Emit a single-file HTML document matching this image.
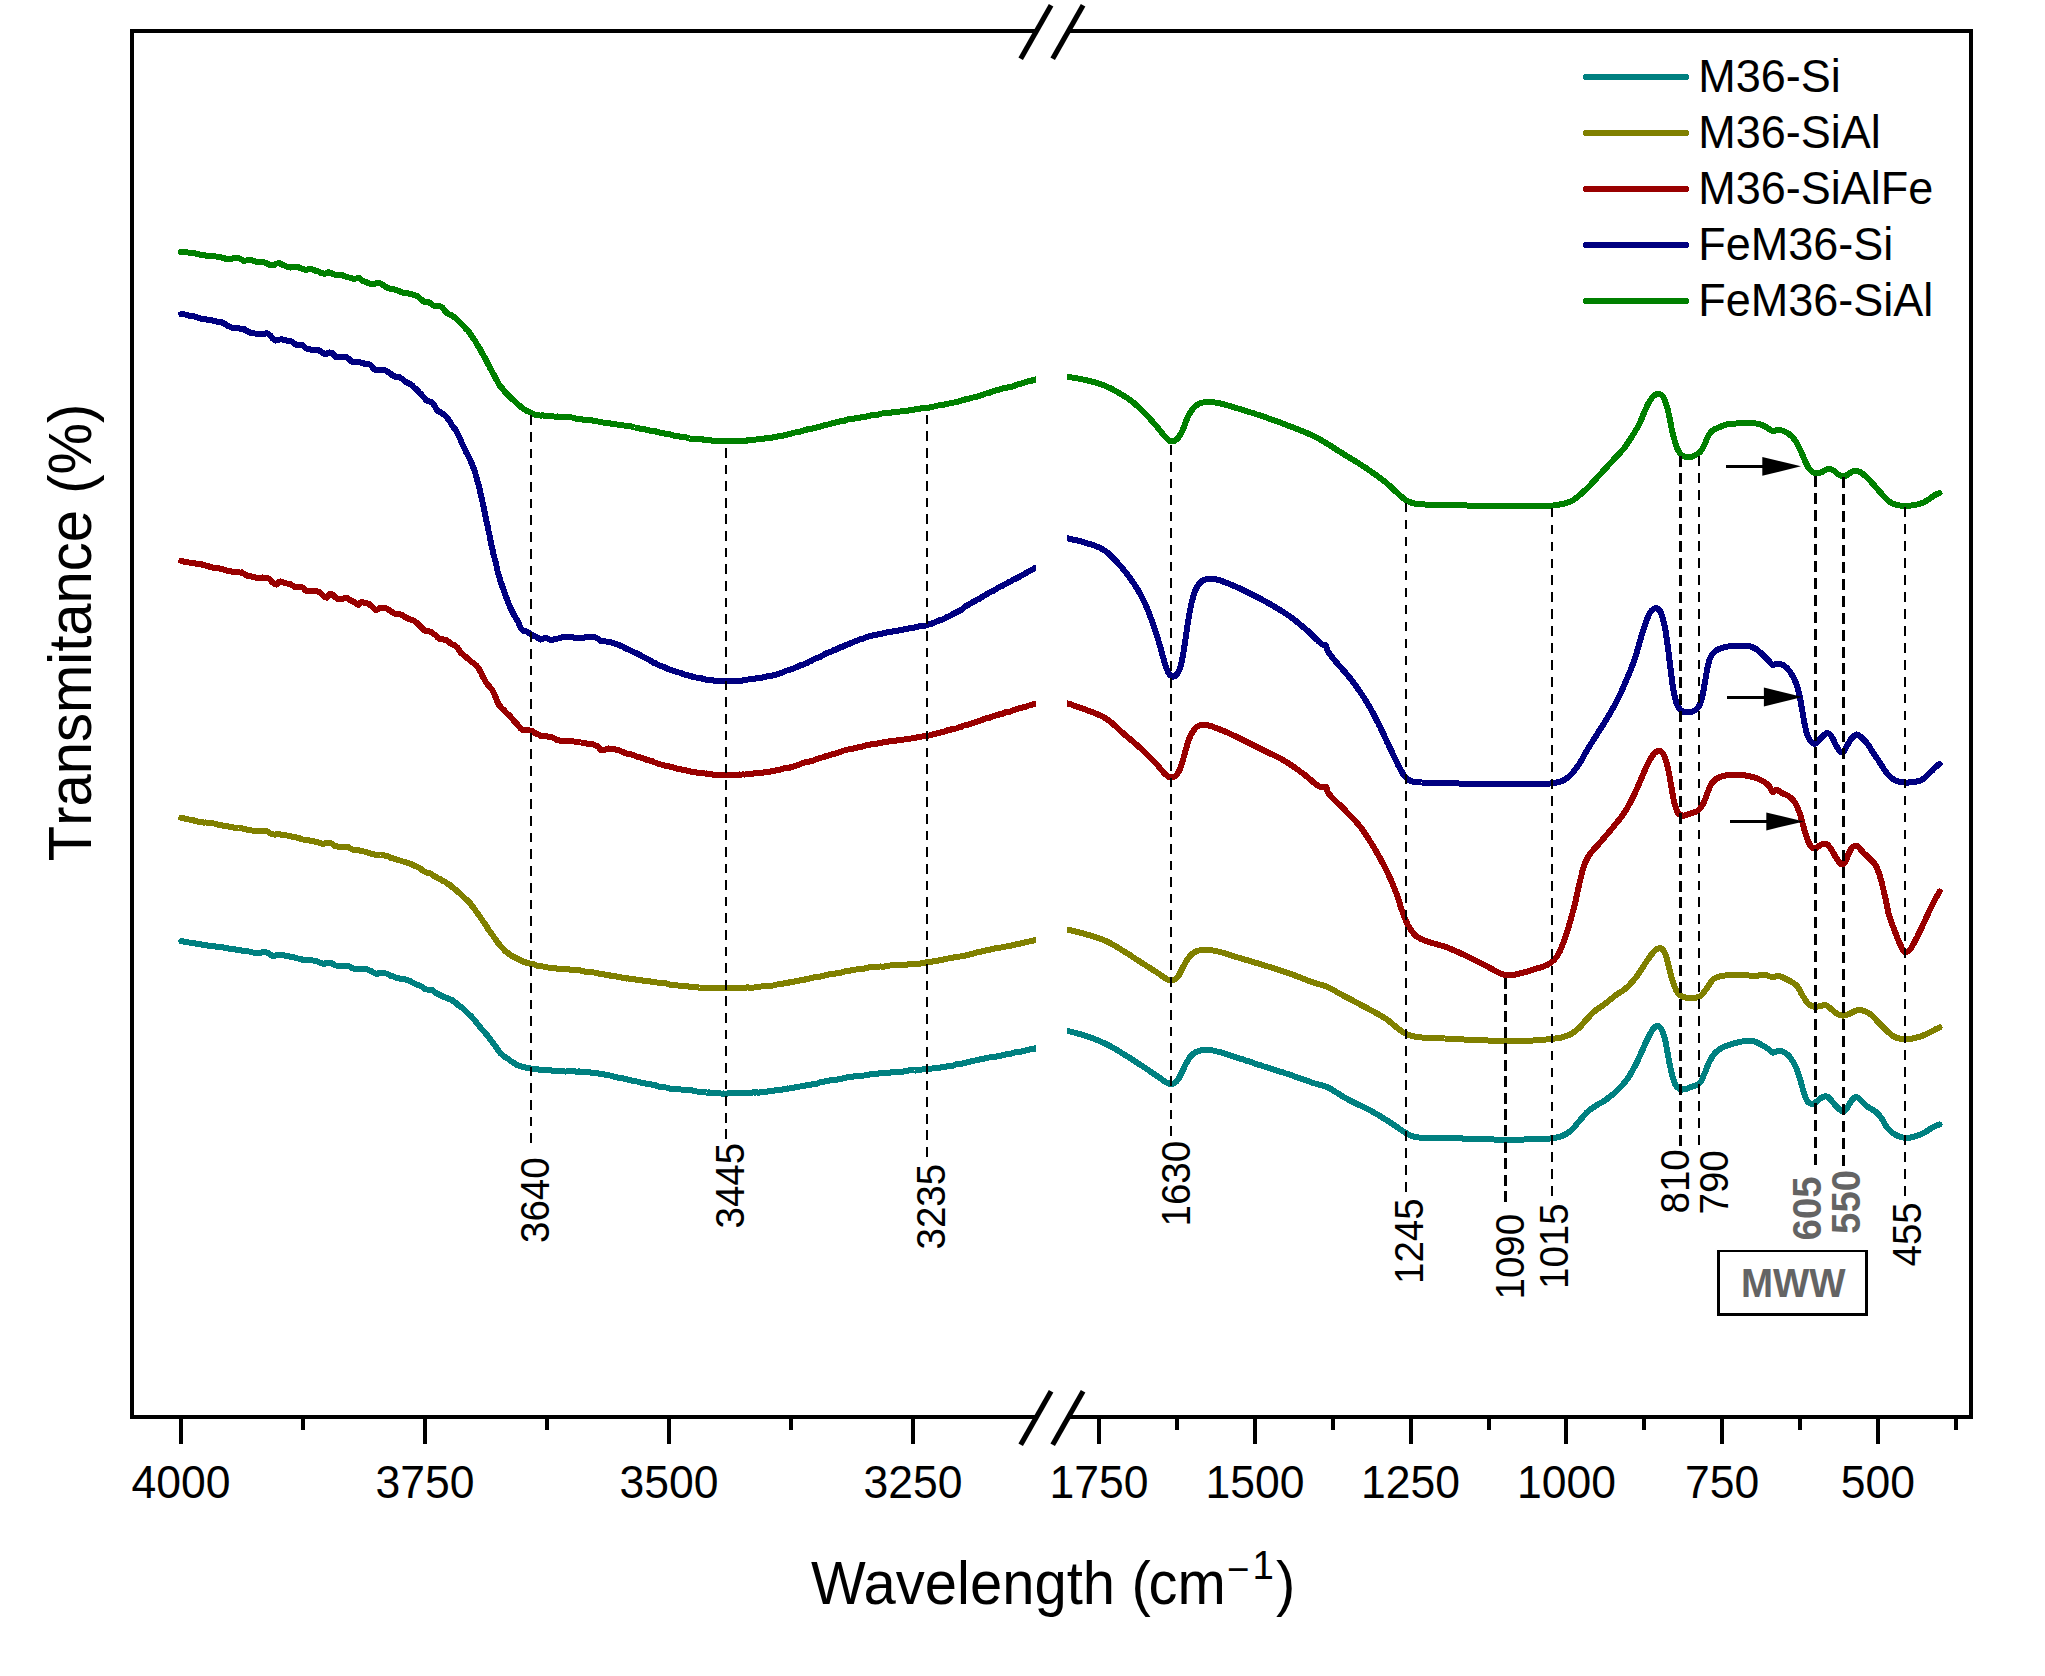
<!DOCTYPE html>
<html lang="en"><head><meta charset="utf-8"><title>FTIR spectra</title>
<style>html,body{margin:0;padding:0;background:#fff}svg{display:block}</style></head>
<body>
<svg width="2045" height="1676" viewBox="0 0 2045 1676">
<rect width="2045" height="1676" fill="#fff"/>
<g fill="none" stroke-width="6" stroke-linejoin="round" shape-rendering="crispEdges">
<path d="M181.2 941.2 L181.4 941.1 L182.1 941.4 L183.1 941.4 L184.4 941.7 L185.9 942.0 L187.5 942.1 L189.1 942.5 L190.6 942.6 L192.0 942.9 L193.1 942.9 L194.3 943.0 L195.5 943.4 L196.7 943.9 L198.0 943.8 L199.2 943.9 L200.5 944.2 L201.7 944.7 L203.0 944.8 L204.2 944.9 L205.5 945.3 L206.7 945.1 L207.9 945.6 L209.1 945.6 L210.4 945.6 L211.6 945.6 L212.8 945.9 L214.0 946.4 L215.2 946.4 L216.4 946.7 L217.6 947.1 L218.9 947.2 L220.1 947.4 L221.3 947.3 L222.5 947.4 L223.8 947.5 L225.0 948.0 L226.3 948.2 L227.6 948.3 L228.8 948.6 L230.1 948.7 L231.3 948.8 L232.5 949.2 L233.7 949.5 L234.9 949.4 L236.0 949.6 L237.4 949.8 L238.7 950.2 L240.0 950.4 L241.2 950.4 L242.5 950.8 L243.7 950.7 L245.0 950.8 L246.3 951.2 L247.6 951.2 L248.9 951.5 L250.2 951.5 L251.6 952.0 L252.9 952.5 L254.3 952.7 L255.6 953.1 L256.8 953.0 L258.0 953.2 L259.3 953.1 L260.6 952.8 L261.8 952.4 L262.9 952.3 L264.1 952.4 L265.3 952.2 L266.6 952.6 L267.8 952.9 L269.0 953.8 L270.3 954.6 L271.5 955.5 L272.7 955.9 L274.2 955.7 L275.5 955.5 L277.0 955.4 L278.6 955.0 L279.7 955.1 L281.0 955.1 L282.3 955.1 L283.6 955.2 L285.0 955.7 L286.4 955.8 L287.7 956.0 L289.1 956.2 L290.3 956.8 L291.6 956.7 L293.0 957.0 L294.3 957.3 L295.5 957.8 L296.8 958.2 L298.0 958.5 L299.1 958.5 L300.4 958.8 L301.5 959.1 L302.7 959.8 L303.8 960.4 L305.0 960.3 L306.4 960.2 L307.9 960.1 L309.3 959.9 L310.8 960.1 L312.0 960.4 L313.2 960.5 L314.5 960.5 L315.8 960.9 L317.0 961.2 L318.2 961.7 L319.4 962.4 L320.6 962.9 L321.7 963.3 L322.8 963.7 L324.0 963.9 L325.2 963.4 L326.4 963.4 L327.6 963.1 L328.7 962.9 L329.9 962.9 L331.1 963.1 L332.3 963.7 L333.4 964.3 L334.6 965.2 L335.8 965.5 L337.2 965.7 L338.7 965.8 L340.1 965.7 L341.6 965.8 L343.1 965.7 L344.6 965.5 L346.0 965.5 L347.5 965.6 L348.7 966.1 L349.8 966.6 L351.0 967.6 L352.2 968.3 L353.4 968.5 L354.6 968.6 L355.8 968.7 L357.0 968.8 L358.2 968.7 L359.5 969.0 L360.7 969.4 L361.9 969.3 L363.2 969.3 L364.4 969.1 L365.6 969.1 L366.8 969.3 L368.0 969.6 L369.3 970.4 L370.5 970.8 L371.7 971.2 L372.9 972.3 L373.9 972.8 L375.4 973.6 L376.8 974.2 L378.2 973.5 L379.6 972.8 L381.2 972.7 L382.3 972.9 L383.5 973.1 L384.7 973.2 L385.9 973.5 L387.1 973.8 L388.3 974.5 L389.4 975.0 L390.5 975.7 L391.7 976.0 L393.0 976.3 L394.2 976.9 L395.4 977.5 L396.6 977.9 L397.9 978.2 L399.2 978.5 L400.5 978.8 L401.8 978.8 L403.1 979.1 L404.3 979.4 L405.6 979.5 L406.8 979.8 L408.1 980.3 L409.4 980.7 L410.6 981.5 L411.9 982.3 L413.2 982.7 L414.5 983.4 L415.8 984.1 L417.0 984.7 L418.3 985.0 L419.4 985.3 L420.6 985.9 L421.8 986.6 L422.9 987.3 L424.0 988.2 L425.2 989.1 L426.7 989.5 L428.1 989.5 L429.6 989.6 L431.1 990.0 L432.3 990.2 L433.5 991.0 L434.7 992.0 L435.8 992.9 L437.0 993.7 L438.2 994.1 L439.3 994.5 L440.5 995.3 L441.6 995.7 L442.8 996.5 L444.0 997.2 L445.2 997.3 L446.3 997.6 L447.5 998.3 L448.7 998.8 L449.9 999.1 L451.1 999.6 L452.3 1000.2 L453.4 1001.3 L454.6 1002.3 L455.6 1002.7 L456.6 1003.6 L457.5 1004.6 L458.5 1005.3 L459.4 1005.8 L460.4 1006.6 L461.4 1007.2 L462.4 1007.8 L463.5 1009.2 L464.4 1010.1 L465.4 1011.0 L466.3 1012.0 L467.2 1012.7 L468.1 1013.7 L469.0 1014.6 L470.0 1015.4 L470.6 1015.8 L471.3 1016.5 L472.0 1017.2 L472.7 1018.2 L473.5 1019.0 L474.3 1020.0 L475.1 1020.8 L476.0 1022.2 L476.9 1023.1 L477.7 1024.1 L478.6 1025.2 L479.5 1026.5 L480.3 1027.3 L481.1 1028.5 L481.9 1029.4 L482.7 1030.2 L483.5 1031.2 L484.4 1031.9 L485.2 1032.9 L486.0 1033.8 L486.8 1034.6 L487.6 1036.0 L488.4 1036.8 L489.2 1037.9 L489.9 1039.0 L490.7 1040.0 L491.4 1040.8 L492.2 1041.8 L492.9 1042.8 L493.7 1044.0 L494.5 1044.8 L495.2 1046.0 L495.9 1046.9 L496.6 1047.9 L497.3 1049.2 L498.1 1050.2 L498.8 1051.2 L499.6 1052.3 L500.5 1053.4 L501.4 1054.1 L502.4 1054.9 L503.3 1055.6 L504.3 1056.4 L505.4 1057.2 L506.4 1057.8 L507.5 1058.6 L508.5 1059.2 L509.6 1060.2 L510.7 1060.9 L511.8 1061.7 L512.9 1062.5 L514.0 1062.9 L515.1 1063.6 L516.3 1064.5 L517.4 1065.2 L518.6 1065.5 L519.8 1065.8 L521.0 1066.4 L522.2 1066.6 L523.4 1067.0 L524.6 1067.2 L525.8 1067.7 L527.1 1068.1 L528.3 1068.5 L529.6 1068.3 L530.9 1068.6 L532.2 1068.8 L533.5 1068.6 L534.8 1069.0 L536.1 1069.4 L537.3 1069.2 L538.6 1069.6 L539.8 1069.6 L541.0 1069.7 L542.2 1070.2 L543.5 1070.4 L544.7 1070.2 L546.0 1070.3 L547.3 1070.4 L548.6 1070.5 L550.0 1070.4 L551.4 1070.5 L552.5 1070.9 L553.6 1070.6 L554.7 1070.8 L555.9 1070.9 L557.1 1070.7 L558.3 1070.8 L559.5 1071.0 L560.7 1071.1 L562.0 1070.9 L563.2 1071.3 L564.5 1071.4 L565.8 1071.6 L567.0 1071.2 L568.3 1071.1 L569.6 1070.9 L570.8 1071.2 L572.0 1071.1 L573.3 1071.0 L574.5 1071.1 L575.6 1071.5 L576.8 1071.8 L578.1 1071.6 L579.3 1071.4 L580.6 1071.8 L581.8 1071.9 L583.0 1072.1 L584.2 1071.8 L585.4 1071.7 L586.6 1072.0 L587.8 1072.1 L589.0 1072.0 L590.2 1072.5 L591.4 1072.7 L592.6 1073.0 L593.7 1072.7 L594.9 1073.1 L596.0 1073.0 L597.2 1073.4 L598.4 1073.5 L599.6 1073.6 L600.8 1073.9 L602.0 1074.4 L603.1 1074.4 L604.3 1074.4 L605.4 1074.8 L606.6 1075.0 L607.7 1075.1 L608.9 1075.3 L610.1 1075.5 L611.3 1075.8 L612.5 1076.1 L613.7 1076.5 L615.0 1077.0 L616.1 1077.2 L617.3 1077.5 L618.4 1077.5 L619.6 1077.8 L620.8 1077.8 L622.0 1078.1 L623.2 1078.2 L624.4 1078.8 L625.7 1079.2 L626.9 1079.2 L628.2 1079.6 L629.4 1080.1 L630.7 1080.1 L631.9 1080.6 L633.2 1080.7 L634.4 1081.0 L635.6 1081.4 L636.9 1081.5 L638.1 1081.7 L639.2 1082.1 L640.4 1082.6 L641.6 1082.6 L642.8 1083.0 L644.0 1083.3 L645.2 1083.5 L646.4 1083.7 L647.6 1083.8 L648.7 1083.8 L649.9 1084.0 L651.0 1084.2 L652.2 1084.8 L653.4 1085.0 L654.5 1085.2 L655.7 1085.3 L656.9 1086.0 L658.1 1086.5 L659.3 1086.8 L660.5 1086.8 L661.7 1086.8 L662.9 1087.0 L664.0 1087.2 L665.2 1087.3 L666.4 1087.6 L667.6 1087.7 L668.8 1088.2 L670.0 1088.6 L671.2 1088.7 L672.4 1088.6 L673.6 1089.0 L674.9 1088.9 L676.1 1089.0 L677.3 1088.9 L678.5 1089.1 L679.8 1089.3 L681.0 1089.5 L682.2 1089.5 L683.4 1089.7 L684.7 1089.6 L685.9 1089.8 L687.1 1089.8 L688.3 1090.1 L689.5 1090.1 L690.7 1090.1 L692.0 1090.4 L693.2 1090.6 L694.4 1090.9 L695.6 1091.2 L696.8 1091.5 L698.0 1091.7 L699.2 1091.9 L700.5 1092.1 L701.7 1092.1 L702.9 1092.0 L704.1 1092.4 L705.3 1092.2 L706.5 1092.5 L707.7 1092.6 L709.0 1092.4 L710.2 1092.7 L711.4 1093.0 L712.6 1093.1 L713.8 1093.2 L715.0 1093.3 L716.2 1093.0 L717.4 1093.1 L718.6 1093.1 L719.9 1093.3 L721.1 1093.5 L722.3 1093.6 L723.5 1093.5 L724.7 1093.7 L725.9 1093.6 L727.1 1093.6 L728.3 1093.4 L729.5 1093.1 L730.7 1093.0 L732.0 1093.0 L733.2 1092.9 L734.4 1093.3 L735.6 1093.3 L736.8 1093.4 L738.0 1093.4 L739.2 1093.5 L740.4 1093.4 L741.6 1093.0 L742.8 1093.2 L744.1 1093.3 L745.3 1093.2 L746.5 1093.2 L747.7 1093.2 L748.9 1092.8 L750.1 1093.0 L751.3 1092.7 L752.5 1092.5 L753.7 1092.4 L754.9 1092.6 L756.2 1092.4 L757.4 1092.5 L758.6 1092.7 L759.8 1092.5 L761.0 1092.2 L762.2 1092.1 L763.4 1092.1 L764.6 1092.1 L765.8 1092.0 L767.0 1091.8 L768.2 1091.4 L769.5 1091.1 L770.7 1090.9 L771.9 1091.0 L773.1 1090.7 L774.3 1090.7 L775.5 1090.2 L776.7 1089.9 L777.9 1089.8 L779.1 1089.9 L780.3 1089.9 L781.5 1089.8 L782.8 1089.4 L784.0 1089.2 L785.2 1089.0 L786.4 1088.8 L787.6 1088.4 L788.8 1088.6 L790.0 1088.2 L791.2 1088.3 L792.4 1088.3 L793.7 1087.6 L794.9 1087.4 L796.1 1087.4 L797.3 1087.4 L798.5 1087.0 L799.7 1086.6 L801.0 1086.2 L802.2 1086.3 L803.4 1085.9 L804.6 1085.7 L805.8 1085.3 L807.0 1085.2 L808.2 1085.3 L809.4 1084.7 L810.7 1084.7 L811.9 1084.4 L813.1 1084.4 L814.3 1084.2 L815.5 1083.7 L816.7 1083.7 L817.9 1083.3 L819.1 1082.7 L820.4 1082.3 L821.6 1082.2 L822.8 1082.0 L824.0 1081.7 L825.2 1081.3 L826.4 1081.1 L827.6 1080.9 L828.8 1080.9 L830.0 1080.4 L831.2 1080.4 L832.4 1080.4 L833.6 1079.8 L834.9 1079.9 L836.1 1079.7 L837.3 1079.6 L838.5 1079.1 L839.7 1078.8 L840.9 1078.5 L842.1 1078.6 L843.3 1078.4 L844.5 1078.0 L845.7 1077.8 L846.9 1077.4 L848.2 1077.0 L849.4 1076.7 L850.6 1076.9 L851.8 1076.7 L853.0 1076.8 L854.2 1076.4 L855.4 1076.1 L856.6 1076.0 L857.8 1075.7 L859.0 1075.6 L860.3 1075.8 L861.5 1075.8 L862.7 1075.7 L863.9 1075.5 L865.1 1075.4 L866.3 1075.4 L867.5 1075.1 L868.7 1074.9 L869.9 1074.4 L871.0 1074.4 L872.2 1074.2 L873.4 1074.2 L874.6 1074.2 L875.7 1073.8 L876.9 1073.5 L878.1 1073.7 L879.3 1073.3 L880.5 1073.3 L881.7 1073.1 L882.9 1073.0 L884.1 1073.1 L885.4 1073.3 L886.6 1072.9 L887.9 1072.9 L889.2 1072.6 L890.5 1072.5 L891.6 1072.3 L892.8 1072.1 L893.9 1071.8 L895.2 1071.7 L896.4 1072.0 L897.6 1071.9 L898.9 1071.6 L900.2 1071.8 L901.5 1071.9 L902.8 1071.6 L904.1 1071.2 L905.4 1070.9 L906.7 1070.7 L908.0 1070.6 L909.3 1070.4 L910.6 1070.3 L911.9 1070.2 L913.2 1070.3 L914.5 1070.5 L915.7 1070.5 L917.0 1070.2 L918.2 1070.0 L919.4 1070.0 L920.6 1069.8 L921.7 1069.6 L922.8 1069.3 L923.9 1069.2 L924.9 1069.5 L925.9 1069.1 L926.9 1069.1 L928.3 1069.1 L929.7 1069.1 L930.9 1068.7 L932.1 1068.5 L933.2 1068.3 L934.3 1068.2 L935.4 1068.1 L936.5 1068.3 L937.7 1068.3 L938.8 1068.2 L940.1 1067.6 L941.4 1067.1 L942.5 1067.2 L943.5 1067.2 L944.7 1066.9 L945.8 1066.7 L947.0 1066.2 L948.1 1066.0 L949.4 1066.1 L950.6 1066.0 L951.8 1065.8 L953.0 1065.7 L954.3 1065.1 L955.5 1064.5 L956.8 1064.1 L958.1 1064.0 L959.3 1063.9 L960.6 1063.9 L961.9 1063.6 L963.1 1063.3 L964.4 1063.1 L965.6 1062.7 L966.8 1062.4 L968.0 1061.9 L969.2 1061.9 L970.4 1061.4 L971.6 1061.5 L972.8 1061.3 L974.1 1060.8 L975.3 1060.4 L976.5 1060.1 L977.7 1060.0 L978.9 1059.9 L980.1 1059.4 L981.3 1059.0 L982.5 1058.9 L983.7 1058.8 L984.9 1058.5 L986.1 1058.2 L987.4 1058.1 L988.6 1057.6 L989.8 1057.4 L991.0 1057.2 L992.2 1057.3 L993.4 1057.1 L994.6 1057.0 L995.9 1056.7 L997.1 1056.2 L998.4 1055.8 L999.6 1055.9 L1000.9 1055.7 L1002.1 1055.2 L1003.4 1054.7 L1004.6 1054.6 L1005.9 1054.5 L1007.1 1054.2 L1008.3 1053.8 L1009.5 1053.8 L1010.7 1053.8 L1011.9 1053.3 L1013.1 1052.7 L1014.3 1052.5 L1015.5 1052.4 L1016.6 1052.3 L1017.7 1051.9 L1019.1 1051.9 L1020.5 1051.7 L1022.0 1051.3 L1023.6 1050.7 L1025.2 1050.7 L1026.8 1050.2 L1028.3 1050.1 L1029.7 1049.5 L1031.1 1049.1 L1032.3 1049.0 L1033.4 1048.7 L1034.3 1048.8 L1034.9 1048.5 L1035.4 1048.2 L1035.5 1048.1" stroke="#008080" stroke-linecap="round"/>
<path d="M1067.1 1030.7 L1067.3 1030.7 L1067.7 1030.9 L1068.4 1031.0 L1069.3 1031.3 L1070.5 1031.6 L1071.8 1031.9 L1073.2 1032.3 L1074.7 1032.7 L1076.3 1033.1 L1077.9 1033.5 L1079.5 1034.0 L1081.1 1034.5 L1082.6 1034.9 L1084.1 1035.4 L1085.4 1035.8 L1086.5 1036.2 L1087.6 1036.6 L1088.8 1037.0 L1089.9 1037.4 L1091.1 1037.8 L1092.2 1038.2 L1093.4 1038.6 L1094.5 1039.1 L1095.7 1039.5 L1096.8 1040.0 L1098.0 1040.4 L1099.1 1040.9 L1100.3 1041.4 L1101.4 1041.9 L1102.5 1042.4 L1103.6 1042.9 L1104.7 1043.4 L1105.8 1043.9 L1106.9 1044.4 L1108.0 1045.0 L1109.1 1045.5 L1110.1 1046.1 L1111.2 1046.7 L1112.2 1047.3 L1113.3 1047.9 L1114.3 1048.5 L1115.4 1049.1 L1116.4 1049.7 L1117.4 1050.3 L1118.4 1051.0 L1119.5 1051.6 L1120.5 1052.2 L1121.5 1052.8 L1122.6 1053.5 L1123.6 1054.1 L1124.7 1054.7 L1125.7 1055.4 L1126.8 1056.1 L1127.8 1056.7 L1128.9 1057.4 L1130.0 1058.1 L1131.0 1058.7 L1132.1 1059.4 L1133.1 1060.1 L1134.2 1060.8 L1135.2 1061.5 L1136.3 1062.1 L1137.3 1062.8 L1138.4 1063.5 L1139.4 1064.2 L1140.4 1064.8 L1141.4 1065.5 L1142.5 1066.2 L1143.5 1066.9 L1144.6 1067.6 L1145.6 1068.3 L1146.7 1069.0 L1147.7 1069.7 L1148.8 1070.4 L1149.8 1071.1 L1150.8 1071.8 L1151.8 1072.5 L1152.8 1073.1 L1153.8 1073.8 L1154.7 1074.4 L1155.7 1075.1 L1156.6 1075.7 L1157.7 1076.5 L1158.8 1077.3 L1159.9 1078.0 L1161.0 1078.8 L1162.0 1079.6 L1163.0 1080.3 L1164.0 1081.0 L1165.0 1081.6 L1165.9 1082.1 L1166.8 1082.6 L1168.2 1083.2 L1169.4 1083.8 L1170.7 1084.1 L1171.9 1084.1 L1173.0 1083.8 L1174.0 1083.3 L1175.1 1082.6 L1176.1 1081.7 L1177.0 1080.8 L1177.7 1079.9 L1178.4 1079.0 L1179.0 1077.9 L1179.6 1076.7 L1180.2 1075.5 L1180.8 1074.3 L1181.4 1073.1 L1182.0 1071.9 L1182.6 1070.8 L1183.1 1069.6 L1183.7 1068.5 L1184.2 1067.3 L1184.8 1066.1 L1185.3 1065.0 L1185.9 1063.8 L1186.5 1062.7 L1187.1 1061.7 L1187.8 1060.6 L1188.5 1059.5 L1189.1 1058.4 L1189.8 1057.3 L1190.6 1056.3 L1191.4 1055.4 L1192.2 1054.6 L1193.2 1053.8 L1194.2 1053.1 L1195.2 1052.5 L1196.3 1051.9 L1197.4 1051.4 L1198.6 1051.0 L1199.8 1050.7 L1201.0 1050.4 L1202.3 1050.1 L1203.5 1050.0 L1204.9 1049.9 L1206.2 1049.8 L1207.5 1049.8 L1208.7 1049.9 L1209.9 1050.0 L1211.1 1050.1 L1212.3 1050.4 L1213.5 1050.6 L1214.8 1050.9 L1216.2 1051.3 L1217.6 1051.6 L1218.6 1051.9 L1219.7 1052.1 L1220.8 1052.4 L1221.9 1052.8 L1223.0 1053.1 L1224.2 1053.5 L1225.4 1053.8 L1226.6 1054.2 L1227.9 1054.6 L1229.1 1055.0 L1230.4 1055.4 L1231.6 1055.8 L1232.9 1056.2 L1234.2 1056.7 L1235.5 1057.1 L1236.7 1057.5 L1238.0 1057.9 L1239.1 1058.3 L1240.2 1058.6 L1241.3 1059.0 L1242.5 1059.3 L1243.6 1059.7 L1244.7 1060.1 L1245.9 1060.5 L1247.0 1060.9 L1248.2 1061.2 L1249.4 1061.6 L1250.5 1062.0 L1251.7 1062.4 L1252.9 1062.8 L1254.0 1063.2 L1255.2 1063.6 L1256.4 1064.0 L1257.6 1064.4 L1258.7 1064.8 L1259.9 1065.2 L1261.1 1065.5 L1262.2 1065.9 L1263.4 1066.3 L1264.6 1066.7 L1265.7 1067.0 L1266.9 1067.4 L1268.0 1067.8 L1269.2 1068.1 L1270.3 1068.5 L1271.5 1068.9 L1272.6 1069.2 L1273.8 1069.6 L1274.9 1070.0 L1276.1 1070.3 L1277.3 1070.7 L1278.4 1071.0 L1279.6 1071.4 L1280.7 1071.8 L1281.9 1072.1 L1283.0 1072.5 L1284.2 1072.9 L1285.3 1073.3 L1286.5 1073.6 L1287.6 1074.0 L1288.8 1074.4 L1290.0 1074.8 L1291.2 1075.2 L1292.4 1075.6 L1293.6 1076.0 L1294.8 1076.5 L1296.0 1076.9 L1297.2 1077.3 L1298.4 1077.8 L1299.7 1078.2 L1300.9 1078.6 L1302.1 1079.1 L1303.3 1079.5 L1304.5 1079.9 L1305.7 1080.3 L1306.8 1080.7 L1308.0 1081.1 L1309.1 1081.5 L1310.2 1081.9 L1311.3 1082.3 L1312.3 1082.6 L1313.3 1083.0 L1314.3 1083.3 L1315.6 1083.7 L1316.8 1084.1 L1318.0 1084.4 L1319.2 1084.6 L1320.3 1084.9 L1321.3 1085.2 L1322.4 1085.5 L1323.5 1085.8 L1324.6 1086.2 L1325.8 1086.6 L1327.0 1087.1 L1328.0 1087.6 L1329.0 1088.0 L1330.0 1088.6 L1331.0 1089.1 L1332.0 1089.7 L1333.1 1090.3 L1334.1 1091.0 L1335.1 1091.6 L1336.2 1092.3 L1337.3 1093.0 L1338.4 1093.7 L1339.5 1094.4 L1340.6 1095.1 L1341.7 1095.8 L1342.8 1096.5 L1344.0 1097.2 L1345.1 1097.8 L1346.3 1098.5 L1347.3 1099.0 L1348.3 1099.6 L1349.3 1100.1 L1350.4 1100.6 L1351.4 1101.2 L1352.5 1101.7 L1353.6 1102.3 L1354.7 1102.8 L1355.8 1103.3 L1356.9 1103.9 L1358.0 1104.4 L1359.1 1105.0 L1360.3 1105.5 L1361.4 1106.1 L1362.5 1106.6 L1363.6 1107.2 L1364.8 1107.7 L1365.9 1108.3 L1367.0 1108.8 L1368.1 1109.4 L1369.2 1109.9 L1370.2 1110.5 L1371.3 1111.0 L1372.3 1111.6 L1373.3 1112.1 L1374.3 1112.7 L1375.5 1113.4 L1376.6 1114.0 L1377.8 1114.7 L1378.9 1115.4 L1380.1 1116.1 L1381.2 1116.8 L1382.3 1117.5 L1383.4 1118.2 L1384.5 1118.9 L1385.6 1119.6 L1386.7 1120.2 L1387.7 1120.9 L1388.8 1121.6 L1389.8 1122.3 L1390.8 1122.9 L1391.8 1123.6 L1392.7 1124.2 L1393.7 1124.8 L1394.6 1125.4 L1395.8 1126.2 L1396.9 1126.9 L1398.0 1127.7 L1399.0 1128.5 L1400.1 1129.2 L1401.1 1129.9 L1402.1 1130.6 L1403.0 1131.3 L1404.0 1131.9 L1405.0 1132.5 L1406.0 1133.1 L1407.1 1133.7 L1408.2 1134.3 L1409.2 1134.8 L1410.2 1135.3 L1411.2 1135.8 L1412.4 1136.2 L1413.6 1136.6 L1414.9 1136.9 L1415.8 1137.1 L1416.8 1137.2 L1417.8 1137.4 L1418.9 1137.5 L1420.0 1137.5 L1421.1 1137.6 L1422.3 1137.6 L1423.5 1137.6 L1424.7 1137.6 L1425.9 1137.6 L1427.2 1137.6 L1428.5 1137.6 L1429.8 1137.6 L1431.1 1137.6 L1432.4 1137.5 L1433.7 1137.5 L1435.1 1137.5 L1436.4 1137.6 L1437.8 1137.6 L1438.9 1137.6 L1440.0 1137.7 L1441.1 1137.7 L1442.3 1137.7 L1443.5 1137.8 L1444.7 1137.8 L1445.9 1137.9 L1447.1 1137.9 L1448.3 1138.0 L1449.6 1138.0 L1450.8 1138.0 L1452.1 1138.1 L1453.4 1138.1 L1454.7 1138.2 L1456.0 1138.2 L1457.2 1138.3 L1458.5 1138.3 L1459.8 1138.4 L1461.1 1138.4 L1462.4 1138.5 L1463.7 1138.5 L1465.0 1138.5 L1466.3 1138.6 L1467.5 1138.6 L1468.8 1138.7 L1470.0 1138.7 L1471.2 1138.7 L1472.5 1138.8 L1473.7 1138.8 L1474.8 1138.9 L1476.0 1138.9 L1477.3 1138.9 L1478.6 1139.0 L1479.9 1139.0 L1481.2 1139.1 L1482.4 1139.1 L1483.7 1139.2 L1484.9 1139.2 L1486.2 1139.2 L1487.4 1139.3 L1488.6 1139.3 L1489.9 1139.4 L1491.1 1139.4 L1492.3 1139.4 L1493.5 1139.5 L1494.7 1139.5 L1495.9 1139.5 L1497.1 1139.6 L1498.3 1139.6 L1499.5 1139.6 L1500.7 1139.6 L1501.9 1139.7 L1503.1 1139.7 L1504.3 1139.7 L1505.5 1139.7 L1506.7 1139.7 L1508.0 1139.7 L1509.2 1139.7 L1510.4 1139.7 L1511.7 1139.7 L1512.9 1139.7 L1514.1 1139.7 L1515.4 1139.6 L1516.6 1139.6 L1517.8 1139.6 L1519.0 1139.6 L1520.2 1139.5 L1521.4 1139.5 L1522.6 1139.5 L1523.8 1139.5 L1525.0 1139.4 L1526.2 1139.4 L1527.3 1139.3 L1528.5 1139.3 L1529.6 1139.3 L1530.8 1139.2 L1531.9 1139.2 L1533.2 1139.2 L1534.5 1139.1 L1535.7 1139.1 L1537.0 1139.1 L1538.3 1139.0 L1539.6 1139.0 L1540.8 1139.0 L1542.1 1138.9 L1543.3 1138.9 L1544.5 1138.8 L1545.7 1138.8 L1546.9 1138.7 L1548.0 1138.6 L1549.2 1138.6 L1550.2 1138.5 L1551.3 1138.3 L1552.3 1138.2 L1553.8 1138.0 L1555.2 1137.7 L1556.5 1137.5 L1557.8 1137.2 L1559.0 1136.9 L1560.2 1136.6 L1561.4 1136.2 L1562.6 1135.7 L1563.7 1135.2 L1564.8 1134.7 L1565.8 1134.1 L1566.9 1133.5 L1567.9 1132.8 L1568.8 1132.1 L1569.8 1131.4 L1570.8 1130.6 L1571.7 1129.8 L1572.5 1129.0 L1573.3 1128.1 L1574.2 1127.2 L1575.0 1126.2 L1575.8 1125.3 L1576.6 1124.3 L1577.4 1123.3 L1578.2 1122.3 L1579.0 1121.4 L1579.8 1120.5 L1580.6 1119.5 L1581.4 1118.5 L1582.2 1117.6 L1583.0 1116.6 L1583.9 1115.6 L1584.7 1114.7 L1585.5 1113.8 L1586.3 1112.9 L1587.2 1112.1 L1588.2 1111.2 L1589.2 1110.4 L1590.2 1109.6 L1591.2 1108.9 L1592.3 1108.2 L1593.3 1107.4 L1594.4 1106.7 L1595.5 1106.0 L1596.6 1105.3 L1597.7 1104.6 L1598.8 1104.0 L1600.0 1103.3 L1601.1 1102.6 L1602.3 1102.0 L1603.4 1101.3 L1604.6 1100.6 L1605.7 1099.8 L1606.8 1099.1 L1607.8 1098.3 L1608.8 1097.5 L1609.9 1096.8 L1610.9 1095.9 L1612.0 1095.1 L1613.0 1094.3 L1614.0 1093.4 L1615.0 1092.5 L1616.0 1091.6 L1616.9 1090.8 L1617.8 1089.9 L1618.7 1089.0 L1619.6 1088.1 L1620.5 1087.2 L1621.3 1086.2 L1622.2 1085.3 L1623.1 1084.3 L1623.9 1083.3 L1624.7 1082.3 L1625.5 1081.3 L1626.3 1080.3 L1627.0 1079.3 L1627.7 1078.4 L1628.4 1077.4 L1629.0 1076.4 L1629.7 1075.4 L1630.3 1074.4 L1630.9 1073.3 L1631.5 1072.3 L1632.1 1071.3 L1632.7 1070.2 L1633.3 1069.1 L1633.9 1068.0 L1634.5 1066.9 L1635.0 1065.9 L1635.6 1064.8 L1636.1 1063.8 L1636.6 1062.7 L1637.2 1061.6 L1637.7 1060.5 L1638.2 1059.4 L1638.7 1058.2 L1639.2 1057.1 L1639.8 1056.0 L1640.3 1054.9 L1640.8 1053.8 L1641.2 1052.7 L1641.7 1051.6 L1642.2 1050.5 L1642.7 1049.5 L1643.2 1048.3 L1643.8 1047.1 L1644.3 1045.9 L1644.8 1044.8 L1645.3 1043.6 L1645.9 1042.5 L1646.4 1041.3 L1646.9 1040.2 L1647.4 1039.2 L1647.9 1038.1 L1648.4 1037.1 L1648.9 1036.1 L1649.5 1034.9 L1650.2 1033.7 L1650.8 1032.6 L1651.4 1031.5 L1652.1 1030.4 L1652.7 1029.5 L1653.3 1028.6 L1654.0 1027.9 L1655.2 1026.9 L1656.3 1026.1 L1657.5 1025.9 L1658.5 1026.2 L1659.4 1026.9 L1660.3 1027.9 L1661.2 1029.0 L1661.7 1029.8 L1662.2 1030.8 L1662.6 1031.8 L1663.0 1032.9 L1663.4 1034.1 L1663.8 1035.3 L1664.2 1036.6 L1664.5 1037.9 L1664.9 1039.2 L1665.2 1040.3 L1665.4 1041.4 L1665.7 1042.5 L1665.9 1043.7 L1666.2 1044.9 L1666.4 1046.2 L1666.6 1047.5 L1666.8 1048.7 L1667.0 1050.0 L1667.2 1051.3 L1667.5 1052.6 L1667.7 1053.9 L1667.9 1055.2 L1668.2 1056.5 L1668.4 1057.7 L1668.7 1058.9 L1668.9 1060.2 L1669.2 1061.5 L1669.4 1062.8 L1669.7 1064.1 L1669.9 1065.4 L1670.2 1066.7 L1670.5 1067.9 L1670.7 1069.2 L1671.0 1070.5 L1671.3 1071.7 L1671.6 1072.9 L1671.9 1074.0 L1672.2 1075.1 L1672.5 1076.2 L1672.9 1077.5 L1673.3 1078.9 L1673.7 1080.1 L1674.1 1081.4 L1674.5 1082.6 L1675.0 1083.7 L1675.4 1084.8 L1676.0 1085.7 L1676.6 1086.5 L1677.7 1087.6 L1678.9 1088.5 L1680.3 1089.1 L1681.7 1089.5 L1682.7 1089.5 L1683.9 1089.4 L1685.0 1089.2 L1686.2 1088.8 L1687.5 1088.4 L1688.7 1087.9 L1689.9 1087.5 L1691.1 1087.1 L1692.3 1086.7 L1693.6 1086.3 L1694.8 1085.9 L1696.0 1085.4 L1697.2 1084.8 L1698.2 1084.2 L1699.2 1083.4 L1700.1 1082.5 L1700.8 1081.5 L1701.5 1080.4 L1702.1 1079.2 L1702.6 1077.9 L1703.2 1076.7 L1703.7 1075.4 L1704.3 1074.1 L1704.8 1073.0 L1705.3 1071.9 L1705.7 1070.8 L1706.2 1069.7 L1706.6 1068.5 L1707.0 1067.3 L1707.5 1066.1 L1707.9 1065.0 L1708.4 1063.9 L1708.9 1062.8 L1709.4 1061.8 L1710.0 1060.7 L1710.6 1059.6 L1711.2 1058.5 L1711.8 1057.4 L1712.4 1056.4 L1713.1 1055.4 L1713.8 1054.5 L1714.6 1053.6 L1715.5 1052.7 L1716.4 1051.8 L1717.4 1051.0 L1718.4 1050.2 L1719.5 1049.4 L1720.6 1048.7 L1721.7 1048.0 L1722.8 1047.4 L1723.9 1046.9 L1725.0 1046.4 L1726.1 1045.9 L1727.2 1045.5 L1728.4 1045.1 L1729.6 1044.7 L1730.8 1044.4 L1731.9 1044.0 L1733.1 1043.7 L1734.4 1043.3 L1735.6 1043.0 L1736.9 1042.6 L1738.2 1042.3 L1739.5 1042.0 L1740.7 1041.7 L1742.0 1041.5 L1743.3 1041.3 L1744.6 1041.2 L1745.9 1041.0 L1747.2 1040.9 L1748.5 1040.9 L1749.8 1040.9 L1751.1 1041.0 L1752.4 1041.1 L1753.6 1041.3 L1754.9 1041.6 L1756.1 1042.1 L1757.3 1042.6 L1758.4 1043.2 L1759.6 1043.8 L1760.7 1044.4 L1761.8 1045.0 L1762.9 1045.6 L1764.0 1046.2 L1765.1 1046.9 L1766.1 1047.6 L1767.1 1048.2 L1768.1 1048.9 L1769.0 1049.5 L1770.1 1050.4 L1771.1 1051.4 L1772.1 1052.2 L1773.1 1052.6 L1774.4 1052.3 L1775.8 1051.6 L1777.2 1051.1 L1778.4 1051.0 L1779.7 1051.0 L1781.0 1051.2 L1782.3 1051.5 L1783.3 1051.9 L1784.4 1052.5 L1785.5 1053.1 L1786.5 1053.9 L1787.5 1054.7 L1788.5 1055.6 L1789.3 1056.4 L1790.0 1057.3 L1790.7 1058.3 L1791.4 1059.3 L1792.1 1060.3 L1792.8 1061.5 L1793.5 1062.6 L1794.1 1063.7 L1794.7 1064.9 L1795.2 1066.0 L1795.8 1067.1 L1796.3 1068.3 L1796.7 1069.5 L1797.2 1070.7 L1797.7 1071.9 L1798.1 1073.2 L1798.5 1074.4 L1799.0 1075.7 L1799.4 1077.0 L1799.8 1078.2 L1800.2 1079.4 L1800.5 1080.6 L1800.9 1081.8 L1801.2 1083.1 L1801.5 1084.3 L1801.9 1085.6 L1802.2 1086.8 L1802.5 1088.0 L1802.8 1089.2 L1803.2 1090.4 L1803.5 1091.5 L1803.9 1092.6 L1804.4 1093.9 L1804.8 1095.3 L1805.3 1096.6 L1805.8 1097.9 L1806.3 1099.1 L1806.8 1100.2 L1807.4 1101.1 L1808.0 1101.9 L1809.3 1103.0 L1810.7 1103.7 L1812.1 1103.9 L1813.4 1103.6 L1814.8 1102.8 L1816.2 1101.9 L1817.2 1101.2 L1818.2 1100.3 L1819.2 1099.4 L1820.3 1098.4 L1821.3 1097.7 L1822.4 1097.1 L1823.7 1096.7 L1825.0 1096.4 L1826.3 1096.4 L1827.5 1096.7 L1828.6 1097.4 L1829.6 1098.4 L1830.6 1099.6 L1831.6 1100.8 L1832.4 1101.7 L1833.3 1102.8 L1834.1 1103.9 L1835.0 1105.0 L1835.9 1106.1 L1836.9 1107.1 L1837.8 1108.0 L1839.0 1109.0 L1840.2 1110.0 L1841.4 1110.8 L1842.6 1111.4 L1843.6 1111.5 L1844.5 1111.1 L1845.4 1110.2 L1846.2 1109.1 L1847.0 1108.0 L1847.6 1107.1 L1848.3 1106.1 L1848.9 1105.0 L1849.5 1103.8 L1850.2 1102.7 L1850.8 1101.6 L1851.5 1100.6 L1852.2 1099.8 L1853.2 1098.8 L1854.2 1097.9 L1855.3 1097.3 L1856.3 1097.1 L1857.3 1097.4 L1858.3 1098.0 L1859.3 1098.9 L1860.4 1099.8 L1861.2 1100.5 L1862.1 1101.4 L1862.9 1102.3 L1863.8 1103.3 L1864.7 1104.2 L1865.6 1105.2 L1866.6 1106.0 L1867.6 1106.7 L1868.6 1107.3 L1869.6 1108.0 L1870.7 1108.5 L1871.8 1109.1 L1872.8 1109.8 L1873.9 1110.4 L1874.8 1111.1 L1875.8 1111.9 L1876.7 1112.7 L1877.6 1113.5 L1878.4 1114.4 L1879.3 1115.3 L1880.1 1116.3 L1880.9 1117.3 L1881.6 1118.3 L1882.3 1119.4 L1883.0 1120.6 L1883.6 1121.8 L1884.2 1123.0 L1884.9 1124.2 L1885.6 1125.4 L1886.3 1126.5 L1887.1 1127.5 L1887.9 1128.4 L1888.7 1129.3 L1889.6 1130.2 L1890.5 1131.1 L1891.4 1131.9 L1892.4 1132.7 L1893.3 1133.4 L1894.3 1134.1 L1895.3 1134.7 L1896.4 1135.3 L1897.6 1135.8 L1898.7 1136.3 L1900.0 1136.7 L1901.2 1137.1 L1902.4 1137.4 L1903.6 1137.6 L1904.8 1137.8 L1906.1 1137.9 L1907.4 1137.9 L1908.6 1137.8 L1909.9 1137.6 L1911.2 1137.4 L1912.5 1137.1 L1913.8 1136.8 L1914.9 1136.5 L1916.1 1136.1 L1917.2 1135.7 L1918.4 1135.3 L1919.5 1134.8 L1920.7 1134.3 L1921.8 1133.8 L1923.0 1133.3 L1924.1 1132.7 L1925.3 1132.1 L1926.4 1131.4 L1927.6 1130.7 L1928.7 1129.9 L1929.9 1129.1 L1931.0 1128.4 L1932.1 1127.7 L1933.2 1127.1 L1934.3 1126.5 L1935.6 1125.9 L1937.0 1125.4 L1938.3 1124.9 L1939.5 1124.5" stroke="#008080" stroke-linecap="round"/>
<path d="M181.2 817.9 L181.4 818.0 L182.1 818.4 L183.1 818.3 L184.4 818.5 L185.9 818.7 L187.5 819.4 L189.1 819.5 L190.6 819.6 L192.0 819.7 L193.1 820.1 L194.3 820.7 L195.5 821.1 L196.7 821.3 L198.0 821.7 L199.2 822.0 L200.5 821.9 L201.7 821.8 L203.0 822.3 L204.2 822.6 L205.5 822.4 L206.7 822.7 L207.9 822.9 L209.1 823.0 L210.4 823.2 L211.6 823.2 L212.8 823.3 L214.0 823.5 L215.2 823.8 L216.4 824.4 L217.6 824.4 L218.9 824.9 L220.1 824.9 L221.3 825.1 L222.5 825.5 L223.7 825.9 L225.0 826.0 L226.2 825.9 L227.4 826.2 L228.6 826.4 L229.9 827.0 L231.1 826.9 L232.3 827.1 L233.5 827.6 L234.8 827.5 L236.0 827.7 L237.2 828.2 L238.5 828.5 L239.8 828.4 L241.1 828.3 L242.4 828.4 L243.7 829.1 L244.9 829.1 L246.2 829.5 L247.4 829.9 L248.5 829.9 L249.7 829.9 L250.7 830.3 L252.1 830.5 L253.3 830.5 L254.5 830.8 L255.6 830.8 L256.8 830.8 L258.0 830.7 L259.2 831.0 L260.5 831.3 L261.8 831.2 L263.1 831.3 L264.4 830.8 L265.7 830.7 L266.8 831.0 L268.1 831.8 L269.3 832.8 L270.4 833.4 L271.5 834.0 L272.7 834.4 L274.1 834.5 L275.5 834.6 L277.0 834.0 L278.6 834.1 L279.8 834.3 L281.0 834.6 L282.4 834.9 L283.8 835.1 L285.2 835.2 L286.6 835.4 L287.9 835.7 L289.2 836.2 L290.3 836.2 L291.6 836.4 L292.8 837.0 L293.9 837.1 L295.1 837.2 L296.2 837.3 L297.6 837.8 L299.0 838.1 L300.5 838.7 L302.0 839.2 L303.2 839.6 L304.4 839.6 L305.7 839.5 L307.0 839.6 L308.3 840.1 L309.6 840.5 L310.8 840.8 L312.1 840.9 L313.4 841.1 L314.7 841.5 L315.9 841.8 L317.1 842.1 L318.2 842.5 L319.7 843.0 L321.1 843.3 L322.6 843.9 L323.8 843.6 L325.2 843.4 L326.5 843.0 L327.9 842.9 L329.2 842.7 L330.3 842.9 L331.4 843.4 L332.5 844.0 L333.6 845.1 L334.7 845.8 L335.8 846.1 L337.3 846.4 L338.7 847.0 L340.1 847.0 L341.6 846.8 L343.1 847.0 L344.6 847.0 L346.0 847.1 L347.5 846.9 L348.7 847.3 L349.8 848.0 L351.0 848.8 L352.2 849.6 L353.4 849.6 L354.6 849.7 L355.8 849.7 L357.0 849.8 L358.2 850.3 L359.5 850.5 L360.7 850.9 L361.9 851.0 L363.1 851.4 L364.4 851.6 L365.6 851.7 L366.8 852.3 L368.0 852.8 L369.2 852.9 L370.4 853.4 L371.6 853.9 L372.8 854.1 L374.1 854.5 L375.4 854.7 L376.6 854.8 L377.9 855.0 L379.2 855.3 L380.5 855.5 L381.8 855.4 L383.1 855.2 L384.4 855.4 L385.6 855.9 L386.9 856.1 L388.1 856.5 L389.3 856.9 L390.5 857.7 L391.7 858.3 L393.0 858.4 L394.2 858.7 L395.5 859.2 L396.7 859.7 L398.0 860.2 L399.3 860.3 L400.5 860.6 L401.8 861.2 L403.1 861.5 L404.3 861.8 L405.6 862.1 L406.9 862.8 L408.2 863.0 L409.4 863.4 L410.6 863.7 L411.9 864.2 L413.1 865.0 L414.4 865.8 L415.6 866.1 L416.8 866.5 L417.9 867.3 L419.1 867.8 L420.3 868.4 L421.4 869.6 L422.6 870.3 L423.8 871.3 L425.0 871.7 L426.2 872.4 L427.4 872.7 L428.7 873.0 L429.9 873.2 L431.1 873.9 L432.3 874.8 L433.5 875.7 L434.7 876.2 L435.8 877.0 L437.0 877.6 L438.2 878.3 L439.3 878.7 L440.5 879.2 L441.6 879.9 L442.8 880.9 L444.0 881.2 L445.2 882.0 L446.4 882.9 L447.5 883.9 L448.7 884.3 L449.7 884.8 L450.7 885.8 L451.7 886.8 L452.7 887.4 L453.6 887.8 L454.6 888.9 L455.6 889.6 L456.6 890.6 L457.5 891.5 L458.5 892.4 L459.4 893.0 L460.4 894.1 L461.4 894.8 L462.4 895.8 L463.4 897.0 L464.4 898.1 L465.4 898.8 L466.3 899.5 L467.2 900.4 L468.1 901.3 L469.0 902.1 L470.0 903.1 L470.6 903.7 L471.2 904.8 L471.8 905.9 L472.5 906.4 L473.3 907.5 L474.0 908.7 L474.8 909.5 L475.6 910.8 L476.4 911.7 L477.2 913.0 L478.1 914.2 L478.9 915.4 L479.7 916.4 L480.5 917.5 L481.2 918.7 L482.0 919.7 L482.7 920.9 L483.4 921.8 L484.1 922.8 L484.8 923.6 L485.5 924.8 L486.2 925.9 L486.9 926.8 L487.5 928.1 L488.2 929.3 L488.8 930.2 L489.5 931.0 L490.2 932.0 L490.8 932.8 L491.5 933.7 L492.2 934.8 L492.9 935.6 L493.7 936.8 L494.4 937.9 L495.2 938.8 L496.0 940.0 L496.7 940.9 L497.5 942.1 L498.3 943.3 L499.1 944.3 L499.8 944.9 L500.6 946.0 L501.5 946.8 L502.3 948.0 L503.1 948.6 L504.1 949.8 L505.0 950.9 L506.0 951.7 L507.0 952.5 L508.0 953.0 L509.1 954.0 L510.1 954.6 L511.1 955.5 L512.2 956.2 L513.2 956.5 L514.3 957.3 L515.4 958.1 L516.5 958.3 L517.6 958.8 L518.7 959.5 L519.9 959.8 L521.0 960.7 L522.2 961.0 L523.4 961.7 L524.5 961.8 L525.6 962.2 L526.7 962.9 L527.8 963.0 L529.0 963.3 L530.1 963.7 L531.3 963.9 L532.5 964.0 L533.7 964.3 L534.9 964.6 L536.1 965.3 L537.3 965.7 L538.5 966.1 L539.7 966.0 L540.9 966.4 L542.2 966.3 L543.4 966.6 L544.7 966.9 L545.9 967.0 L547.3 967.4 L548.6 967.6 L550.0 967.7 L551.4 968.1 L552.5 967.9 L553.6 968.3 L554.7 968.4 L555.8 968.4 L557.0 968.7 L558.2 968.6 L559.4 969.0 L560.6 969.0 L561.8 968.9 L563.1 969.2 L564.3 969.2 L565.6 969.1 L566.8 969.4 L568.1 969.2 L569.4 969.6 L570.6 969.6 L571.9 969.9 L573.1 970.3 L574.4 970.3 L575.6 970.5 L576.8 970.4 L578.0 970.3 L579.2 970.3 L580.4 970.4 L581.6 970.8 L582.9 971.0 L584.1 971.3 L585.3 971.7 L586.5 971.6 L587.7 971.7 L588.9 972.1 L590.1 972.0 L591.3 972.0 L592.5 972.3 L593.7 972.4 L594.9 972.7 L596.2 972.9 L597.4 973.2 L598.6 973.6 L599.8 973.6 L601.0 974.0 L602.2 974.2 L603.4 974.1 L604.6 974.7 L605.8 974.7 L607.1 974.7 L608.3 974.8 L609.5 975.3 L610.7 975.8 L611.9 976.1 L613.1 976.1 L614.3 976.2 L615.6 976.1 L616.8 976.6 L618.0 976.9 L619.2 977.0 L620.4 977.4 L621.6 977.5 L622.8 978.0 L624.1 978.2 L625.3 978.1 L626.5 978.6 L627.7 978.4 L628.9 978.6 L630.1 978.8 L631.3 978.8 L632.5 978.8 L633.7 979.3 L634.8 979.2 L636.0 979.5 L637.2 980.0 L638.4 979.8 L639.6 979.8 L640.8 980.2 L642.0 980.3 L643.2 980.6 L644.4 980.9 L645.6 980.8 L646.8 980.8 L648.0 980.9 L649.3 980.9 L650.5 981.5 L651.8 981.8 L653.1 982.0 L654.2 981.8 L655.4 982.2 L656.6 982.5 L657.7 982.6 L658.9 982.8 L660.1 982.9 L661.4 982.9 L662.6 982.9 L663.8 983.0 L665.1 983.1 L666.3 983.4 L667.6 983.8 L668.8 984.2 L670.1 984.6 L671.3 984.8 L672.6 984.7 L673.9 984.9 L675.1 985.0 L676.4 985.4 L677.6 985.5 L678.8 985.5 L680.0 985.7 L681.3 986.2 L682.4 986.0 L683.6 986.4 L684.8 986.1 L686.0 986.2 L687.1 986.2 L688.4 986.6 L689.7 987.0 L690.9 987.1 L692.2 987.0 L693.4 987.3 L694.6 987.1 L695.9 987.0 L697.1 987.4 L698.3 987.5 L699.5 987.6 L700.7 987.6 L701.9 987.9 L703.0 987.7 L704.2 987.9 L705.4 987.9 L706.6 988.0 L707.8 987.9 L709.0 987.9 L710.2 987.9 L711.4 987.8 L712.6 987.6 L713.8 987.8 L715.0 987.6 L716.2 988.0 L717.4 987.8 L718.7 987.6 L719.9 987.5 L721.1 988.0 L722.3 988.0 L723.5 987.8 L724.7 987.7 L725.9 987.6 L727.1 987.9 L728.3 988.1 L729.5 988.3 L730.7 988.4 L732.0 988.0 L733.2 988.1 L734.4 988.1 L735.6 988.3 L736.8 988.4 L738.0 988.5 L739.2 988.0 L740.4 988.2 L741.6 988.4 L742.8 988.4 L744.1 988.0 L745.3 987.7 L746.5 987.5 L747.7 987.3 L748.9 987.6 L750.1 987.7 L751.3 987.7 L752.5 987.7 L753.7 987.6 L754.9 987.3 L756.2 986.9 L757.4 986.7 L758.6 986.9 L759.8 986.6 L761.0 986.5 L762.2 986.4 L763.4 986.1 L764.6 986.0 L765.8 985.9 L767.0 986.0 L768.2 985.8 L769.5 985.6 L770.7 985.8 L771.9 985.5 L773.1 985.5 L774.3 985.3 L775.5 984.8 L776.7 984.6 L777.9 984.4 L779.1 984.4 L780.3 984.1 L781.6 984.0 L782.8 983.8 L784.0 983.4 L785.2 983.5 L786.4 983.0 L787.6 983.0 L788.8 982.6 L790.0 982.1 L791.2 981.9 L792.4 981.9 L793.7 982.0 L794.9 981.4 L796.1 981.2 L797.3 981.0 L798.5 981.0 L799.7 980.5 L800.9 980.3 L802.2 980.0 L803.4 980.0 L804.6 979.5 L805.8 979.6 L807.0 979.1 L808.2 978.7 L809.4 978.6 L810.7 978.3 L811.9 977.9 L813.1 977.8 L814.3 977.3 L815.5 977.4 L816.7 977.2 L817.9 977.1 L819.1 976.9 L820.3 976.4 L821.6 976.1 L822.8 975.8 L824.0 975.8 L825.2 975.3 L826.4 975.3 L827.6 974.7 L828.8 974.4 L830.0 974.1 L831.2 974.3 L832.4 974.0 L833.6 973.7 L834.9 973.7 L836.1 973.2 L837.3 973.0 L838.5 972.8 L839.7 972.7 L840.9 972.6 L842.1 972.4 L843.3 972.0 L844.5 971.6 L845.7 971.2 L846.9 971.3 L848.2 971.1 L849.4 971.0 L850.6 970.5 L851.8 970.3 L853.0 970.3 L854.2 970.0 L855.4 969.6 L856.6 969.4 L857.8 969.5 L859.0 969.0 L860.3 968.7 L861.5 968.5 L862.7 968.5 L863.9 968.6 L865.1 968.1 L866.3 967.8 L867.5 967.6 L868.7 967.5 L869.9 967.4 L871.0 967.2 L872.2 967.1 L873.4 966.9 L874.6 967.2 L875.7 967.2 L876.9 966.8 L878.1 967.0 L879.3 966.6 L880.5 966.4 L881.7 966.7 L882.9 966.7 L884.1 966.6 L885.4 966.3 L886.6 966.0 L887.9 966.0 L889.2 965.6 L890.5 965.4 L891.6 965.3 L892.8 965.1 L893.9 965.1 L895.2 965.3 L896.4 965.3 L897.6 965.1 L898.9 965.1 L900.2 964.9 L901.5 964.6 L902.8 964.6 L904.1 964.5 L905.4 964.5 L906.7 964.6 L908.0 964.4 L909.3 964.3 L910.6 964.2 L911.9 964.0 L913.2 963.7 L914.5 963.8 L915.8 963.9 L917.0 963.8 L918.2 963.7 L919.4 963.6 L920.6 963.5 L921.7 963.3 L922.8 963.0 L923.9 962.7 L924.9 962.7 L925.9 962.3 L926.9 962.2 L928.3 962.3 L929.7 962.2 L930.9 962.0 L932.1 961.6 L933.2 961.3 L934.3 961.1 L935.4 961.0 L936.5 960.7 L937.6 960.6 L938.8 960.6 L940.1 960.0 L941.4 959.9 L942.5 959.8 L943.5 959.5 L944.7 959.2 L945.8 959.3 L947.0 958.7 L948.1 958.5 L949.3 958.1 L950.6 958.2 L951.8 958.2 L953.0 957.9 L954.3 957.3 L955.6 957.2 L956.8 957.0 L958.1 956.9 L959.3 956.6 L960.6 956.4 L961.9 956.3 L963.1 955.9 L964.4 955.6 L965.6 955.6 L966.8 955.0 L968.0 954.9 L969.2 954.5 L970.4 954.4 L971.6 953.8 L972.9 953.9 L974.1 953.4 L975.3 952.9 L976.5 952.6 L977.7 952.3 L978.9 951.8 L980.1 951.7 L981.3 951.5 L982.5 951.4 L983.7 951.0 L984.9 950.6 L986.1 950.3 L987.4 950.2 L988.6 950.2 L989.8 949.9 L991.0 949.4 L992.2 949.3 L993.4 949.0 L994.6 948.5 L995.9 948.1 L997.1 948.2 L998.4 948.1 L999.6 947.9 L1000.9 947.5 L1002.1 947.3 L1003.4 946.8 L1004.6 946.9 L1005.9 946.5 L1007.1 946.3 L1008.3 946.2 L1009.5 946.1 L1010.7 945.7 L1011.9 945.2 L1013.1 945.0 L1014.3 944.6 L1015.5 944.6 L1016.6 944.3 L1017.7 944.3 L1019.1 943.8 L1020.5 943.4 L1022.0 943.0 L1023.6 942.7 L1025.2 942.2 L1026.8 941.7 L1028.3 941.7 L1029.7 941.3 L1031.1 941.0 L1032.3 940.7 L1033.4 940.6 L1034.3 940.4 L1034.9 940.4 L1035.4 940.4 L1035.5 940.3" stroke="#808000" stroke-linecap="round"/>
<path d="M1067.1 929.5 L1067.3 929.5 L1067.7 929.6 L1068.4 929.8 L1069.3 930.0 L1070.5 930.3 L1071.7 930.6 L1073.2 930.9 L1074.7 931.3 L1076.3 931.7 L1077.9 932.1 L1079.5 932.5 L1081.1 932.9 L1082.6 933.3 L1084.1 933.7 L1085.4 934.1 L1086.6 934.4 L1087.8 934.8 L1089.0 935.1 L1090.2 935.5 L1091.4 935.9 L1092.6 936.2 L1093.8 936.6 L1095.1 937.0 L1096.3 937.4 L1097.5 937.8 L1098.7 938.2 L1099.9 938.7 L1101.1 939.1 L1102.3 939.5 L1103.5 940.0 L1104.7 940.5 L1105.8 941.0 L1106.9 941.5 L1108.0 942.0 L1109.1 942.6 L1110.1 943.1 L1111.2 943.7 L1112.2 944.3 L1113.3 944.9 L1114.3 945.5 L1115.4 946.1 L1116.4 946.7 L1117.4 947.3 L1118.4 947.9 L1119.5 948.6 L1120.5 949.2 L1121.5 949.8 L1122.6 950.5 L1123.6 951.1 L1124.7 951.7 L1125.7 952.4 L1126.8 953.1 L1127.8 953.7 L1128.9 954.4 L1130.0 955.1 L1131.0 955.8 L1132.1 956.5 L1133.1 957.2 L1134.2 957.9 L1135.2 958.6 L1136.3 959.3 L1137.3 959.9 L1138.3 960.6 L1139.4 961.3 L1140.4 962.0 L1141.4 962.6 L1142.5 963.3 L1143.7 964.0 L1144.8 964.7 L1145.9 965.5 L1147.0 966.2 L1148.2 966.9 L1149.3 967.5 L1150.4 968.2 L1151.5 968.9 L1152.5 969.6 L1153.6 970.3 L1154.6 970.9 L1155.6 971.6 L1156.6 972.2 L1157.7 973.0 L1158.8 973.7 L1159.9 974.5 L1161.0 975.3 L1162.0 976.1 L1163.0 976.8 L1164.0 977.5 L1165.0 978.1 L1165.9 978.7 L1166.8 979.1 L1168.2 979.7 L1169.4 980.1 L1170.7 980.4 L1171.9 980.4 L1173.2 980.1 L1174.5 979.6 L1175.8 978.8 L1177.0 977.8 L1177.7 977.0 L1178.4 976.0 L1179.0 974.9 L1179.6 973.7 L1180.2 972.5 L1180.8 971.3 L1181.4 970.1 L1182.0 968.9 L1182.6 967.8 L1183.3 966.6 L1183.9 965.5 L1184.5 964.3 L1185.1 963.2 L1185.8 962.1 L1186.4 961.0 L1187.1 960.0 L1187.9 958.8 L1188.7 957.7 L1189.5 956.6 L1190.3 955.5 L1191.2 954.6 L1192.2 953.7 L1193.4 952.9 L1194.6 952.2 L1195.9 951.5 L1197.2 951.0 L1198.6 950.6 L1199.8 950.3 L1201.0 950.1 L1202.3 950.0 L1203.6 949.9 L1204.9 949.9 L1206.2 949.9 L1207.5 949.9 L1208.7 950.0 L1209.9 950.1 L1211.1 950.2 L1212.3 950.4 L1213.5 950.6 L1214.8 950.8 L1216.2 951.1 L1217.6 951.4 L1218.6 951.6 L1219.7 951.9 L1220.8 952.2 L1221.9 952.5 L1223.0 952.8 L1224.2 953.2 L1225.4 953.5 L1226.6 953.9 L1227.8 954.3 L1229.1 954.7 L1230.4 955.1 L1231.6 955.5 L1232.9 955.9 L1234.2 956.3 L1235.5 956.7 L1236.7 957.1 L1238.0 957.5 L1239.1 957.8 L1240.2 958.2 L1241.3 958.5 L1242.4 958.8 L1243.6 959.2 L1244.7 959.5 L1245.9 959.8 L1247.0 960.2 L1248.2 960.5 L1249.4 960.9 L1250.5 961.2 L1251.7 961.6 L1252.9 961.9 L1254.1 962.3 L1255.2 962.6 L1256.4 963.0 L1257.6 963.3 L1258.7 963.7 L1259.9 964.0 L1261.1 964.4 L1262.2 964.7 L1263.4 965.1 L1264.6 965.5 L1265.7 965.8 L1266.9 966.2 L1268.0 966.5 L1269.2 966.9 L1270.3 967.2 L1271.5 967.6 L1272.6 967.9 L1273.8 968.3 L1275.0 968.7 L1276.1 969.0 L1277.3 969.4 L1278.4 969.8 L1279.6 970.1 L1280.7 970.5 L1281.9 970.9 L1283.0 971.2 L1284.2 971.6 L1285.3 972.0 L1286.5 972.4 L1287.6 972.8 L1288.8 973.2 L1290.0 973.6 L1291.2 974.0 L1292.4 974.5 L1293.6 974.9 L1294.8 975.4 L1296.0 975.9 L1297.2 976.3 L1298.4 976.8 L1299.7 977.3 L1300.9 977.8 L1302.1 978.3 L1303.3 978.7 L1304.5 979.2 L1305.7 979.7 L1306.8 980.1 L1308.0 980.6 L1309.1 981.0 L1310.2 981.4 L1311.3 981.8 L1312.3 982.2 L1313.3 982.6 L1314.3 982.9 L1315.6 983.3 L1316.9 983.7 L1318.1 984.0 L1319.2 984.3 L1320.4 984.6 L1321.5 984.9 L1322.6 985.2 L1323.7 985.5 L1324.8 985.9 L1325.9 986.3 L1327.0 986.7 L1328.1 987.2 L1329.1 987.7 L1330.1 988.2 L1331.1 988.7 L1332.1 989.3 L1333.1 989.8 L1334.1 990.4 L1335.2 991.0 L1336.2 991.6 L1337.3 992.3 L1338.5 992.9 L1339.7 993.6 L1340.6 994.1 L1341.6 994.6 L1342.6 995.2 L1343.6 995.7 L1344.7 996.3 L1345.8 996.8 L1346.9 997.4 L1348.0 998.0 L1349.1 998.6 L1350.3 999.2 L1351.5 999.8 L1352.6 1000.4 L1353.8 1001.1 L1355.0 1001.7 L1356.1 1002.3 L1357.3 1002.9 L1358.5 1003.5 L1359.6 1004.1 L1360.7 1004.8 L1361.9 1005.4 L1363.0 1005.9 L1364.0 1006.5 L1365.1 1007.1 L1366.2 1007.7 L1367.4 1008.3 L1368.5 1008.9 L1369.6 1009.5 L1370.8 1010.1 L1371.9 1010.7 L1373.0 1011.3 L1374.1 1011.9 L1375.3 1012.5 L1376.3 1013.1 L1377.4 1013.7 L1378.5 1014.3 L1379.6 1014.9 L1380.6 1015.5 L1381.6 1016.1 L1382.6 1016.7 L1383.6 1017.3 L1384.6 1017.9 L1385.5 1018.5 L1386.6 1019.3 L1387.7 1020.1 L1388.8 1020.9 L1389.8 1021.7 L1390.8 1022.6 L1391.8 1023.4 L1392.8 1024.2 L1393.7 1025.0 L1394.6 1025.8 L1395.5 1026.6 L1396.4 1027.3 L1397.3 1028.0 L1398.2 1028.7 L1399.4 1029.6 L1400.4 1030.4 L1401.5 1031.2 L1402.5 1031.9 L1403.5 1032.6 L1404.6 1033.2 L1405.8 1033.8 L1406.9 1034.3 L1408.1 1034.8 L1409.3 1035.2 L1410.5 1035.6 L1411.7 1035.9 L1413.1 1036.2 L1414.5 1036.5 L1416.0 1036.8 L1416.9 1037.0 L1417.9 1037.1 L1418.9 1037.2 L1420.0 1037.3 L1421.1 1037.4 L1422.2 1037.5 L1423.3 1037.6 L1424.4 1037.6 L1425.6 1037.7 L1426.8 1037.8 L1428.0 1037.8 L1429.3 1037.9 L1430.6 1037.9 L1431.9 1037.9 L1433.2 1038.0 L1434.5 1038.0 L1435.8 1038.1 L1437.2 1038.1 L1438.6 1038.2 L1440.0 1038.2 L1441.4 1038.3 L1442.4 1038.4 L1443.5 1038.4 L1444.5 1038.5 L1445.6 1038.5 L1446.7 1038.6 L1447.8 1038.6 L1448.9 1038.7 L1450.1 1038.8 L1451.3 1038.8 L1452.4 1038.9 L1453.6 1038.9 L1454.9 1039.0 L1456.1 1039.1 L1457.3 1039.1 L1458.6 1039.2 L1459.8 1039.3 L1461.1 1039.3 L1462.3 1039.4 L1463.6 1039.5 L1464.9 1039.5 L1466.2 1039.6 L1467.4 1039.7 L1468.7 1039.7 L1470.0 1039.8 L1471.3 1039.8 L1472.6 1039.9 L1473.9 1040.0 L1475.2 1040.0 L1476.4 1040.1 L1477.7 1040.1 L1479.0 1040.2 L1480.2 1040.2 L1481.5 1040.3 L1482.7 1040.3 L1483.9 1040.4 L1485.2 1040.4 L1486.4 1040.4 L1487.6 1040.5 L1488.8 1040.5 L1489.9 1040.5 L1491.1 1040.6 L1492.2 1040.6 L1493.5 1040.6 L1494.8 1040.7 L1496.2 1040.7 L1497.5 1040.7 L1498.8 1040.7 L1500.1 1040.8 L1501.4 1040.8 L1502.7 1040.8 L1504.0 1040.8 L1505.3 1040.8 L1506.6 1040.8 L1507.9 1040.9 L1509.1 1040.9 L1510.4 1040.9 L1511.7 1040.9 L1512.9 1040.9 L1514.2 1040.9 L1515.4 1040.9 L1516.6 1040.9 L1517.8 1040.9 L1519.1 1040.9 L1520.2 1040.9 L1521.4 1040.8 L1522.6 1040.8 L1523.8 1040.8 L1524.9 1040.8 L1526.0 1040.7 L1527.1 1040.7 L1528.2 1040.7 L1529.3 1040.6 L1530.4 1040.6 L1531.8 1040.5 L1533.1 1040.5 L1534.5 1040.4 L1535.8 1040.3 L1537.2 1040.2 L1538.5 1040.1 L1539.7 1040.0 L1541.0 1039.9 L1542.2 1039.8 L1543.5 1039.7 L1544.7 1039.6 L1545.8 1039.5 L1547.0 1039.4 L1548.1 1039.3 L1549.2 1039.2 L1550.3 1039.0 L1551.3 1038.9 L1552.3 1038.8 L1553.8 1038.6 L1555.2 1038.5 L1556.5 1038.3 L1557.8 1038.1 L1559.0 1037.9 L1560.2 1037.7 L1561.4 1037.5 L1562.6 1037.2 L1563.8 1036.9 L1565.0 1036.5 L1566.2 1036.1 L1567.4 1035.7 L1568.5 1035.2 L1569.7 1034.7 L1570.8 1034.1 L1571.9 1033.5 L1572.9 1032.8 L1574.0 1032.1 L1575.0 1031.3 L1576.0 1030.5 L1577.0 1029.7 L1578.0 1028.8 L1579.0 1027.9 L1579.9 1027.1 L1580.7 1026.2 L1581.5 1025.3 L1582.3 1024.4 L1583.1 1023.4 L1583.9 1022.4 L1584.7 1021.5 L1585.6 1020.5 L1586.4 1019.6 L1587.2 1018.7 L1588.1 1017.7 L1589.0 1016.8 L1589.9 1015.9 L1590.8 1014.9 L1591.7 1014.0 L1592.6 1013.1 L1593.5 1012.2 L1594.5 1011.4 L1595.5 1010.5 L1596.5 1009.7 L1597.4 1009.0 L1598.4 1008.3 L1599.5 1007.6 L1600.5 1006.9 L1601.6 1006.2 L1602.6 1005.5 L1603.6 1004.8 L1604.7 1004.0 L1605.7 1003.3 L1606.7 1002.5 L1607.8 1001.7 L1608.8 1000.9 L1609.8 1000.0 L1610.8 999.2 L1611.9 998.4 L1612.9 997.5 L1613.9 996.7 L1615.0 995.9 L1616.0 995.1 L1617.0 994.4 L1618.1 993.7 L1619.1 993.0 L1620.2 992.3 L1621.2 991.6 L1622.2 991.0 L1623.3 990.2 L1624.3 989.5 L1625.3 988.7 L1626.3 987.9 L1627.2 987.1 L1628.1 986.2 L1629.0 985.4 L1629.9 984.4 L1630.7 983.5 L1631.6 982.5 L1632.4 981.6 L1633.3 980.6 L1634.1 979.6 L1634.9 978.6 L1635.7 977.6 L1636.5 976.6 L1637.2 975.6 L1638.0 974.6 L1638.7 973.6 L1639.4 972.5 L1640.1 971.5 L1640.7 970.4 L1641.4 969.4 L1642.1 968.4 L1642.7 967.3 L1643.4 966.3 L1644.0 965.3 L1644.7 964.3 L1645.4 963.2 L1646.2 962.1 L1646.9 961.0 L1647.6 959.9 L1648.3 958.8 L1649.1 957.8 L1649.8 956.8 L1650.5 955.8 L1651.2 954.9 L1651.9 954.0 L1652.8 953.0 L1653.6 951.9 L1654.5 951.0 L1655.4 950.1 L1656.2 949.4 L1657.1 948.9 L1658.5 948.4 L1659.9 948.1 L1661.2 948.4 L1662.1 949.0 L1663.0 950.0 L1663.8 951.2 L1664.6 952.5 L1665.3 954.0 L1665.7 954.9 L1666.1 955.9 L1666.4 957.0 L1666.7 958.1 L1667.1 959.3 L1667.4 960.6 L1667.6 961.9 L1667.9 963.1 L1668.2 964.4 L1668.5 965.7 L1668.8 967.0 L1669.1 968.2 L1669.4 969.4 L1669.7 970.6 L1670.1 971.9 L1670.4 973.1 L1670.7 974.4 L1671.0 975.6 L1671.4 976.9 L1671.7 978.1 L1672.0 979.3 L1672.4 980.5 L1672.7 981.6 L1673.1 982.7 L1673.5 983.8 L1674.0 985.1 L1674.5 986.4 L1675.0 987.6 L1675.5 988.8 L1676.1 990.0 L1676.7 991.1 L1677.3 992.1 L1678.0 993.0 L1679.0 994.1 L1680.0 995.0 L1681.1 995.9 L1682.4 996.5 L1683.8 997.1 L1684.9 997.4 L1686.1 997.6 L1687.4 997.8 L1688.8 997.9 L1690.3 998.0 L1691.7 998.0 L1693.2 997.9 L1694.6 997.8 L1695.9 997.6 L1697.1 997.4 L1698.1 997.1 L1699.4 996.5 L1700.5 995.8 L1701.4 994.9 L1702.4 994.0 L1703.3 993.0 L1704.1 992.1 L1704.8 991.1 L1705.5 990.1 L1706.3 989.0 L1707.0 987.9 L1707.7 986.8 L1708.4 985.8 L1709.2 984.6 L1710.0 983.4 L1710.8 982.3 L1711.6 981.1 L1712.5 980.1 L1713.5 979.2 L1714.5 978.5 L1715.6 977.9 L1716.8 977.4 L1718.0 976.9 L1719.3 976.6 L1720.7 976.2 L1721.8 976.0 L1722.9 975.8 L1724.0 975.6 L1725.2 975.5 L1726.4 975.4 L1727.7 975.3 L1729.0 975.2 L1730.3 975.2 L1731.7 975.1 L1733.1 975.1 L1734.2 975.1 L1735.3 975.1 L1736.5 975.1 L1737.7 975.1 L1739.0 975.1 L1740.4 975.2 L1741.7 975.2 L1743.1 975.3 L1744.5 975.3 L1745.9 975.4 L1747.3 975.4 L1748.6 975.5 L1750.0 975.6 L1751.3 975.6 L1752.5 975.6 L1753.7 975.7 L1754.8 975.7 L1755.9 975.7 L1756.8 975.6 L1757.7 975.6 L1759.2 975.4 L1760.4 975.2 L1761.5 974.9 L1762.7 974.7 L1763.9 974.7 L1765.1 974.9 L1766.5 975.3 L1767.9 975.7 L1769.3 976.3 L1770.6 976.7 L1771.9 977.1 L1773.1 977.2 L1774.5 977.0 L1775.7 976.6 L1776.9 976.1 L1778.2 976.0 L1779.3 976.2 L1780.4 976.5 L1781.6 976.9 L1782.8 977.4 L1784.0 978.0 L1785.3 978.6 L1786.5 979.2 L1787.5 979.7 L1788.6 980.3 L1789.6 980.8 L1790.7 981.4 L1791.8 982.1 L1792.9 982.7 L1793.9 983.4 L1794.9 984.2 L1795.8 985.0 L1796.7 985.8 L1797.5 986.7 L1798.2 987.6 L1798.8 988.7 L1799.4 989.7 L1800.0 990.8 L1800.6 991.9 L1801.1 993.0 L1801.7 994.1 L1802.3 995.1 L1802.9 996.1 L1803.6 997.2 L1804.4 998.4 L1805.1 999.5 L1805.8 1000.6 L1806.6 1001.7 L1807.3 1002.7 L1808.2 1003.6 L1809.0 1004.3 L1810.1 1005.1 L1811.3 1005.7 L1812.5 1006.2 L1813.8 1006.6 L1815.2 1006.8 L1816.4 1006.8 L1817.7 1006.6 L1819.0 1006.3 L1820.4 1005.9 L1821.8 1005.6 L1823.1 1005.3 L1824.4 1005.2 L1825.5 1005.3 L1826.7 1005.7 L1827.7 1006.3 L1828.7 1007.0 L1829.7 1007.8 L1830.6 1008.6 L1831.6 1009.4 L1832.6 1010.2 L1833.7 1011.1 L1834.7 1012.0 L1835.7 1012.8 L1836.7 1013.6 L1837.8 1014.2 L1839.2 1014.8 L1840.7 1015.3 L1842.1 1015.5 L1843.6 1015.6 L1844.9 1015.4 L1846.2 1015.1 L1847.5 1014.6 L1848.8 1014.0 L1850.1 1013.5 L1851.4 1012.9 L1852.6 1012.2 L1853.8 1011.5 L1855.0 1010.9 L1856.3 1010.5 L1857.5 1010.3 L1858.7 1010.2 L1859.9 1010.2 L1861.1 1010.3 L1862.4 1010.5 L1863.5 1010.8 L1864.7 1011.3 L1865.9 1011.8 L1867.2 1012.4 L1868.4 1013.1 L1869.6 1013.8 L1870.7 1014.6 L1871.7 1015.3 L1872.6 1016.2 L1873.5 1017.1 L1874.4 1018.0 L1875.3 1018.9 L1876.2 1019.9 L1877.1 1020.9 L1878.0 1021.9 L1878.9 1022.8 L1879.8 1023.7 L1880.7 1024.7 L1881.6 1025.6 L1882.5 1026.5 L1883.4 1027.5 L1884.3 1028.4 L1885.2 1029.3 L1886.2 1030.2 L1887.1 1031.0 L1888.1 1031.9 L1889.1 1032.8 L1890.1 1033.6 L1891.1 1034.5 L1892.1 1035.2 L1893.1 1036.0 L1894.2 1036.6 L1895.3 1037.2 L1896.4 1037.7 L1897.6 1038.1 L1898.8 1038.4 L1900.0 1038.6 L1901.2 1038.9 L1902.4 1039.0 L1903.6 1039.1 L1904.8 1039.2 L1906.1 1039.2 L1907.4 1039.2 L1908.6 1039.1 L1909.9 1038.9 L1911.2 1038.7 L1912.5 1038.5 L1913.8 1038.2 L1915.1 1037.9 L1916.3 1037.6 L1917.6 1037.3 L1918.9 1036.9 L1920.2 1036.5 L1921.5 1036.1 L1922.8 1035.6 L1924.1 1035.1 L1925.3 1034.6 L1926.4 1034.1 L1927.6 1033.5 L1928.8 1032.9 L1929.9 1032.3 L1931.0 1031.7 L1932.2 1031.1 L1933.2 1030.5 L1934.3 1030.0 L1935.6 1029.3 L1937.0 1028.7 L1938.3 1028.0 L1939.5 1027.4" stroke="#808000" stroke-linecap="round"/>
<path d="M181.2 561.1 L181.5 561.2 L182.2 560.9 L183.2 561.4 L184.5 561.8 L186.0 562.1 L187.6 562.1 L189.2 562.6 L190.7 562.9 L192.0 562.7 L193.3 562.7 L194.6 563.4 L195.9 563.7 L197.2 563.7 L198.5 563.8 L199.8 563.9 L201.1 564.1 L202.3 564.7 L203.6 565.0 L204.8 565.1 L206.1 565.8 L207.3 566.3 L208.6 566.3 L209.8 566.9 L211.1 567.2 L212.3 567.5 L213.6 567.7 L214.9 568.1 L216.3 568.3 L217.6 568.5 L218.9 568.4 L220.1 568.7 L221.3 568.9 L222.6 569.4 L223.9 569.6 L225.1 570.2 L226.3 570.6 L227.5 570.7 L228.7 570.9 L229.9 571.1 L231.2 571.5 L232.4 571.6 L233.6 572.0 L234.8 572.1 L236.0 572.4 L237.5 572.5 L239.1 572.4 L240.5 572.6 L241.9 572.4 L243.1 573.2 L244.1 573.8 L245.2 574.6 L246.3 575.2 L247.7 575.8 L249.1 576.0 L250.6 576.2 L252.1 576.8 L253.3 576.7 L254.5 577.2 L255.6 577.7 L256.8 577.6 L258.0 577.9 L259.5 578.0 L261.0 578.0 L262.5 577.5 L263.9 577.6 L265.4 577.5 L266.9 577.6 L268.3 578.3 L269.2 578.6 L270.1 579.6 L271.0 580.7 L271.8 581.6 L272.7 582.6 L274.0 583.5 L275.2 584.3 L276.4 584.6 L277.3 584.0 L278.2 582.5 L279.3 581.6 L280.4 581.5 L281.7 581.8 L283.1 582.4 L284.6 582.7 L285.9 583.3 L287.1 583.5 L288.3 583.8 L289.5 584.0 L290.7 584.4 L291.8 585.1 L292.9 585.7 L294.0 586.5 L295.1 586.9 L296.2 587.1 L297.6 587.1 L299.1 587.1 L300.7 587.1 L302.0 587.4 L303.3 587.9 L304.4 589.3 L305.7 590.5 L306.9 590.9 L308.1 591.0 L309.4 591.2 L310.8 591.2 L312.0 591.2 L313.3 591.4 L314.6 591.3 L315.9 591.2 L317.1 591.3 L318.2 591.6 L319.4 592.2 L320.5 593.1 L321.5 594.2 L322.6 595.2 L323.7 596.0 L324.9 596.9 L326.0 597.3 L327.0 597.6 L327.8 596.6 L328.4 595.3 L329.2 594.0 L330.3 593.7 L331.5 593.9 L332.8 594.8 L333.9 595.9 L335.0 596.9 L336.1 597.8 L337.2 598.7 L338.6 599.3 L340.1 599.5 L341.6 599.3 L343.1 598.8 L344.5 598.2 L346.0 597.9 L347.5 598.3 L349.0 599.2 L350.4 600.3 L351.5 600.6 L352.6 601.4 L353.7 601.9 L354.8 602.5 L356.1 603.6 L357.4 604.2 L358.5 604.7 L359.5 603.6 L360.7 602.3 L361.7 602.1 L362.9 602.2 L364.2 602.6 L365.6 603.1 L366.9 603.2 L368.0 603.5 L369.2 604.0 L370.3 605.2 L371.4 606.1 L372.4 607.0 L373.6 608.1 L374.9 609.1 L376.1 610.1 L377.3 609.5 L378.5 608.9 L379.8 607.9 L381.1 608.0 L382.6 607.7 L384.1 607.7 L385.6 608.3 L386.8 608.7 L388.0 609.6 L389.2 610.1 L390.4 610.7 L391.5 611.6 L392.6 612.4 L393.7 613.1 L394.8 613.6 L395.9 613.6 L397.3 614.0 L398.8 614.3 L400.3 614.4 L401.8 615.0 L403.0 615.4 L404.1 616.4 L405.3 617.3 L406.4 617.8 L407.6 618.2 L408.8 618.9 L410.0 619.5 L411.2 619.5 L412.3 619.8 L413.5 620.5 L414.5 620.9 L415.5 622.0 L416.5 622.8 L417.5 623.4 L418.4 624.3 L419.4 625.3 L420.4 626.2 L421.3 627.4 L422.2 628.2 L423.2 629.4 L424.2 630.1 L425.2 630.9 L426.7 631.3 L428.2 631.4 L429.7 631.4 L431.1 631.9 L432.3 632.8 L433.4 633.7 L434.4 634.5 L435.5 635.2 L436.6 635.9 L437.6 637.4 L438.7 638.4 L439.9 639.2 L441.3 639.3 L442.8 639.4 L444.4 639.7 L445.8 640.0 L447.0 640.6 L448.0 641.2 L449.1 642.1 L450.2 643.2 L451.3 643.7 L452.5 644.4 L453.7 644.9 L454.9 645.7 L456.0 646.6 L456.8 647.2 L457.6 647.8 L458.3 648.8 L459.0 650.0 L459.7 651.1 L460.4 652.2 L461.5 653.4 L462.5 653.9 L463.7 655.0 L464.8 656.1 L465.8 657.0 L466.8 657.8 L467.8 658.4 L468.9 659.5 L470.0 660.5 L470.9 661.3 L471.9 662.1 L472.8 662.7 L473.8 663.2 L474.9 664.1 L475.8 665.2 L476.8 665.9 L477.7 667.2 L478.4 668.3 L479.0 669.0 L479.6 670.1 L480.2 671.2 L480.7 672.2 L481.3 673.2 L481.9 674.2 L482.4 675.7 L483.0 677.0 L483.5 678.0 L484.1 678.8 L484.7 680.2 L485.3 681.3 L486.0 682.2 L486.8 683.3 L487.6 684.5 L488.4 685.6 L489.2 686.4 L489.9 687.3 L490.7 688.3 L491.5 689.0 L492.2 689.9 L492.9 691.0 L493.5 692.3 L494.0 693.4 L494.5 694.6 L495.0 695.8 L495.5 697.0 L495.9 698.1 L496.4 699.1 L496.9 700.8 L497.4 701.9 L498.0 702.8 L498.6 704.1 L499.3 705.4 L500.0 706.1 L500.8 707.2 L501.6 708.0 L502.5 708.9 L503.3 709.5 L504.2 710.2 L505.2 711.6 L506.1 712.6 L507.0 713.4 L508.0 714.2 L508.9 714.9 L509.8 715.9 L510.7 716.7 L511.5 717.9 L512.3 718.9 L513.2 720.0 L514.0 721.1 L514.8 721.8 L515.6 722.6 L516.4 723.5 L517.2 724.4 L518.0 725.3 L518.9 726.1 L519.7 727.2 L520.5 728.3 L521.4 728.9 L522.2 729.7 L523.4 730.3 L524.7 730.1 L525.9 730.3 L527.2 730.2 L528.5 730.1 L529.7 730.5 L531.0 730.6 L532.1 731.1 L533.2 731.7 L534.4 732.6 L535.5 733.2 L536.6 733.7 L537.7 734.3 L538.9 734.7 L540.0 735.6 L541.2 736.2 L542.5 736.2 L543.8 736.1 L545.1 736.1 L546.4 736.2 L547.7 736.6 L549.0 736.9 L550.2 737.1 L551.4 737.0 L552.7 737.6 L553.9 738.3 L555.1 738.9 L556.2 739.7 L557.5 739.9 L559.0 740.2 L560.0 740.7 L561.1 741.1 L562.3 741.3 L563.5 741.2 L564.7 741.3 L566.0 741.5 L567.3 741.3 L568.7 741.3 L570.0 741.3 L571.4 741.2 L572.8 741.4 L574.1 741.5 L575.5 741.6 L576.8 741.7 L578.0 742.1 L579.2 742.0 L580.5 742.5 L581.8 742.5 L583.2 742.5 L584.5 743.1 L585.8 743.1 L587.2 743.7 L588.5 744.0 L589.8 744.3 L591.0 744.2 L592.2 744.4 L593.4 744.4 L594.5 745.1 L595.5 745.6 L596.4 745.9 L597.2 746.1 L598.5 746.9 L599.4 748.1 L600.3 749.2 L601.1 750.1 L602.2 750.4 L603.3 750.3 L604.5 749.8 L605.7 749.6 L607.0 749.1 L608.4 748.4 L609.9 748.6 L610.9 748.5 L611.9 748.6 L613.0 748.6 L614.1 748.8 L615.3 749.5 L616.5 749.7 L617.7 749.9 L619.0 750.5 L620.2 750.9 L621.5 751.6 L622.8 751.8 L624.0 752.6 L625.3 752.7 L626.5 753.4 L627.7 753.8 L628.9 753.9 L630.1 754.3 L631.3 754.5 L632.5 754.8 L633.7 755.1 L634.9 755.5 L636.1 756.3 L637.3 756.9 L638.4 757.4 L639.6 757.3 L640.8 757.6 L642.0 758.2 L643.2 758.3 L644.3 758.9 L645.5 759.1 L646.7 759.8 L647.8 759.8 L649.0 760.5 L650.1 760.8 L651.2 761.0 L652.3 761.2 L653.4 762.0 L654.5 762.4 L655.7 762.6 L656.8 763.1 L658.0 763.8 L659.2 764.0 L660.4 764.4 L661.7 764.6 L662.8 764.8 L663.9 765.4 L665.0 765.8 L666.2 765.9 L667.3 766.0 L668.5 766.2 L669.7 766.7 L670.9 767.1 L672.2 767.3 L673.4 767.5 L674.6 768.0 L675.9 768.4 L677.1 768.9 L678.4 769.1 L679.7 769.1 L680.9 769.2 L682.2 769.7 L683.4 769.9 L684.6 770.3 L685.9 770.2 L687.1 770.8 L688.3 770.9 L689.5 771.3 L690.7 771.7 L691.9 771.8 L693.2 771.6 L694.4 772.2 L695.6 772.3 L696.8 772.7 L698.0 772.7 L699.2 772.7 L700.4 773.1 L701.7 773.2 L702.9 773.2 L704.1 773.3 L705.3 773.6 L706.5 773.5 L707.7 773.8 L709.0 774.0 L710.2 774.2 L711.4 774.1 L712.6 774.5 L713.8 774.8 L715.0 775.0 L716.2 774.9 L717.4 775.0 L718.6 774.9 L719.9 775.1 L721.1 774.9 L722.3 775.2 L723.5 775.4 L724.7 775.3 L725.9 775.3 L727.1 775.3 L728.3 775.3 L729.5 774.9 L730.7 775.3 L732.0 775.1 L733.2 774.9 L734.4 774.7 L735.6 774.7 L736.8 775.0 L738.0 774.7 L739.2 774.5 L740.4 774.8 L741.6 774.6 L742.8 774.3 L744.1 774.5 L745.3 774.5 L746.5 774.4 L747.7 774.5 L748.9 774.1 L750.1 774.3 L751.3 774.2 L752.5 773.8 L753.7 773.5 L754.9 773.4 L756.2 773.4 L757.4 773.1 L758.6 772.8 L759.8 772.8 L761.0 772.5 L762.2 772.5 L763.4 772.6 L764.6 772.2 L765.8 772.1 L767.0 772.1 L768.3 771.6 L769.5 771.6 L770.7 771.6 L771.9 771.2 L773.1 770.9 L774.3 770.8 L775.5 770.5 L776.7 770.2 L777.9 770.2 L779.1 770.0 L780.4 769.5 L781.6 769.0 L782.8 768.7 L784.0 768.4 L785.2 768.5 L786.4 768.3 L787.6 768.1 L788.8 767.8 L790.0 767.6 L791.1 766.8 L792.3 766.5 L793.5 766.5 L794.6 766.3 L795.8 765.6 L796.9 765.2 L798.1 764.9 L799.3 764.4 L800.4 764.1 L801.6 763.5 L802.7 763.2 L803.9 762.9 L805.0 762.3 L806.2 761.9 L807.4 762.0 L808.5 761.8 L809.7 761.6 L810.8 761.2 L812.0 760.9 L813.1 760.6 L814.3 760.3 L815.5 759.5 L816.6 759.2 L817.8 758.7 L818.9 758.4 L820.1 757.9 L821.2 757.6 L822.4 757.5 L823.5 757.2 L824.7 756.6 L825.8 756.2 L827.0 755.8 L828.1 755.8 L829.3 755.2 L830.5 754.7 L831.6 754.5 L832.8 753.9 L833.9 753.7 L835.1 753.6 L836.2 753.2 L837.4 752.7 L838.5 752.4 L839.7 752.1 L840.9 751.6 L842.1 751.1 L843.3 750.7 L844.5 750.4 L845.7 750.2 L846.9 749.8 L848.1 749.5 L849.4 749.1 L850.6 749.0 L851.8 749.0 L853.0 748.7 L854.2 748.4 L855.4 748.2 L856.6 747.6 L857.8 747.5 L859.0 747.2 L860.2 746.9 L861.5 746.7 L862.7 746.4 L863.9 746.0 L865.1 745.6 L866.3 745.3 L867.5 745.1 L868.7 744.9 L869.9 744.8 L871.0 744.3 L872.2 744.1 L873.4 744.3 L874.6 743.9 L875.7 743.8 L876.9 743.6 L878.1 743.3 L879.3 743.4 L880.5 743.0 L881.7 743.0 L882.9 742.5 L884.1 742.1 L885.4 742.3 L886.6 742.0 L887.9 741.6 L889.2 741.4 L890.5 741.2 L891.6 741.3 L892.8 740.8 L893.9 740.5 L895.2 740.8 L896.4 740.7 L897.6 740.2 L898.9 739.9 L900.2 739.7 L901.5 739.7 L902.8 739.6 L904.1 739.5 L905.4 739.4 L906.7 739.1 L908.0 739.0 L909.3 738.8 L910.6 738.6 L911.9 738.3 L913.2 738.2 L914.5 738.0 L915.8 737.9 L917.0 737.3 L918.2 737.4 L919.4 736.8 L920.6 736.8 L921.7 736.6 L922.8 736.4 L923.9 736.5 L924.9 736.2 L925.9 735.9 L926.9 735.8 L928.3 735.7 L929.7 735.3 L930.9 734.9 L932.1 734.6 L933.2 734.3 L934.3 734.2 L935.4 733.7 L936.5 733.4 L937.7 733.2 L938.8 732.9 L940.1 732.5 L941.4 732.4 L942.4 732.3 L943.4 731.9 L944.5 731.5 L945.6 731.0 L946.7 730.7 L947.8 730.2 L949.0 730.1 L950.1 729.9 L951.3 729.3 L952.5 729.3 L953.7 728.8 L954.9 728.7 L956.1 728.5 L957.3 728.3 L958.5 727.5 L959.7 727.1 L960.9 727.0 L962.1 726.2 L963.3 725.6 L964.5 725.4 L965.6 725.2 L966.8 725.1 L968.0 724.8 L969.1 724.4 L970.3 724.2 L971.4 723.7 L972.6 723.2 L973.7 722.9 L974.9 722.3 L976.0 721.8 L977.2 721.5 L978.3 721.0 L979.5 720.9 L980.7 720.6 L981.8 720.1 L983.0 719.4 L984.1 719.0 L985.3 718.6 L986.4 718.3 L987.6 718.0 L988.7 717.8 L989.9 717.7 L991.0 717.1 L992.2 716.6 L993.4 716.3 L994.5 716.2 L995.7 715.5 L996.9 715.1 L998.1 714.9 L999.3 714.3 L1000.5 713.8 L1001.7 713.8 L1002.8 713.6 L1004.0 713.1 L1005.2 712.4 L1006.4 712.4 L1007.6 712.1 L1008.8 711.8 L1009.9 711.7 L1011.1 711.4 L1012.2 710.8 L1013.3 710.1 L1014.5 709.7 L1015.6 709.4 L1016.6 709.2 L1017.7 708.7 L1019.1 708.2 L1020.5 708.0 L1022.0 707.6 L1023.6 707.1 L1025.2 707.0 L1026.8 706.5 L1028.3 705.7 L1029.7 705.3 L1031.1 705.1 L1032.3 704.6 L1033.4 704.5 L1034.3 703.9 L1034.9 703.7 L1035.4 703.9 L1035.5 703.9" stroke="#990000" stroke-linecap="round"/>
<path d="M1067.1 703.2 L1067.2 703.2 L1067.6 703.4 L1068.3 703.6 L1069.1 703.9 L1070.1 704.2 L1071.3 704.6 L1072.5 705.0 L1073.9 705.5 L1075.4 706.0 L1076.9 706.5 L1078.4 707.0 L1079.9 707.6 L1081.4 708.1 L1082.8 708.6 L1084.2 709.1 L1085.4 709.6 L1086.5 710.0 L1087.6 710.5 L1088.8 710.9 L1089.9 711.3 L1091.1 711.8 L1092.3 712.2 L1093.4 712.6 L1094.6 713.1 L1095.7 713.6 L1096.9 714.0 L1098.0 714.5 L1099.2 715.0 L1100.3 715.5 L1101.5 716.1 L1102.6 716.7 L1103.7 717.2 L1104.7 717.9 L1105.8 718.5 L1106.8 719.2 L1107.8 719.8 L1108.8 720.6 L1109.8 721.3 L1110.7 722.1 L1111.7 722.8 L1112.6 723.6 L1113.5 724.5 L1114.4 725.3 L1115.4 726.1 L1116.3 727.0 L1117.2 727.8 L1118.1 728.7 L1119.0 729.5 L1119.9 730.4 L1120.8 731.2 L1121.7 732.1 L1122.7 732.9 L1123.6 733.7 L1124.5 734.5 L1125.5 735.3 L1126.4 736.1 L1127.4 736.9 L1128.3 737.7 L1129.3 738.5 L1130.2 739.3 L1131.2 740.1 L1132.1 740.9 L1133.1 741.7 L1134.0 742.5 L1135.0 743.3 L1135.9 744.1 L1136.9 744.9 L1137.8 745.7 L1138.7 746.6 L1139.6 747.4 L1140.5 748.2 L1141.4 749.0 L1142.3 749.9 L1143.3 750.8 L1144.2 751.7 L1145.2 752.6 L1146.1 753.5 L1147.1 754.4 L1148.0 755.4 L1148.9 756.3 L1149.8 757.2 L1150.7 758.1 L1151.6 759.0 L1152.5 759.9 L1153.4 760.8 L1154.2 761.7 L1155.0 762.5 L1155.8 763.4 L1156.6 764.2 L1157.5 765.2 L1158.4 766.2 L1159.3 767.3 L1160.1 768.3 L1160.9 769.3 L1161.7 770.3 L1162.5 771.2 L1163.3 772.1 L1164.0 773.0 L1164.8 773.7 L1165.5 774.4 L1166.8 775.5 L1168.1 776.5 L1169.3 777.2 L1170.6 777.5 L1171.9 777.5 L1173.2 777.1 L1174.5 776.5 L1175.7 775.7 L1176.5 775.0 L1177.2 774.1 L1177.8 773.1 L1178.5 771.9 L1179.1 770.7 L1179.7 769.5 L1180.2 768.1 L1180.8 766.8 L1181.2 765.8 L1181.6 764.7 L1181.9 763.6 L1182.3 762.5 L1182.6 761.3 L1183.0 760.1 L1183.3 758.8 L1183.6 757.5 L1183.9 756.3 L1184.2 755.0 L1184.6 753.8 L1184.9 752.5 L1185.2 751.3 L1185.5 750.1 L1185.9 749.0 L1186.3 747.8 L1186.7 746.5 L1187.1 745.3 L1187.4 744.0 L1187.8 742.8 L1188.2 741.6 L1188.6 740.4 L1189.0 739.3 L1189.4 738.1 L1189.9 737.1 L1190.4 736.0 L1190.9 735.0 L1191.6 733.8 L1192.3 732.5 L1193.0 731.3 L1193.8 730.2 L1194.6 729.1 L1195.5 728.2 L1196.4 727.3 L1197.3 726.6 L1198.4 726.0 L1199.6 725.5 L1200.9 725.1 L1202.2 724.9 L1203.5 724.8 L1204.9 724.8 L1205.9 724.9 L1207.0 725.0 L1208.1 725.3 L1209.2 725.6 L1210.3 725.9 L1211.5 726.3 L1212.7 726.7 L1213.9 727.2 L1215.1 727.7 L1216.3 728.1 L1217.6 728.6 L1218.6 729.0 L1219.7 729.4 L1220.7 729.8 L1221.8 730.2 L1222.9 730.7 L1224.0 731.1 L1225.1 731.6 L1226.3 732.1 L1227.4 732.6 L1228.6 733.1 L1229.7 733.7 L1230.9 734.2 L1232.1 734.7 L1233.3 735.3 L1234.4 735.8 L1235.6 736.4 L1236.8 736.9 L1238.0 737.5 L1239.1 738.0 L1240.1 738.5 L1241.2 739.0 L1242.3 739.6 L1243.4 740.1 L1244.5 740.7 L1245.6 741.2 L1246.8 741.8 L1247.9 742.4 L1249.0 742.9 L1250.1 743.5 L1251.3 744.1 L1252.4 744.7 L1253.5 745.3 L1254.7 745.9 L1255.8 746.4 L1256.9 747.0 L1258.0 747.6 L1259.1 748.1 L1260.2 748.7 L1261.3 749.2 L1262.3 749.8 L1263.4 750.3 L1264.6 750.9 L1265.8 751.5 L1266.9 752.0 L1268.1 752.6 L1269.3 753.1 L1270.4 753.6 L1271.5 754.2 L1272.7 754.7 L1273.8 755.2 L1274.9 755.8 L1276.0 756.3 L1277.1 756.8 L1278.3 757.4 L1279.4 758.0 L1280.5 758.5 L1281.6 759.1 L1282.7 759.8 L1283.8 760.4 L1284.8 761.0 L1285.9 761.7 L1286.9 762.3 L1288.0 763.0 L1289.0 763.7 L1290.1 764.4 L1291.1 765.1 L1292.1 765.8 L1293.2 766.5 L1294.2 767.2 L1295.2 767.9 L1296.3 768.7 L1297.3 769.4 L1298.3 770.1 L1299.3 770.8 L1300.3 771.6 L1301.2 772.3 L1302.2 773.0 L1303.2 773.7 L1304.1 774.4 L1305.1 775.2 L1306.2 776.0 L1307.2 776.9 L1308.3 777.8 L1309.3 778.7 L1310.4 779.6 L1311.4 780.4 L1312.4 781.3 L1313.4 782.2 L1314.3 783.0 L1315.3 783.7 L1316.2 784.4 L1317.0 785.1 L1317.8 785.6 L1318.6 786.1 L1319.3 786.5 L1320.9 787.1 L1322.2 787.4 L1323.5 787.5 L1324.8 787.1 L1326.0 787.0 L1326.6 787.8 L1326.9 789.2 L1327.3 790.8 L1328.0 792.5 L1328.5 793.2 L1329.0 793.9 L1329.6 794.7 L1330.3 795.5 L1331.0 796.3 L1331.8 797.1 L1332.7 798.0 L1333.5 798.9 L1334.5 799.8 L1335.4 800.7 L1336.4 801.7 L1337.3 802.6 L1338.3 803.6 L1339.3 804.5 L1340.3 805.5 L1341.2 806.4 L1342.2 807.3 L1343.1 808.2 L1344.0 809.1 L1344.8 810.0 L1345.7 810.9 L1346.5 811.8 L1347.4 812.7 L1348.3 813.6 L1349.2 814.5 L1350.0 815.4 L1350.9 816.3 L1351.8 817.2 L1352.6 818.1 L1353.5 819.0 L1354.3 819.9 L1355.2 820.8 L1356.0 821.8 L1356.8 822.7 L1357.6 823.6 L1358.4 824.6 L1359.2 825.5 L1360.0 826.5 L1360.7 827.4 L1361.5 828.4 L1362.2 829.4 L1362.9 830.3 L1363.6 831.3 L1364.2 832.3 L1364.9 833.3 L1365.6 834.3 L1366.2 835.3 L1366.9 836.3 L1367.5 837.3 L1368.2 838.3 L1368.8 839.3 L1369.5 840.4 L1370.1 841.4 L1370.8 842.4 L1371.4 843.5 L1372.1 844.5 L1372.7 845.6 L1373.3 846.6 L1374.0 847.7 L1374.6 848.7 L1375.2 849.8 L1375.9 850.9 L1376.5 851.9 L1377.1 853.0 L1377.7 854.1 L1378.4 855.2 L1379.0 856.3 L1379.6 857.4 L1380.2 858.5 L1380.8 859.6 L1381.4 860.7 L1382.0 861.8 L1382.6 863.0 L1383.2 864.1 L1383.8 865.2 L1384.4 866.3 L1384.9 867.4 L1385.5 868.5 L1386.1 869.6 L1386.6 870.8 L1387.2 871.9 L1387.7 873.1 L1388.3 874.2 L1388.8 875.4 L1389.3 876.5 L1389.9 877.7 L1390.4 878.9 L1390.9 880.0 L1391.4 881.2 L1391.9 882.3 L1392.4 883.5 L1392.9 884.6 L1393.3 885.8 L1393.8 886.9 L1394.3 888.1 L1394.7 889.2 L1395.2 890.3 L1395.6 891.4 L1396.1 892.6 L1396.5 893.9 L1396.9 895.1 L1397.4 896.3 L1397.8 897.5 L1398.2 898.7 L1398.5 899.9 L1398.9 901.1 L1399.3 902.3 L1399.7 903.5 L1400.0 904.7 L1400.4 905.8 L1400.8 907.0 L1401.2 908.1 L1401.6 909.3 L1402.0 910.4 L1402.5 911.6 L1402.9 912.9 L1403.4 914.1 L1403.8 915.4 L1404.3 916.6 L1404.7 917.8 L1405.2 919.0 L1405.7 920.2 L1406.2 921.3 L1406.7 922.5 L1407.2 923.6 L1407.7 924.7 L1408.3 925.7 L1409.0 926.9 L1409.7 928.0 L1410.4 929.1 L1411.1 930.2 L1411.8 931.3 L1412.6 932.3 L1413.4 933.3 L1414.2 934.2 L1415.1 935.1 L1416.0 935.9 L1417.0 936.7 L1418.0 937.3 L1419.0 937.9 L1420.1 938.5 L1421.2 939.0 L1422.3 939.5 L1423.5 940.0 L1424.8 940.5 L1426.1 941.0 L1427.1 941.4 L1428.2 941.8 L1429.3 942.1 L1430.4 942.5 L1431.6 942.8 L1432.8 943.2 L1434.0 943.5 L1435.2 943.9 L1436.5 944.2 L1437.8 944.6 L1439.0 944.9 L1440.3 945.3 L1441.6 945.7 L1442.8 946.1 L1444.1 946.5 L1445.3 946.9 L1446.5 947.3 L1447.6 947.7 L1448.8 948.2 L1449.9 948.6 L1451.0 949.1 L1452.2 949.6 L1453.3 950.0 L1454.4 950.5 L1455.6 951.0 L1456.7 951.5 L1457.8 952.0 L1458.9 952.5 L1460.1 953.1 L1461.2 953.6 L1462.3 954.1 L1463.4 954.6 L1464.6 955.1 L1465.7 955.7 L1466.8 956.2 L1467.9 956.7 L1469.0 957.2 L1470.1 957.8 L1471.2 958.3 L1472.3 958.8 L1473.4 959.4 L1474.5 959.9 L1475.7 960.5 L1476.8 961.1 L1477.9 961.6 L1479.0 962.2 L1480.1 962.7 L1481.1 963.3 L1482.2 963.8 L1483.2 964.4 L1484.3 964.9 L1485.3 965.4 L1486.2 965.9 L1487.2 966.4 L1488.4 967.0 L1489.5 967.7 L1490.7 968.3 L1491.8 968.9 L1492.9 969.5 L1493.9 970.2 L1495.0 970.7 L1496.0 971.3 L1497.0 971.8 L1498.0 972.3 L1498.9 972.8 L1499.9 973.2 L1501.2 973.7 L1502.5 974.2 L1503.7 974.6 L1504.9 974.9 L1506.2 975.2 L1507.5 975.3 L1508.7 975.3 L1509.9 975.3 L1511.1 975.2 L1512.3 975.0 L1513.6 974.8 L1514.9 974.6 L1516.3 974.3 L1517.7 974.0 L1518.8 973.8 L1519.9 973.5 L1521.0 973.2 L1522.2 972.9 L1523.4 972.6 L1524.6 972.3 L1525.9 971.9 L1527.1 971.5 L1528.4 971.1 L1529.6 970.8 L1530.9 970.4 L1532.1 970.0 L1533.2 969.6 L1534.4 969.3 L1535.5 968.9 L1536.8 968.5 L1538.0 968.1 L1539.2 967.8 L1540.4 967.4 L1541.6 967.0 L1542.8 966.6 L1544.0 966.2 L1545.1 965.8 L1546.2 965.4 L1547.2 964.9 L1548.2 964.3 L1549.3 963.6 L1550.3 963.0 L1551.3 962.2 L1552.2 961.5 L1553.1 960.7 L1554.0 959.9 L1554.8 959.0 L1555.6 958.1 L1556.4 957.1 L1557.1 956.2 L1557.7 955.2 L1558.3 954.1 L1558.9 953.0 L1559.5 951.9 L1560.0 950.8 L1560.5 949.6 L1561.1 948.4 L1561.6 947.2 L1562.1 946.0 L1562.6 944.7 L1563.0 943.7 L1563.4 942.6 L1563.8 941.5 L1564.3 940.4 L1564.6 939.3 L1565.0 938.2 L1565.4 937.0 L1565.8 935.9 L1566.2 934.7 L1566.6 933.5 L1566.9 932.3 L1567.3 931.1 L1567.7 929.9 L1568.1 928.7 L1568.4 927.5 L1568.8 926.3 L1569.1 925.2 L1569.5 924.0 L1569.8 922.9 L1570.1 921.7 L1570.5 920.5 L1570.8 919.4 L1571.1 918.2 L1571.5 917.0 L1571.8 915.8 L1572.1 914.6 L1572.4 913.4 L1572.8 912.1 L1573.1 910.9 L1573.4 909.7 L1573.7 908.5 L1574.0 907.3 L1574.3 906.1 L1574.6 904.9 L1574.9 903.7 L1575.2 902.5 L1575.5 901.3 L1575.8 900.1 L1576.0 898.9 L1576.3 897.7 L1576.6 896.5 L1576.8 895.3 L1577.1 894.1 L1577.3 892.9 L1577.6 891.7 L1577.9 890.5 L1578.1 889.3 L1578.4 888.1 L1578.6 886.9 L1578.9 885.7 L1579.2 884.5 L1579.4 883.4 L1579.7 882.2 L1580.0 881.1 L1580.3 879.9 L1580.6 878.7 L1580.9 877.4 L1581.2 876.2 L1581.5 875.0 L1581.8 873.7 L1582.1 872.5 L1582.4 871.3 L1582.7 870.2 L1583.0 869.0 L1583.3 867.9 L1583.7 866.8 L1584.0 865.7 L1584.4 864.6 L1584.8 863.6 L1585.2 862.6 L1585.8 861.3 L1586.4 860.0 L1587.1 858.8 L1587.7 857.6 L1588.4 856.5 L1589.1 855.4 L1589.8 854.3 L1590.6 853.3 L1591.3 852.3 L1592.1 851.2 L1593.0 850.3 L1593.8 849.3 L1594.7 848.4 L1595.6 847.5 L1596.5 846.5 L1597.5 845.4 L1598.2 844.6 L1598.9 843.8 L1599.7 842.9 L1600.5 842.0 L1601.3 841.1 L1602.1 840.1 L1603.0 839.1 L1603.8 838.1 L1604.7 837.1 L1605.6 836.1 L1606.4 835.1 L1607.3 834.1 L1608.1 833.1 L1609.0 832.1 L1609.8 831.1 L1610.6 830.2 L1611.4 829.2 L1612.2 828.2 L1613.0 827.3 L1613.8 826.3 L1614.6 825.3 L1615.4 824.3 L1616.2 823.4 L1617.0 822.4 L1617.8 821.4 L1618.6 820.4 L1619.3 819.5 L1620.1 818.5 L1620.8 817.5 L1621.5 816.6 L1622.2 815.6 L1622.9 814.6 L1623.6 813.6 L1624.3 812.5 L1624.9 811.6 L1625.6 810.6 L1626.2 809.6 L1626.8 808.6 L1627.4 807.6 L1628.0 806.5 L1628.6 805.5 L1629.2 804.5 L1629.8 803.4 L1630.4 802.3 L1630.9 801.3 L1631.5 800.2 L1632.0 799.2 L1632.6 798.1 L1633.1 797.0 L1633.6 795.9 L1634.1 794.8 L1634.7 793.6 L1635.2 792.5 L1635.7 791.4 L1636.2 790.2 L1636.7 789.1 L1637.2 788.0 L1637.7 786.9 L1638.1 785.9 L1638.6 784.8 L1639.1 783.6 L1639.7 782.3 L1640.2 781.1 L1640.7 779.9 L1641.2 778.7 L1641.7 777.5 L1642.2 776.3 L1642.7 775.1 L1643.2 774.0 L1643.7 772.8 L1644.2 771.6 L1644.7 770.5 L1645.2 769.3 L1645.8 768.1 L1646.3 766.9 L1646.9 765.7 L1647.5 764.5 L1648.0 763.3 L1648.6 762.2 L1649.2 761.1 L1649.7 760.0 L1650.3 759.0 L1650.9 758.1 L1651.7 756.9 L1652.6 755.7 L1653.4 754.5 L1654.2 753.5 L1655.1 752.7 L1656.0 752.0 L1657.4 751.3 L1658.8 750.9 L1660.1 751.0 L1661.0 751.5 L1661.9 752.4 L1662.8 753.5 L1663.6 754.7 L1664.3 756.1 L1664.7 757.0 L1665.2 758.0 L1665.5 759.1 L1665.9 760.3 L1666.3 761.5 L1666.6 762.7 L1666.9 764.0 L1667.2 765.3 L1667.5 766.6 L1667.8 767.9 L1668.1 769.2 L1668.4 770.5 L1668.7 771.7 L1668.9 773.0 L1669.2 774.2 L1669.4 775.5 L1669.6 776.7 L1669.9 778.0 L1670.1 779.3 L1670.3 780.5 L1670.5 781.8 L1670.7 783.1 L1670.9 784.4 L1671.2 785.6 L1671.4 786.9 L1671.6 788.2 L1671.9 789.5 L1672.1 790.8 L1672.3 792.1 L1672.5 793.4 L1672.7 794.7 L1672.9 796.0 L1673.1 797.3 L1673.4 798.6 L1673.6 799.8 L1673.9 801.0 L1674.2 802.2 L1674.5 803.3 L1674.9 804.6 L1675.3 805.9 L1675.7 807.3 L1676.1 808.5 L1676.5 809.8 L1677.0 810.9 L1677.5 812.0 L1678.0 812.9 L1678.6 813.6 L1679.8 814.6 L1681.2 815.3 L1682.7 815.6 L1683.8 815.6 L1684.9 815.3 L1686.1 815.0 L1687.4 814.5 L1688.7 814.0 L1689.9 813.6 L1691.1 813.2 L1692.3 812.9 L1693.5 812.6 L1694.8 812.2 L1696.0 811.7 L1697.1 811.2 L1698.1 810.5 L1699.0 809.7 L1699.9 808.8 L1700.6 807.8 L1701.3 806.7 L1702.0 805.6 L1702.7 804.5 L1703.3 803.3 L1703.8 802.3 L1704.3 801.2 L1704.8 800.1 L1705.2 798.9 L1705.7 797.7 L1706.1 796.5 L1706.5 795.4 L1706.9 794.2 L1707.4 793.1 L1707.9 791.9 L1708.4 790.7 L1708.8 789.4 L1709.3 788.2 L1709.8 787.0 L1710.3 785.9 L1710.9 784.8 L1711.5 783.8 L1712.2 782.8 L1713.0 781.8 L1713.8 781.0 L1714.7 780.1 L1715.6 779.4 L1716.6 778.7 L1717.6 778.1 L1718.7 777.6 L1719.8 777.1 L1721.0 776.6 L1722.2 776.2 L1723.5 775.9 L1724.8 775.6 L1725.9 775.4 L1727.1 775.2 L1728.3 775.1 L1729.6 775.0 L1730.8 775.0 L1732.1 774.9 L1733.4 774.9 L1734.7 775.0 L1736.0 775.0 L1737.2 775.0 L1738.4 775.0 L1739.7 775.1 L1740.9 775.1 L1742.2 775.2 L1743.4 775.3 L1744.7 775.4 L1745.9 775.6 L1747.1 775.8 L1748.3 776.0 L1749.5 776.2 L1750.7 776.5 L1751.9 776.8 L1753.1 777.1 L1754.3 777.5 L1755.4 777.9 L1756.5 778.3 L1757.6 778.7 L1758.7 779.2 L1759.8 779.7 L1760.9 780.2 L1762.0 780.8 L1763.1 781.4 L1764.2 782.0 L1765.2 782.6 L1766.2 783.3 L1767.1 784.0 L1768.0 784.8 L1768.9 785.8 L1769.7 787.1 L1770.4 788.4 L1771.1 789.7 L1771.7 790.8 L1772.4 791.6 L1773.1 792.0 L1774.1 791.6 L1775.1 790.6 L1776.2 790.0 L1777.3 790.2 L1778.5 790.8 L1779.8 791.5 L1781.0 792.4 L1782.3 793.1 L1783.5 793.7 L1784.8 794.2 L1786.1 794.7 L1787.3 795.4 L1788.5 796.1 L1789.4 796.8 L1790.4 797.6 L1791.3 798.4 L1792.2 799.3 L1793.1 800.2 L1793.9 801.2 L1794.7 802.3 L1795.3 803.2 L1795.9 804.3 L1796.5 805.3 L1797.0 806.4 L1797.5 807.6 L1798.0 808.8 L1798.4 809.9 L1798.9 811.2 L1799.4 812.4 L1799.8 813.6 L1800.2 814.7 L1800.6 815.9 L1800.9 817.1 L1801.3 818.3 L1801.6 819.6 L1802.0 820.8 L1802.3 822.1 L1802.6 823.3 L1802.9 824.5 L1803.3 825.7 L1803.6 826.9 L1803.9 828.0 L1804.3 829.4 L1804.7 830.7 L1805.0 832.0 L1805.4 833.3 L1805.8 834.6 L1806.1 835.8 L1806.6 837.0 L1807.0 838.2 L1807.5 839.5 L1808.0 840.8 L1808.6 842.2 L1809.1 843.5 L1809.7 844.6 L1810.4 845.7 L1811.1 846.5 L1812.4 847.6 L1813.7 848.3 L1815.2 848.5 L1816.2 848.2 L1817.2 847.5 L1818.2 846.7 L1819.3 845.8 L1820.4 844.9 L1821.4 844.4 L1822.7 844.0 L1824.0 843.8 L1825.3 843.7 L1826.5 844.0 L1827.4 844.5 L1828.2 845.3 L1829.0 846.3 L1829.8 847.4 L1830.6 848.5 L1831.2 849.4 L1831.8 850.3 L1832.4 851.4 L1833.0 852.5 L1833.7 853.6 L1834.3 854.7 L1834.9 855.8 L1835.5 856.9 L1836.2 857.9 L1836.8 858.8 L1837.7 860.0 L1838.5 861.3 L1839.4 862.5 L1840.3 863.5 L1841.1 864.2 L1841.9 864.5 L1843.0 864.1 L1844.0 863.2 L1845.0 861.9 L1845.6 861.0 L1846.1 860.0 L1846.6 858.8 L1847.1 857.5 L1847.5 856.2 L1848.0 854.9 L1848.6 853.7 L1849.1 852.6 L1849.7 851.4 L1850.4 850.2 L1851.0 849.1 L1851.7 848.0 L1852.4 847.1 L1853.2 846.5 L1854.5 845.9 L1855.9 845.7 L1857.3 846.0 L1858.2 846.5 L1859.0 847.3 L1859.8 848.3 L1860.7 849.5 L1861.5 850.6 L1862.4 851.6 L1863.2 852.5 L1864.1 853.4 L1865.0 854.2 L1865.9 855.1 L1866.8 856.0 L1867.7 856.9 L1868.6 857.8 L1869.5 858.6 L1870.4 859.4 L1871.4 860.2 L1872.3 861.1 L1873.2 861.9 L1874.0 862.9 L1874.8 863.9 L1875.4 864.8 L1875.9 865.8 L1876.4 866.8 L1876.9 867.8 L1877.4 868.9 L1877.8 870.0 L1878.2 871.2 L1878.7 872.4 L1879.1 873.6 L1879.5 874.8 L1879.9 876.1 L1880.2 877.2 L1880.6 878.3 L1880.9 879.4 L1881.2 880.6 L1881.5 881.7 L1881.8 883.0 L1882.1 884.2 L1882.4 885.4 L1882.7 886.7 L1883.0 887.9 L1883.3 889.2 L1883.6 890.5 L1883.9 891.7 L1884.2 893.0 L1884.4 894.2 L1884.7 895.4 L1885.0 896.6 L1885.3 897.9 L1885.6 899.1 L1885.8 900.4 L1886.1 901.6 L1886.3 902.9 L1886.6 904.1 L1886.8 905.3 L1887.1 906.6 L1887.3 907.8 L1887.6 909.0 L1887.9 910.3 L1888.2 911.5 L1888.4 912.7 L1888.8 913.9 L1889.1 915.1 L1889.5 916.3 L1889.8 917.5 L1890.2 918.7 L1890.6 919.9 L1891.0 921.1 L1891.4 922.3 L1891.9 923.5 L1892.3 924.6 L1892.7 925.8 L1893.2 927.0 L1893.6 928.1 L1894.0 929.2 L1894.5 930.3 L1894.9 931.4 L1895.3 932.5 L1895.8 933.7 L1896.2 935.0 L1896.7 936.2 L1897.1 937.4 L1897.6 938.6 L1898.1 939.7 L1898.5 940.8 L1899.0 941.9 L1899.4 943.0 L1899.9 944.0 L1900.4 945.0 L1901.1 946.4 L1901.8 947.8 L1902.5 949.2 L1903.2 950.4 L1904.0 951.3 L1904.8 951.9 L1906.1 952.1 L1907.4 951.7 L1908.7 950.9 L1909.3 950.3 L1910.0 949.6 L1910.6 948.8 L1911.3 947.8 L1911.9 946.7 L1912.6 945.6 L1913.2 944.4 L1913.9 943.1 L1914.5 941.9 L1915.2 940.7 L1915.8 939.5 L1916.4 938.5 L1916.9 937.4 L1917.5 936.3 L1918.0 935.2 L1918.6 934.1 L1919.1 932.9 L1919.7 931.7 L1920.2 930.6 L1920.8 929.4 L1921.4 928.2 L1921.9 927.0 L1922.5 925.8 L1923.0 924.6 L1923.6 923.5 L1924.1 922.3 L1924.6 921.2 L1925.1 920.1 L1925.6 919.0 L1926.1 917.9 L1926.7 916.8 L1927.2 915.7 L1927.7 914.6 L1928.2 913.5 L1928.7 912.4 L1929.2 911.2 L1929.7 910.2 L1930.2 909.1 L1930.7 908.0 L1931.2 906.9 L1931.8 905.8 L1932.3 904.8 L1932.9 903.7 L1933.5 902.5 L1934.1 901.3 L1934.7 900.1 L1935.4 898.9 L1936.0 897.8 L1936.6 896.6 L1937.3 895.5 L1937.9 894.4 L1938.5 893.4 L1939.0 892.4 L1939.6 891.5" stroke="#990000" stroke-linecap="round"/>
<path d="M181.2 314.0 L181.5 313.8 L182.2 314.0 L183.3 314.3 L184.6 314.4 L186.2 314.8 L187.8 315.2 L189.3 315.8 L190.8 316.0 L192.0 316.2 L193.3 316.3 L194.5 316.5 L195.6 317.2 L196.8 317.3 L198.0 317.6 L199.3 317.9 L200.4 318.3 L201.5 318.8 L202.6 319.1 L203.8 319.4 L205.0 319.3 L206.2 319.2 L207.4 319.8 L208.7 319.9 L209.9 320.3 L211.1 320.4 L212.3 320.5 L213.6 320.7 L214.9 320.8 L216.2 321.5 L217.5 321.8 L218.8 321.9 L220.0 322.2 L221.2 322.4 L222.4 322.5 L223.4 323.2 L224.3 323.6 L225.6 324.5 L226.6 325.1 L227.6 325.9 L228.7 326.3 L229.8 326.5 L231.0 327.3 L232.2 327.8 L233.5 327.8 L234.8 328.3 L236.0 328.5 L237.3 328.4 L238.6 328.4 L239.9 328.6 L241.1 328.5 L242.3 328.8 L243.3 328.7 L244.4 329.2 L245.2 330.2 L246.3 330.7 L247.3 331.1 L248.5 331.9 L249.7 332.3 L251.0 332.9 L252.3 333.0 L253.6 333.2 L254.8 333.5 L256.0 333.6 L257.2 334.2 L258.5 334.2 L259.7 334.4 L260.9 334.3 L262.2 334.3 L263.5 334.1 L264.8 333.8 L266.0 333.4 L267.2 333.3 L268.3 333.9 L269.3 334.6 L270.3 335.5 L271.1 336.6 L271.9 337.7 L272.7 338.5 L274.1 339.6 L275.6 340.6 L276.9 340.4 L278.4 339.7 L280.0 339.5 L281.1 339.3 L282.4 339.5 L283.7 340.0 L285.0 340.1 L286.3 340.4 L287.4 340.9 L289.0 341.3 L290.4 341.3 L291.8 341.7 L292.9 342.5 L294.0 343.2 L295.0 344.3 L296.2 344.7 L297.6 345.2 L299.2 345.1 L300.7 344.9 L302.0 345.1 L303.1 345.7 L304.0 346.8 L305.0 347.5 L306.0 348.3 L307.1 348.8 L308.3 349.0 L309.5 349.2 L310.8 349.6 L312.0 349.5 L313.3 349.8 L314.6 349.5 L315.9 349.5 L317.1 349.6 L318.2 349.7 L319.4 350.6 L320.5 351.2 L321.6 352.2 L322.6 352.9 L323.9 353.4 L325.1 354.0 L326.2 354.0 L327.3 353.2 L328.4 352.8 L329.6 352.5 L330.9 352.7 L332.1 352.9 L333.1 353.8 L333.9 355.0 L334.8 356.3 L335.8 357.0 L337.2 357.2 L338.7 357.3 L340.2 357.1 L341.7 356.8 L343.1 356.8 L344.6 356.7 L346.1 357.1 L347.6 358.0 L349.0 358.9 L350.1 359.9 L351.1 361.1 L352.2 361.7 L353.4 362.2 L354.8 362.2 L356.2 362.3 L357.7 362.3 L359.2 362.2 L360.4 362.4 L361.6 362.8 L362.7 363.3 L363.9 363.4 L365.1 364.0 L366.3 364.1 L367.5 364.3 L368.8 364.3 L369.9 364.5 L371.0 365.4 L372.0 366.3 L372.8 367.6 L373.6 368.4 L374.5 369.3 L375.4 370.0 L376.8 370.3 L378.3 370.4 L379.8 370.4 L381.2 370.2 L382.7 370.2 L384.2 370.4 L385.6 370.4 L386.8 371.2 L387.9 371.9 L388.9 372.7 L390.0 373.3 L391.1 374.0 L392.1 375.0 L393.2 375.6 L394.4 376.0 L395.5 376.7 L396.7 377.0 L398.0 377.0 L399.2 377.0 L400.3 377.7 L401.5 378.6 L402.5 379.2 L403.6 380.2 L404.7 381.0 L405.8 382.0 L407.0 382.3 L408.2 383.2 L409.4 383.8 L410.6 384.2 L411.6 385.1 L412.6 385.8 L413.5 386.9 L414.5 387.9 L415.4 388.6 L416.4 389.3 L417.4 390.6 L418.4 391.4 L419.4 392.7 L420.4 393.6 L421.4 394.6 L422.3 395.7 L423.2 396.7 L424.1 397.7 L424.9 398.5 L425.8 399.7 L426.7 400.5 L428.2 401.1 L429.7 401.6 L431.1 401.8 L432.2 402.8 L433.1 403.5 L434.0 404.9 L434.7 406.3 L435.4 407.4 L436.1 408.8 L437.0 410.3 L438.0 411.1 L439.1 411.7 L440.2 412.2 L441.4 412.7 L442.4 413.5 L443.4 414.3 L444.4 415.1 L445.4 415.9 L446.4 416.8 L447.3 418.0 L448.1 419.2 L448.9 420.1 L449.6 421.1 L450.3 422.3 L451.0 423.5 L451.7 424.9 L452.4 425.7 L453.2 426.6 L453.9 427.8 L454.7 428.5 L455.4 429.5 L456.1 430.5 L456.8 431.9 L457.4 433.0 L458.0 434.3 L458.6 435.3 L459.1 436.7 L459.7 438.0 L460.2 439.1 L460.8 440.5 L461.3 441.9 L461.8 442.8 L462.3 444.0 L462.8 445.3 L463.4 446.4 L463.9 447.4 L464.5 448.5 L465.0 449.6 L465.6 451.0 L466.1 452.1 L466.7 453.0 L467.2 454.1 L467.8 455.3 L468.4 456.4 L468.9 457.3 L469.5 458.3 L470.0 459.2 L470.6 460.8 L471.1 462.1 L471.7 463.0 L472.2 464.4 L472.6 465.8 L473.0 466.8 L473.4 467.6 L473.8 468.8 L474.2 470.0 L474.6 471.0 L475.0 472.4 L475.4 473.4 L475.7 475.1 L476.1 476.4 L476.5 477.7 L476.8 479.2 L477.2 480.4 L477.5 481.3 L477.9 482.4 L478.2 483.4 L478.5 484.5 L478.8 486.1 L479.1 487.5 L479.4 488.6 L479.8 489.7 L480.1 491.1 L480.3 492.5 L480.6 494.0 L480.9 494.9 L481.2 496.2 L481.5 497.6 L481.8 498.9 L482.0 499.8 L482.3 500.8 L482.6 502.3 L482.8 503.4 L483.1 504.6 L483.3 505.9 L483.6 507.0 L483.8 508.5 L484.1 509.5 L484.3 510.5 L484.6 511.9 L484.8 513.3 L485.1 514.7 L485.4 516.0 L485.6 517.3 L485.9 518.7 L486.1 519.7 L486.4 520.8 L486.6 521.8 L486.9 522.9 L487.2 524.3 L487.4 525.3 L487.7 526.7 L487.9 527.8 L488.2 529.1 L488.4 530.6 L488.7 531.6 L489.0 532.6 L489.2 533.9 L489.5 535.1 L489.7 536.6 L490.0 537.6 L490.2 539.2 L490.5 540.6 L490.7 541.9 L491.0 543.0 L491.3 544.1 L491.5 545.4 L491.8 546.6 L492.0 547.7 L492.3 548.8 L492.6 550.0 L492.9 551.4 L493.2 552.8 L493.4 554.1 L493.7 555.0 L494.0 556.0 L494.3 557.2 L494.6 558.5 L494.9 559.6 L495.2 560.6 L495.5 561.6 L495.8 562.9 L496.1 564.2 L496.4 565.7 L496.7 567.1 L497.0 568.4 L497.2 569.7 L497.5 571.0 L497.8 572.0 L498.1 573.2 L498.4 574.0 L498.7 575.3 L499.1 576.5 L499.4 577.5 L499.8 578.7 L500.1 580.2 L500.5 581.3 L500.9 582.5 L501.3 583.5 L501.7 584.5 L502.1 586.0 L502.5 586.8 L502.9 587.8 L503.3 589.2 L503.7 590.3 L504.1 591.3 L504.5 592.7 L505.0 593.8 L505.4 595.0 L505.8 596.1 L506.2 597.3 L506.7 598.5 L507.1 599.6 L507.5 600.5 L508.0 601.6 L508.5 603.1 L508.9 604.3 L509.4 605.2 L509.9 606.7 L510.4 607.6 L510.9 608.6 L511.4 609.9 L511.9 610.9 L512.5 612.1 L513.0 613.2 L513.6 614.2 L514.2 615.5 L514.9 616.4 L515.5 617.6 L516.1 618.7 L516.8 619.5 L517.4 620.6 L518.0 621.5 L518.6 622.8 L519.2 624.4 L519.7 625.7 L520.3 627.0 L520.9 628.2 L521.6 628.9 L522.3 630.0 L523.5 630.8 L524.8 630.9 L526.1 631.5 L527.4 631.9 L528.5 632.4 L529.5 633.5 L530.5 634.2 L531.6 635.0 L532.7 635.3 L533.9 636.1 L535.2 636.4 L536.4 636.9 L537.4 637.5 L538.8 638.5 L540.2 639.6 L541.2 639.4 L542.4 639.0 L543.6 638.6 L544.8 638.1 L546.0 638.2 L547.3 638.5 L548.5 639.2 L549.7 639.7 L551.0 640.2 L552.2 640.2 L553.4 639.6 L554.7 639.3 L556.0 638.7 L557.4 638.6 L558.6 638.4 L559.8 638.2 L561.0 637.6 L562.2 637.3 L563.5 637.3 L564.8 637.4 L566.0 637.3 L567.2 636.9 L568.5 637.1 L569.7 636.9 L571.0 637.2 L572.2 637.5 L573.4 637.4 L574.6 637.9 L575.9 638.1 L577.2 638.0 L578.5 638.1 L579.8 638.2 L581.1 638.5 L582.4 638.4 L583.6 637.8 L584.9 637.3 L586.2 636.9 L587.6 637.0 L588.9 636.8 L590.1 636.9 L591.4 636.9 L592.7 637.3 L594.0 637.4 L595.3 637.5 L596.4 638.1 L597.5 638.5 L598.7 639.2 L599.7 640.1 L600.7 641.1 L601.8 641.2 L602.9 641.3 L604.0 641.2 L605.2 641.3 L606.4 641.6 L607.7 641.8 L609.0 641.6 L610.2 641.7 L611.4 642.4 L612.7 642.9 L614.1 643.2 L615.4 643.7 L616.7 644.0 L617.9 644.7 L619.0 645.1 L620.0 645.7 L621.3 646.3 L622.3 646.5 L623.6 647.1 L624.4 647.4 L625.4 648.2 L626.4 648.7 L627.5 648.9 L628.6 649.4 L629.8 650.0 L631.0 650.7 L632.3 651.4 L633.6 652.0 L635.0 652.6 L636.3 653.0 L637.2 653.7 L638.2 654.1 L639.2 654.4 L640.2 655.1 L641.2 656.0 L642.3 656.3 L643.4 656.7 L644.5 657.5 L645.6 658.0 L646.7 658.5 L647.8 659.2 L649.0 659.7 L650.1 660.5 L651.3 661.1 L652.5 662.0 L653.6 662.8 L654.8 662.9 L656.0 663.5 L657.1 664.2 L658.3 664.9 L659.4 665.5 L660.6 665.9 L661.7 666.4 L662.8 666.7 L664.0 667.0 L665.2 667.7 L666.4 668.3 L667.6 669.0 L668.7 669.4 L669.9 669.5 L671.1 670.1 L672.3 670.6 L673.5 671.0 L674.7 671.4 L675.9 671.7 L677.1 672.1 L678.3 672.4 L679.4 672.6 L680.6 673.0 L681.7 673.4 L682.8 674.1 L683.9 674.4 L685.0 674.6 L686.1 674.8 L687.1 675.0 L688.4 675.4 L689.6 675.7 L690.9 675.8 L692.1 676.6 L693.2 676.8 L694.4 677.1 L695.5 677.4 L696.7 677.6 L697.8 677.7 L698.9 677.7 L700.1 678.0 L701.2 678.2 L702.4 678.7 L703.7 679.0 L704.9 679.5 L706.2 679.5 L707.5 679.9 L708.7 680.1 L710.0 679.9 L711.3 679.9 L712.5 680.3 L713.8 680.7 L715.1 680.7 L716.3 681.0 L717.6 681.0 L718.9 681.3 L720.1 681.0 L721.4 681.1 L722.6 681.5 L723.9 681.3 L725.1 681.3 L726.4 681.1 L727.6 681.1 L728.9 681.1 L730.2 681.4 L731.6 681.2 L732.9 681.2 L734.0 681.0 L735.2 681.1 L736.3 681.3 L737.5 681.2 L738.7 680.8 L739.9 680.9 L741.1 681.0 L742.3 680.7 L743.5 680.2 L744.7 680.2 L745.9 680.2 L747.1 679.8 L748.4 679.4 L749.6 679.1 L750.8 679.0 L752.0 679.1 L753.2 679.0 L754.4 679.0 L755.6 678.5 L756.8 678.2 L758.0 678.2 L759.2 678.1 L760.4 677.8 L761.6 677.7 L762.8 677.4 L764.0 676.9 L765.2 676.8 L766.4 676.4 L767.6 676.4 L768.8 676.2 L770.0 676.0 L771.2 675.9 L772.4 675.4 L773.6 675.2 L774.8 674.6 L776.0 674.7 L777.2 674.3 L778.4 674.2 L779.6 673.5 L780.8 673.2 L782.0 672.9 L783.2 672.3 L784.4 671.6 L785.6 671.1 L786.8 670.5 L788.0 670.4 L789.2 669.8 L790.3 669.6 L791.5 669.1 L792.7 668.7 L793.9 668.3 L795.0 667.8 L796.2 667.4 L797.3 667.0 L798.4 666.3 L799.5 666.0 L800.6 665.3 L801.8 665.0 L802.9 664.6 L804.0 664.2 L805.1 663.5 L806.2 663.1 L807.3 662.8 L808.5 662.1 L809.6 661.4 L810.8 660.9 L811.9 660.6 L813.1 659.8 L814.3 659.0 L815.4 658.6 L816.4 658.3 L817.5 658.0 L818.6 657.4 L819.6 657.2 L820.7 656.4 L821.8 656.0 L822.9 655.2 L824.0 654.5 L825.1 653.9 L826.3 653.3 L827.4 653.0 L828.5 652.6 L829.6 652.0 L830.7 651.9 L831.9 651.2 L833.0 650.5 L834.1 649.9 L835.2 649.7 L836.4 649.5 L837.5 648.7 L838.6 648.0 L839.7 647.8 L840.9 647.1 L842.0 647.0 L843.2 646.4 L844.4 646.0 L845.6 645.3 L846.8 645.0 L848.0 644.4 L849.2 643.7 L850.4 643.5 L851.6 642.7 L852.8 642.4 L853.9 641.6 L855.1 641.3 L856.3 640.8 L857.5 640.6 L858.6 639.8 L859.7 639.5 L860.8 639.1 L861.9 639.0 L863.0 638.8 L864.1 638.3 L865.1 637.7 L866.4 637.2 L867.6 636.7 L868.8 636.4 L870.0 636.0 L871.1 635.6 L872.2 635.6 L873.3 635.4 L874.4 635.0 L875.6 635.1 L876.7 634.6 L877.9 634.4 L879.1 633.9 L880.4 633.9 L881.5 633.8 L882.6 633.4 L883.7 633.3 L884.9 633.2 L886.1 632.7 L887.2 632.3 L888.4 632.1 L889.6 632.2 L890.9 631.7 L892.1 631.6 L893.3 631.4 L894.6 631.1 L895.8 630.9 L897.1 630.9 L898.3 630.4 L899.5 630.4 L900.8 630.0 L902.0 629.9 L903.2 629.8 L904.4 629.3 L905.6 629.3 L906.8 629.3 L908.0 628.8 L909.2 628.2 L910.5 627.8 L911.7 628.1 L912.9 627.5 L914.2 627.6 L915.4 627.2 L916.6 627.2 L917.8 626.7 L919.0 626.3 L920.2 626.3 L921.4 625.9 L922.5 625.7 L923.7 625.8 L924.8 625.6 L925.9 625.5 L926.9 625.4 L928.2 624.5 L929.5 624.0 L930.8 623.9 L932.0 623.6 L933.2 622.8 L934.4 622.5 L935.6 622.0 L936.7 621.6 L937.9 621.0 L939.0 620.4 L940.2 620.4 L941.4 619.8 L942.5 619.6 L943.6 618.8 L944.6 618.4 L945.7 617.7 L946.7 617.3 L947.8 616.6 L948.8 616.3 L949.9 615.6 L951.0 615.3 L952.1 614.7 L953.2 613.9 L954.3 613.3 L955.4 612.7 L956.6 612.4 L957.6 611.7 L958.5 610.9 L959.5 610.7 L960.5 610.3 L961.5 609.7 L962.5 608.8 L963.5 607.9 L964.5 607.2 L965.6 606.4 L966.6 605.6 L967.7 605.2 L968.7 604.6 L969.8 604.0 L970.9 603.3 L971.9 602.4 L973.0 602.0 L974.1 601.5 L975.2 600.8 L976.3 600.2 L977.3 599.6 L978.4 599.2 L979.5 598.7 L980.5 598.0 L981.6 597.2 L982.6 596.4 L983.6 595.8 L984.7 595.5 L985.7 594.8 L986.7 594.1 L987.8 593.5 L988.8 592.7 L989.9 592.6 L990.9 591.6 L992.0 591.2 L993.1 590.9 L994.1 590.1 L995.2 589.6 L996.3 589.0 L997.3 588.2 L998.4 587.6 L999.5 586.9 L1000.6 586.6 L1001.7 586.2 L1002.8 585.8 L1003.9 584.8 L1005.0 584.4 L1006.1 583.7 L1007.2 583.1 L1008.5 582.5 L1009.7 581.6 L1011.1 581.2 L1012.5 580.1 L1013.9 579.5 L1015.3 578.9 L1016.7 578.1 L1018.2 577.3 L1019.6 576.7 L1021.1 575.6 L1022.5 574.9 L1023.9 574.2 L1025.2 573.3 L1026.6 572.7 L1027.8 571.9 L1029.0 571.3 L1030.1 570.7 L1031.2 570.2 L1032.1 569.5 L1032.9 569.2 L1033.7 568.8 L1034.3 568.2 L1034.8 568.1 L1035.2 567.7 L1035.4 567.9 L1035.5 567.8" stroke="#000080" stroke-linecap="round"/>
<path d="M1067.1 538.2 L1067.3 538.2 L1067.7 538.3 L1068.4 538.5 L1069.4 538.7 L1070.5 538.9 L1071.8 539.2 L1073.2 539.6 L1074.8 539.9 L1076.4 540.3 L1078.0 540.7 L1079.6 541.1 L1081.2 541.5 L1082.7 541.9 L1084.1 542.3 L1085.4 542.7 L1086.6 543.1 L1087.8 543.5 L1089.1 543.8 L1090.3 544.2 L1091.5 544.6 L1092.8 545.0 L1094.0 545.5 L1095.2 545.9 L1096.4 546.3 L1097.6 546.8 L1098.8 547.3 L1099.9 547.8 L1101.1 548.4 L1102.1 549.0 L1103.2 549.6 L1104.2 550.3 L1105.2 551.0 L1106.2 551.7 L1107.1 552.4 L1108.1 553.2 L1109.0 554.0 L1109.9 554.8 L1110.7 555.7 L1111.6 556.5 L1112.4 557.4 L1113.3 558.3 L1114.2 559.2 L1115.0 560.1 L1115.9 561.0 L1116.7 561.9 L1117.6 562.8 L1118.4 563.7 L1119.2 564.6 L1120.0 565.5 L1120.9 566.5 L1121.7 567.4 L1122.5 568.4 L1123.3 569.4 L1124.1 570.4 L1124.9 571.4 L1125.7 572.4 L1126.5 573.3 L1127.2 574.3 L1128.0 575.3 L1128.7 576.3 L1129.4 577.3 L1130.2 578.3 L1130.9 579.3 L1131.6 580.3 L1132.3 581.3 L1133.0 582.3 L1133.7 583.3 L1134.4 584.3 L1135.0 585.3 L1135.7 586.4 L1136.3 587.4 L1137.0 588.4 L1137.6 589.4 L1138.2 590.5 L1138.8 591.5 L1139.4 592.6 L1140.0 593.6 L1140.6 594.7 L1141.1 595.8 L1141.7 596.8 L1142.2 597.9 L1142.8 599.0 L1143.3 600.0 L1143.8 601.1 L1144.3 602.2 L1144.9 603.3 L1145.4 604.5 L1145.9 605.6 L1146.4 606.8 L1146.9 607.8 L1147.3 608.9 L1147.8 610.0 L1148.2 611.1 L1148.6 612.2 L1149.1 613.3 L1149.5 614.4 L1150.0 615.6 L1150.4 616.7 L1150.8 617.9 L1151.2 619.0 L1151.7 620.2 L1152.1 621.4 L1152.5 622.5 L1152.9 623.7 L1153.3 624.8 L1153.7 626.0 L1154.1 627.1 L1154.5 628.3 L1154.9 629.5 L1155.3 630.7 L1155.7 631.9 L1156.1 633.1 L1156.5 634.3 L1156.8 635.5 L1157.2 636.8 L1157.6 638.0 L1157.9 639.2 L1158.3 640.4 L1158.7 641.6 L1159.0 642.8 L1159.4 644.0 L1159.7 645.2 L1160.1 646.3 L1160.4 647.5 L1160.8 648.7 L1161.1 650.0 L1161.5 651.2 L1161.8 652.5 L1162.1 653.8 L1162.5 655.0 L1162.8 656.3 L1163.2 657.5 L1163.5 658.7 L1163.8 659.9 L1164.1 661.0 L1164.5 662.2 L1164.8 663.3 L1165.2 664.3 L1165.5 665.3 L1166.0 666.6 L1166.4 667.9 L1166.8 669.2 L1167.3 670.3 L1167.7 671.5 L1168.2 672.5 L1168.7 673.4 L1169.3 674.2 L1170.5 675.4 L1171.8 676.3 L1173.1 676.7 L1174.4 676.4 L1175.8 675.4 L1177.0 674.2 L1177.6 673.4 L1178.1 672.5 L1178.6 671.5 L1179.1 670.4 L1179.5 669.2 L1180.0 668.0 L1180.4 666.7 L1180.8 665.3 L1181.1 664.3 L1181.3 663.3 L1181.6 662.3 L1181.8 661.2 L1182.1 660.0 L1182.3 658.8 L1182.5 657.6 L1182.7 656.4 L1183.0 655.2 L1183.2 653.9 L1183.4 652.6 L1183.6 651.3 L1183.8 650.0 L1184.0 648.8 L1184.2 647.5 L1184.4 646.2 L1184.6 644.9 L1184.8 643.7 L1185.0 642.6 L1185.2 641.4 L1185.3 640.2 L1185.5 639.0 L1185.7 637.7 L1185.9 636.5 L1186.1 635.3 L1186.2 634.0 L1186.4 632.8 L1186.6 631.5 L1186.8 630.3 L1186.9 629.0 L1187.1 627.8 L1187.3 626.6 L1187.5 625.4 L1187.6 624.1 L1187.8 623.0 L1188.0 621.8 L1188.2 620.6 L1188.4 619.5 L1188.6 618.2 L1188.8 617.0 L1189.1 615.7 L1189.3 614.4 L1189.5 613.2 L1189.7 612.0 L1189.9 610.8 L1190.1 609.6 L1190.4 608.4 L1190.6 607.2 L1190.8 606.0 L1191.1 604.9 L1191.3 603.7 L1191.6 602.6 L1191.9 601.5 L1192.2 600.4 L1192.6 599.1 L1192.9 597.9 L1193.3 596.6 L1193.6 595.3 L1194.0 594.1 L1194.4 592.9 L1194.8 591.7 L1195.3 590.6 L1195.7 589.5 L1196.2 588.4 L1196.7 587.4 L1197.3 586.5 L1198.1 585.3 L1198.9 584.2 L1199.8 583.2 L1200.7 582.3 L1201.6 581.4 L1202.6 580.7 L1203.7 580.1 L1204.8 579.6 L1206.0 579.3 L1207.3 579.0 L1208.6 578.8 L1210.0 578.8 L1211.3 578.8 L1212.6 578.8 L1213.8 578.9 L1215.0 579.1 L1216.3 579.4 L1217.5 579.7 L1218.8 580.1 L1220.0 580.5 L1221.3 580.9 L1222.7 581.4 L1223.8 581.8 L1224.9 582.2 L1226.0 582.6 L1227.1 583.0 L1228.2 583.4 L1229.4 583.9 L1230.5 584.4 L1231.7 584.9 L1232.9 585.4 L1234.2 586.0 L1235.4 586.5 L1236.7 587.1 L1238.0 587.7 L1239.0 588.1 L1240.0 588.6 L1241.0 589.1 L1242.1 589.6 L1243.1 590.1 L1244.2 590.6 L1245.3 591.1 L1246.4 591.7 L1247.5 592.2 L1248.7 592.8 L1249.8 593.3 L1250.9 593.9 L1252.1 594.5 L1253.2 595.0 L1254.4 595.6 L1255.5 596.2 L1256.7 596.8 L1257.8 597.4 L1258.9 598.0 L1260.1 598.6 L1261.2 599.2 L1262.3 599.8 L1263.4 600.4 L1264.5 601.0 L1265.5 601.6 L1266.6 602.2 L1267.7 602.8 L1268.8 603.4 L1269.9 604.0 L1271.0 604.6 L1272.0 605.2 L1273.1 605.9 L1274.2 606.5 L1275.3 607.1 L1276.4 607.8 L1277.4 608.4 L1278.5 609.0 L1279.6 609.7 L1280.6 610.3 L1281.7 611.0 L1282.7 611.7 L1283.8 612.3 L1284.8 613.0 L1285.8 613.7 L1286.8 614.3 L1287.8 615.0 L1288.8 615.7 L1289.8 616.4 L1290.9 617.2 L1291.9 618.0 L1293.0 618.7 L1294.0 619.5 L1295.0 620.3 L1296.0 621.1 L1297.0 621.9 L1298.0 622.7 L1299.0 623.5 L1300.0 624.3 L1301.0 625.2 L1301.9 626.0 L1302.9 626.8 L1303.8 627.6 L1304.7 628.4 L1305.7 629.1 L1306.6 629.9 L1307.5 630.7 L1308.3 631.5 L1309.2 632.2 L1310.2 633.1 L1311.2 634.0 L1312.2 635.0 L1313.2 636.0 L1314.2 637.0 L1315.2 637.9 L1316.1 638.9 L1317.1 639.8 L1318.0 640.7 L1318.8 641.6 L1319.7 642.3 L1320.4 643.0 L1321.2 643.6 L1321.9 644.1 L1322.5 644.5 L1324.2 644.8 L1325.5 645.2 L1326.1 646.1 L1326.5 647.5 L1326.9 649.0 L1327.5 650.5 L1328.0 651.4 L1328.6 652.2 L1329.2 653.2 L1329.8 654.1 L1330.5 655.0 L1331.3 656.0 L1332.1 657.0 L1332.9 658.1 L1333.7 659.1 L1334.6 660.2 L1335.3 661.0 L1336.0 661.9 L1336.7 662.7 L1337.4 663.6 L1338.2 664.5 L1339.0 665.4 L1339.8 666.3 L1340.6 667.2 L1341.5 668.2 L1342.3 669.1 L1343.2 670.1 L1344.1 671.1 L1344.9 672.0 L1345.8 673.0 L1346.6 674.0 L1347.5 675.0 L1348.3 676.0 L1349.1 677.0 L1349.9 678.0 L1350.6 679.0 L1351.4 679.9 L1352.1 680.9 L1352.9 681.9 L1353.6 682.9 L1354.4 683.9 L1355.1 684.9 L1355.9 685.9 L1356.6 686.9 L1357.4 688.0 L1358.1 689.0 L1358.8 690.0 L1359.5 691.1 L1360.3 692.1 L1361.0 693.2 L1361.7 694.2 L1362.4 695.3 L1363.1 696.3 L1363.8 697.4 L1364.4 698.4 L1365.1 699.5 L1365.8 700.6 L1366.4 701.6 L1367.1 702.7 L1367.7 703.8 L1368.3 704.8 L1368.9 705.9 L1369.6 707.0 L1370.2 708.1 L1370.8 709.2 L1371.4 710.3 L1372.0 711.3 L1372.6 712.4 L1373.2 713.5 L1373.8 714.6 L1374.3 715.7 L1374.9 716.8 L1375.5 718.0 L1376.1 719.1 L1376.7 720.2 L1377.2 721.3 L1377.8 722.4 L1378.4 723.5 L1378.9 724.6 L1379.4 725.6 L1380.0 726.7 L1380.5 727.8 L1381.0 728.9 L1381.6 730.0 L1382.1 731.1 L1382.6 732.2 L1383.1 733.4 L1383.7 734.5 L1384.2 735.6 L1384.7 736.7 L1385.2 737.8 L1385.7 738.9 L1386.2 740.0 L1386.7 741.1 L1387.2 742.2 L1387.8 743.3 L1388.3 744.3 L1388.8 745.4 L1389.3 746.5 L1389.8 747.6 L1390.4 748.8 L1390.9 750.0 L1391.5 751.1 L1392.1 752.3 L1392.6 753.5 L1393.2 754.7 L1393.7 755.9 L1394.3 757.0 L1394.8 758.2 L1395.4 759.3 L1395.9 760.5 L1396.4 761.6 L1397.0 762.7 L1397.5 763.7 L1398.0 764.8 L1398.5 765.8 L1399.0 766.7 L1399.5 767.6 L1400.0 768.5 L1400.8 769.9 L1401.5 771.2 L1402.2 772.4 L1402.8 773.6 L1403.5 774.7 L1404.2 775.7 L1405.0 776.6 L1405.8 777.5 L1406.7 778.4 L1407.7 779.2 L1408.7 779.9 L1409.7 780.5 L1410.9 781.0 L1412.2 781.5 L1413.2 781.8 L1414.2 782.0 L1415.3 782.2 L1416.4 782.3 L1417.6 782.4 L1418.9 782.4 L1420.1 782.4 L1421.5 782.5 L1422.8 782.5 L1424.3 782.5 L1425.7 782.5 L1427.2 782.5 L1428.7 782.6 L1429.7 782.6 L1430.7 782.7 L1431.7 782.7 L1432.8 782.8 L1433.9 782.8 L1435.0 782.9 L1436.1 782.9 L1437.3 782.9 L1438.4 783.0 L1439.6 783.0 L1440.8 783.0 L1442.1 783.1 L1443.3 783.1 L1444.5 783.1 L1445.8 783.2 L1447.1 783.2 L1448.3 783.2 L1449.6 783.3 L1450.9 783.3 L1452.2 783.3 L1453.5 783.3 L1454.9 783.4 L1456.2 783.4 L1457.5 783.4 L1458.8 783.5 L1460.2 783.5 L1461.5 783.5 L1462.8 783.5 L1464.2 783.6 L1465.5 783.6 L1466.8 783.6 L1467.9 783.6 L1469.1 783.6 L1470.3 783.7 L1471.4 783.7 L1472.6 783.7 L1473.9 783.7 L1475.1 783.7 L1476.3 783.8 L1477.6 783.8 L1478.9 783.8 L1480.1 783.8 L1481.4 783.8 L1482.7 783.8 L1484.0 783.9 L1485.3 783.9 L1486.6 783.9 L1487.9 783.9 L1489.2 783.9 L1490.5 783.9 L1491.8 784.0 L1493.1 784.0 L1494.4 784.0 L1495.7 784.0 L1496.9 784.0 L1498.2 784.0 L1499.5 784.0 L1500.7 784.0 L1502.0 784.0 L1503.2 784.1 L1504.5 784.1 L1505.7 784.1 L1506.9 784.1 L1508.0 784.1 L1509.2 784.1 L1510.3 784.1 L1511.5 784.1 L1512.6 784.1 L1513.6 784.1 L1514.7 784.1 L1515.7 784.1 L1516.7 784.1 L1517.7 784.1 L1519.2 784.1 L1520.6 784.1 L1522.0 784.1 L1523.4 784.1 L1524.7 784.1 L1526.0 784.1 L1527.3 784.0 L1528.6 784.0 L1529.8 784.0 L1531.0 784.0 L1532.2 784.0 L1533.4 784.0 L1534.5 783.9 L1535.7 783.9 L1536.8 783.9 L1537.9 783.9 L1538.9 783.8 L1540.0 783.8 L1541.4 783.8 L1542.7 783.7 L1544.0 783.7 L1545.2 783.7 L1546.5 783.7 L1547.6 783.6 L1548.8 783.5 L1550.0 783.5 L1551.1 783.3 L1552.3 783.2 L1553.7 783.0 L1555.0 782.8 L1556.3 782.6 L1557.6 782.3 L1558.9 782.0 L1560.2 781.6 L1561.4 781.2 L1562.6 780.7 L1563.7 780.1 L1564.8 779.5 L1565.9 778.8 L1566.9 778.0 L1567.9 777.3 L1568.9 776.4 L1569.8 775.5 L1570.8 774.6 L1571.7 773.7 L1572.5 772.8 L1573.4 771.8 L1574.2 770.9 L1575.0 769.8 L1575.8 768.8 L1576.6 767.7 L1577.4 766.6 L1578.2 765.4 L1579.0 764.3 L1579.7 763.3 L1580.3 762.3 L1580.9 761.2 L1581.6 760.1 L1582.2 759.0 L1582.8 757.9 L1583.4 756.8 L1584.0 755.6 L1584.6 754.5 L1585.2 753.3 L1585.9 752.2 L1586.5 751.0 L1587.2 749.9 L1587.8 748.9 L1588.4 747.9 L1589.0 746.9 L1589.7 745.9 L1590.3 744.8 L1591.0 743.8 L1591.6 742.8 L1592.3 741.8 L1592.9 740.7 L1593.6 739.7 L1594.2 738.7 L1594.9 737.6 L1595.5 736.6 L1596.2 735.6 L1596.9 734.5 L1597.5 733.5 L1598.1 732.5 L1598.8 731.5 L1599.4 730.4 L1600.1 729.4 L1600.7 728.4 L1601.4 727.4 L1602.0 726.4 L1602.7 725.4 L1603.3 724.4 L1604.0 723.3 L1604.6 722.3 L1605.3 721.3 L1605.9 720.3 L1606.5 719.2 L1607.2 718.2 L1607.8 717.1 L1608.4 716.0 L1609.0 715.0 L1609.7 713.9 L1610.3 712.9 L1610.9 711.8 L1611.5 710.7 L1612.1 709.6 L1612.7 708.5 L1613.3 707.4 L1614.0 706.3 L1614.6 705.2 L1615.1 704.1 L1615.7 703.0 L1616.3 701.9 L1616.9 700.8 L1617.4 699.7 L1618.0 698.6 L1618.6 697.5 L1619.1 696.3 L1619.7 695.2 L1620.2 694.0 L1620.7 692.9 L1621.3 691.7 L1621.8 690.6 L1622.3 689.4 L1622.8 688.3 L1623.3 687.1 L1623.8 686.0 L1624.3 684.8 L1624.8 683.6 L1625.3 682.5 L1625.8 681.3 L1626.3 680.1 L1626.8 679.0 L1627.2 677.9 L1627.7 676.8 L1628.2 675.6 L1628.7 674.5 L1629.1 673.4 L1629.6 672.2 L1630.1 671.1 L1630.6 670.0 L1631.0 668.8 L1631.5 667.7 L1631.9 666.5 L1632.4 665.4 L1632.8 664.2 L1633.3 663.1 L1633.7 661.9 L1634.1 660.8 L1634.5 659.6 L1634.9 658.4 L1635.3 657.2 L1635.7 656.0 L1636.1 654.7 L1636.4 653.5 L1636.8 652.3 L1637.2 651.0 L1637.5 649.8 L1637.9 648.6 L1638.2 647.3 L1638.5 646.1 L1638.9 644.9 L1639.2 643.7 L1639.6 642.5 L1639.9 641.3 L1640.3 640.1 L1640.6 639.0 L1641.0 637.8 L1641.3 636.5 L1641.7 635.3 L1642.1 634.1 L1642.4 632.9 L1642.8 631.7 L1643.2 630.5 L1643.5 629.3 L1643.9 628.1 L1644.3 627.0 L1644.6 625.9 L1645.0 624.8 L1645.4 623.7 L1645.8 622.6 L1646.3 621.3 L1646.7 620.1 L1647.2 618.8 L1647.7 617.5 L1648.1 616.3 L1648.6 615.1 L1649.2 614.0 L1649.7 613.0 L1650.3 612.1 L1650.9 611.3 L1652.1 610.1 L1653.4 609.1 L1654.7 608.4 L1656.0 608.2 L1657.1 608.5 L1658.2 609.2 L1659.2 610.1 L1660.1 611.3 L1660.6 612.1 L1661.1 613.1 L1661.5 614.1 L1661.9 615.3 L1662.3 616.5 L1662.7 617.8 L1663.0 619.2 L1663.3 620.5 L1663.7 621.9 L1664.0 623.3 L1664.3 624.6 L1664.6 625.7 L1664.8 626.9 L1665.0 628.0 L1665.3 629.2 L1665.5 630.4 L1665.7 631.6 L1665.8 632.9 L1666.0 634.1 L1666.2 635.3 L1666.4 636.6 L1666.6 637.9 L1666.8 639.2 L1666.9 640.5 L1667.1 641.8 L1667.3 643.1 L1667.5 644.3 L1667.6 645.4 L1667.8 646.6 L1667.9 647.8 L1668.1 649.0 L1668.3 650.3 L1668.4 651.5 L1668.6 652.8 L1668.7 654.0 L1668.9 655.3 L1669.0 656.6 L1669.2 657.8 L1669.3 659.1 L1669.5 660.4 L1669.6 661.6 L1669.8 662.9 L1669.9 664.1 L1670.1 665.4 L1670.2 666.6 L1670.4 667.8 L1670.6 669.0 L1670.7 670.2 L1670.9 671.5 L1671.0 672.7 L1671.2 674.0 L1671.3 675.2 L1671.5 676.4 L1671.6 677.7 L1671.8 678.9 L1671.9 680.1 L1672.1 681.3 L1672.2 682.5 L1672.4 683.7 L1672.6 684.9 L1672.7 686.0 L1672.9 687.1 L1673.1 688.3 L1673.3 689.3 L1673.5 690.4 L1673.8 691.7 L1674.0 693.1 L1674.3 694.4 L1674.5 695.7 L1674.8 696.9 L1675.1 698.2 L1675.4 699.4 L1675.7 700.6 L1676.0 701.7 L1676.4 702.7 L1676.8 703.8 L1677.2 704.7 L1677.8 706.0 L1678.5 707.2 L1679.2 708.3 L1680.0 709.3 L1680.8 710.2 L1681.7 710.9 L1682.8 711.5 L1684.0 712.0 L1685.3 712.3 L1686.6 712.4 L1687.9 712.5 L1689.1 712.4 L1690.4 712.2 L1691.7 711.9 L1692.9 711.5 L1694.0 710.9 L1695.0 710.3 L1695.9 709.6 L1696.8 708.7 L1697.7 707.8 L1698.5 706.8 L1699.2 705.8 L1699.7 704.8 L1700.2 703.8 L1700.6 702.7 L1701.0 701.6 L1701.3 700.4 L1701.6 699.1 L1702.0 697.8 L1702.3 696.5 L1702.6 695.4 L1702.8 694.2 L1703.1 693.0 L1703.3 691.8 L1703.5 690.5 L1703.8 689.3 L1704.0 687.9 L1704.2 686.6 L1704.4 685.3 L1704.6 684.0 L1704.8 682.7 L1705.1 681.4 L1705.3 680.1 L1705.5 678.8 L1705.8 677.5 L1706.0 676.2 L1706.2 674.9 L1706.4 673.5 L1706.6 672.2 L1706.9 670.9 L1707.1 669.6 L1707.3 668.3 L1707.6 667.1 L1707.8 665.9 L1708.1 664.8 L1708.4 663.7 L1708.8 662.3 L1709.2 661.1 L1709.5 659.8 L1710.0 658.7 L1710.4 657.6 L1710.9 656.5 L1711.5 655.5 L1712.2 654.5 L1713.0 653.5 L1713.8 652.6 L1714.7 651.8 L1715.6 651.0 L1716.6 650.3 L1717.7 649.6 L1718.9 649.0 L1720.2 648.5 L1721.5 648.0 L1722.8 647.6 L1724.0 647.3 L1725.3 647.0 L1726.6 646.7 L1728.0 646.5 L1729.4 646.3 L1731.0 646.2 L1732.0 646.1 L1733.2 646.0 L1734.4 646.0 L1735.7 645.9 L1737.0 645.8 L1738.4 645.8 L1739.7 645.7 L1741.1 645.7 L1742.5 645.7 L1743.8 645.7 L1745.1 645.7 L1746.3 645.8 L1747.5 645.9 L1748.5 646.0 L1749.5 646.2 L1751.0 646.6 L1752.3 647.0 L1753.4 647.6 L1754.6 648.2 L1755.7 648.9 L1756.8 649.6 L1757.8 650.3 L1758.8 651.2 L1759.8 652.0 L1760.8 652.9 L1761.8 653.8 L1762.7 654.6 L1763.6 655.5 L1764.5 656.4 L1765.4 657.3 L1766.3 658.2 L1767.2 659.1 L1768.0 660.0 L1768.9 661.0 L1769.8 662.1 L1770.6 663.2 L1771.5 664.2 L1772.3 664.9 L1773.1 665.3 L1774.6 664.6 L1776.2 663.7 L1777.3 663.6 L1778.5 663.7 L1779.8 663.9 L1781.1 664.2 L1782.3 664.7 L1783.4 665.3 L1784.5 666.0 L1785.5 666.8 L1786.5 667.7 L1787.5 668.7 L1788.5 669.8 L1789.2 670.6 L1789.9 671.5 L1790.5 672.5 L1791.2 673.5 L1791.8 674.6 L1792.5 675.7 L1793.1 676.8 L1793.6 677.9 L1794.2 679.0 L1794.7 680.1 L1795.2 681.3 L1795.7 682.4 L1796.1 683.6 L1796.6 684.8 L1797.0 686.0 L1797.4 687.3 L1797.7 688.5 L1798.1 689.8 L1798.5 691.1 L1798.8 692.4 L1799.1 693.6 L1799.4 694.8 L1799.6 696.0 L1799.9 697.3 L1800.1 698.6 L1800.3 699.8 L1800.6 701.1 L1800.8 702.4 L1801.0 703.7 L1801.2 705.0 L1801.4 706.3 L1801.7 707.6 L1801.9 708.9 L1802.1 710.2 L1802.4 711.5 L1802.6 712.8 L1802.8 714.1 L1803.0 715.4 L1803.2 716.7 L1803.5 717.9 L1803.7 719.2 L1803.9 720.5 L1804.2 721.7 L1804.4 723.0 L1804.6 724.1 L1804.9 725.3 L1805.2 726.7 L1805.5 728.0 L1805.8 729.4 L1806.1 730.7 L1806.4 732.0 L1806.8 733.2 L1807.1 734.4 L1807.6 735.5 L1808.0 736.6 L1808.6 737.8 L1809.2 739.0 L1809.9 740.1 L1810.6 741.2 L1811.4 742.0 L1812.1 742.7 L1813.6 743.6 L1815.2 743.8 L1816.2 743.2 L1817.2 742.2 L1818.2 740.9 L1819.3 739.7 L1820.1 738.8 L1821.0 737.9 L1821.9 736.9 L1822.8 736.0 L1823.7 735.2 L1824.5 734.5 L1825.7 733.7 L1826.8 733.2 L1827.9 733.1 L1828.9 733.5 L1829.8 734.3 L1830.7 735.4 L1831.6 736.6 L1832.2 737.5 L1832.8 738.5 L1833.4 739.7 L1833.9 740.9 L1834.5 742.2 L1835.1 743.5 L1835.6 744.7 L1836.2 745.8 L1836.8 746.8 L1837.6 748.1 L1838.4 749.4 L1839.2 750.5 L1840.1 751.4 L1840.9 752.0 L1842.3 752.1 L1843.6 751.6 L1844.3 750.9 L1845.0 749.8 L1845.6 748.5 L1846.3 747.1 L1847.0 745.8 L1847.6 744.8 L1848.2 743.7 L1848.8 742.6 L1849.5 741.5 L1850.1 740.4 L1850.8 739.4 L1851.5 738.4 L1852.2 737.6 L1853.3 736.5 L1854.4 735.5 L1855.6 734.8 L1856.7 734.5 L1857.9 734.8 L1859.1 735.6 L1860.4 736.6 L1861.2 737.3 L1862.1 738.0 L1863.0 738.9 L1863.9 739.8 L1864.9 740.7 L1865.7 741.7 L1866.6 742.7 L1867.3 743.6 L1868.0 744.6 L1868.7 745.6 L1869.4 746.7 L1870.0 747.7 L1870.7 748.8 L1871.4 749.9 L1872.0 751.0 L1872.7 752.0 L1873.4 753.0 L1874.1 754.0 L1874.7 755.0 L1875.4 756.0 L1876.1 757.0 L1876.8 758.0 L1877.5 759.1 L1878.2 760.1 L1878.9 761.2 L1879.5 762.2 L1880.2 763.2 L1880.8 764.3 L1881.5 765.3 L1882.2 766.4 L1882.8 767.5 L1883.5 768.6 L1884.2 769.7 L1884.9 770.7 L1885.6 771.7 L1886.4 772.6 L1887.1 773.5 L1888.1 774.5 L1889.0 775.5 L1890.0 776.5 L1891.0 777.4 L1892.0 778.2 L1893.1 779.0 L1894.2 779.7 L1895.3 780.3 L1896.4 780.8 L1897.6 781.2 L1898.8 781.5 L1900.0 781.8 L1901.2 782.0 L1902.4 782.2 L1903.6 782.3 L1904.8 782.4 L1906.1 782.5 L1907.4 782.5 L1908.7 782.5 L1910.0 782.4 L1911.3 782.3 L1912.5 782.2 L1913.8 782.0 L1915.0 781.8 L1916.2 781.6 L1917.4 781.3 L1918.6 781.1 L1919.7 780.7 L1920.9 780.2 L1922.0 779.7 L1923.0 779.1 L1923.9 778.4 L1924.9 777.6 L1925.8 776.8 L1926.7 775.9 L1927.6 775.1 L1928.5 774.2 L1929.4 773.3 L1930.2 772.5 L1931.1 771.6 L1932.1 770.7 L1933.0 769.7 L1933.9 768.8 L1934.7 768.0 L1935.6 767.1 L1936.4 766.4 L1937.5 765.5 L1938.5 764.7 L1939.6 764.0" stroke="#000080" stroke-linecap="round"/>
<path d="M181.2 252.0 L181.4 252.0 L182.1 252.0 L183.1 251.9 L184.4 251.8 L185.9 252.3 L187.5 252.5 L189.1 252.6 L190.6 252.8 L192.0 253.1 L193.1 253.0 L194.3 253.0 L195.5 253.5 L196.7 253.7 L198.0 254.0 L199.2 254.4 L200.5 254.8 L201.7 255.1 L203.0 254.9 L204.2 255.0 L205.5 255.5 L206.7 255.8 L207.9 255.6 L209.2 255.6 L210.5 255.7 L211.8 255.7 L213.0 255.9 L214.3 256.4 L215.6 256.5 L216.8 256.6 L218.0 256.5 L219.2 256.7 L220.3 257.3 L221.3 257.5 L222.7 257.7 L224.0 258.1 L225.3 258.6 L226.5 259.1 L227.6 259.0 L228.7 259.3 L230.2 259.0 L231.6 258.7 L233.1 258.3 L234.3 258.3 L235.5 258.3 L236.9 258.4 L238.2 258.3 L239.4 258.5 L240.4 259.0 L241.9 259.8 L243.3 260.7 L244.6 261.0 L246.0 260.5 L247.6 260.1 L249.2 259.9 L250.4 260.3 L251.6 260.3 L252.9 260.8 L254.2 261.4 L255.5 261.5 L256.8 261.8 L258.0 262.2 L259.3 262.4 L260.5 262.4 L261.8 262.2 L263.0 262.3 L264.2 262.5 L265.3 262.9 L266.6 263.3 L267.8 263.9 L269.0 264.7 L270.1 265.4 L271.2 265.5 L272.5 265.3 L273.7 264.8 L274.9 264.6 L276.1 263.7 L277.4 263.4 L278.6 263.2 L279.6 263.3 L280.7 263.9 L281.8 264.5 L283.0 264.8 L284.1 265.5 L285.3 265.9 L286.5 266.4 L287.8 266.8 L289.1 267.3 L290.3 267.6 L291.5 267.2 L292.7 267.3 L293.9 267.1 L295.2 267.0 L296.4 267.1 L297.6 267.1 L298.9 267.3 L300.1 268.0 L301.4 268.4 L302.6 268.9 L303.8 269.3 L305.0 269.7 L306.5 269.7 L307.9 269.5 L309.4 269.1 L310.8 268.8 L312.0 269.2 L313.1 269.6 L314.3 270.1 L315.5 270.7 L316.7 270.8 L317.9 271.2 L319.1 271.7 L320.4 272.7 L321.7 273.0 L322.9 273.3 L324.0 273.8 L325.5 273.5 L326.9 272.5 L328.4 272.3 L329.5 272.7 L330.7 273.1 L331.9 273.4 L333.1 274.2 L334.3 274.5 L335.8 274.7 L337.3 274.9 L338.7 274.9 L340.2 275.0 L341.4 275.0 L342.5 275.3 L343.6 275.8 L344.8 276.0 L346.0 276.9 L347.2 277.1 L348.4 277.4 L349.7 277.7 L351.0 278.0 L352.2 278.6 L353.4 278.8 L354.9 278.7 L356.4 278.4 L357.8 277.9 L359.2 278.0 L360.3 278.9 L361.4 279.8 L362.4 280.8 L363.6 281.3 L364.7 281.6 L365.9 282.0 L367.1 282.7 L368.4 283.2 L369.7 283.7 L371.0 284.0 L372.2 284.2 L373.5 283.9 L374.8 283.9 L376.1 283.4 L377.4 283.5 L378.6 283.4 L379.8 283.2 L380.9 283.6 L381.9 284.3 L383.0 284.9 L384.0 285.8 L385.0 286.5 L386.0 287.1 L387.1 287.9 L388.3 288.1 L389.5 288.5 L390.8 288.9 L392.1 289.0 L393.4 289.1 L394.7 289.6 L395.9 289.8 L397.2 290.4 L398.4 290.6 L399.6 291.2 L400.8 292.0 L402.0 292.2 L403.2 293.0 L404.4 292.9 L405.7 293.2 L406.9 293.1 L408.1 293.5 L409.4 293.6 L410.6 293.9 L411.9 294.2 L413.1 294.6 L414.4 295.1 L415.6 295.4 L416.8 295.8 L417.9 296.7 L419.0 297.2 L419.9 298.5 L420.9 299.2 L421.8 300.0 L422.8 300.7 L423.8 301.6 L425.2 302.3 L426.7 302.2 L428.2 302.3 L429.6 302.4 L430.7 303.5 L431.8 304.5 L432.8 305.3 L434.0 305.8 L435.1 306.3 L436.4 306.1 L437.7 306.4 L439.1 306.3 L440.3 306.3 L441.4 306.8 L442.4 307.5 L443.3 308.6 L444.0 309.6 L444.8 311.1 L445.8 312.0 L446.7 312.9 L447.7 313.2 L448.8 314.0 L449.9 314.8 L451.0 315.2 L452.1 315.5 L453.1 316.2 L454.0 317.1 L455.0 317.7 L455.9 318.6 L456.8 319.3 L457.7 320.2 L458.6 321.3 L459.5 322.1 L460.4 323.1 L461.3 323.7 L462.2 324.8 L463.1 325.4 L464.1 326.5 L465.0 327.7 L465.9 328.7 L466.8 329.6 L467.8 330.5 L468.4 331.2 L469.1 332.2 L469.8 333.1 L470.5 334.3 L471.2 334.9 L471.9 336.0 L472.6 337.3 L473.3 338.4 L474.0 339.4 L474.7 340.3 L475.4 341.3 L476.1 342.4 L476.8 343.9 L477.5 345.3 L478.2 346.1 L478.9 347.5 L479.6 348.3 L480.2 349.5 L480.8 350.8 L481.4 351.7 L482.0 353.0 L482.6 354.0 L483.2 354.7 L483.7 355.7 L484.3 356.8 L484.9 357.8 L485.4 359.1 L486.0 360.0 L486.5 361.3 L487.1 362.2 L487.6 363.0 L488.2 364.3 L488.7 365.1 L489.3 366.3 L489.8 367.6 L490.4 368.7 L491.0 369.7 L491.6 370.5 L492.1 371.7 L492.7 372.6 L493.3 373.9 L493.9 374.9 L494.5 376.1 L495.0 377.2 L495.6 378.2 L496.2 379.5 L496.8 380.3 L497.4 381.2 L498.0 382.6 L498.6 383.5 L499.2 384.7 L499.9 385.8 L500.5 386.6 L501.3 387.4 L502.1 388.2 L502.9 389.6 L503.8 390.3 L504.6 391.4 L505.5 392.4 L506.3 393.1 L507.2 394.1 L508.1 394.9 L508.9 395.9 L509.8 396.8 L510.7 397.7 L511.6 398.4 L512.5 399.3 L513.4 400.1 L514.3 400.8 L515.3 401.7 L516.2 402.9 L517.1 403.7 L518.1 404.7 L519.0 405.1 L519.9 406.2 L520.9 406.8 L522.0 407.8 L523.2 408.5 L524.3 409.4 L525.5 409.9 L526.7 410.8 L527.8 411.3 L528.9 411.8 L530.0 412.2 L531.0 412.8 L532.3 413.5 L533.4 413.9 L534.6 414.6 L536.1 414.6 L536.9 414.9 L537.8 414.9 L538.7 415.1 L539.7 415.5 L540.8 415.6 L542.0 415.4 L543.2 415.4 L544.4 415.7 L545.7 416.1 L547.0 415.8 L548.3 416.0 L549.7 416.2 L551.1 416.4 L552.4 416.3 L553.8 416.5 L555.2 416.5 L556.5 416.8 L557.8 416.5 L559.1 416.9 L560.4 416.9 L561.6 416.9 L562.9 416.8 L564.1 416.8 L565.4 417.2 L566.7 417.5 L567.9 417.4 L569.2 417.5 L570.4 417.4 L571.6 417.5 L572.9 417.6 L574.1 417.8 L575.4 418.4 L576.6 418.8 L577.9 419.0 L579.1 418.9 L580.4 419.0 L581.6 419.3 L582.9 419.6 L584.1 419.7 L585.4 419.8 L586.6 419.7 L587.8 419.9 L589.0 420.2 L590.2 420.5 L591.4 420.3 L592.6 420.6 L593.8 420.6 L595.0 420.6 L596.2 421.2 L597.4 421.4 L598.6 421.6 L599.8 421.5 L601.0 421.9 L602.2 422.3 L603.5 422.6 L604.7 422.7 L605.9 423.0 L607.2 423.2 L608.4 423.2 L609.6 423.3 L610.9 423.6 L612.1 423.8 L613.3 424.1 L614.5 424.0 L615.8 424.4 L617.0 424.5 L618.2 424.9 L619.5 424.7 L620.8 425.2 L622.0 425.4 L623.3 425.3 L624.6 425.7 L625.8 425.7 L627.1 425.7 L628.3 426.0 L629.6 426.1 L630.9 426.4 L632.1 426.9 L633.3 427.2 L634.5 427.5 L635.7 427.5 L636.9 427.9 L638.1 428.2 L639.3 428.4 L640.4 428.7 L641.7 429.0 L642.9 429.0 L644.1 428.9 L645.3 429.3 L646.5 429.8 L647.7 429.9 L648.9 430.2 L650.0 430.6 L651.2 431.0 L652.3 430.8 L653.4 431.1 L654.6 431.1 L655.7 431.3 L656.9 431.9 L658.1 432.1 L659.3 432.5 L660.5 432.7 L661.7 432.9 L662.9 433.0 L664.0 433.2 L665.2 433.8 L666.4 434.1 L667.6 434.2 L668.8 434.2 L670.0 434.4 L671.2 434.9 L672.4 435.1 L673.6 435.5 L674.9 435.9 L676.1 435.8 L677.3 436.2 L678.5 436.1 L679.8 436.6 L681.0 436.6 L682.2 436.8 L683.4 437.4 L684.7 437.4 L685.9 437.4 L687.1 437.9 L688.3 438.1 L689.5 438.5 L690.7 438.5 L691.9 438.6 L693.2 439.0 L694.4 439.0 L695.6 439.4 L696.8 439.2 L698.0 439.5 L699.2 439.3 L700.4 439.5 L701.7 439.4 L702.9 439.4 L704.1 440.0 L705.3 440.0 L706.5 440.3 L707.7 440.2 L709.0 440.2 L710.2 440.1 L711.4 440.4 L712.6 440.7 L713.8 440.8 L715.0 440.7 L716.2 441.0 L717.4 441.2 L718.6 441.2 L719.9 440.9 L721.1 441.0 L722.3 441.0 L723.5 441.3 L724.7 441.1 L725.9 441.2 L727.1 441.2 L728.3 441.1 L729.5 441.1 L730.7 441.2 L732.0 441.4 L733.2 441.2 L734.4 441.0 L735.6 441.3 L736.8 440.9 L738.0 441.1 L739.2 441.0 L740.4 440.9 L741.6 440.8 L742.8 440.8 L744.1 440.9 L745.3 440.8 L746.5 440.8 L747.7 440.2 L748.9 440.1 L750.1 439.8 L751.3 440.1 L752.5 440.2 L753.7 439.7 L754.9 439.6 L756.2 439.5 L757.4 439.1 L758.6 439.0 L759.8 439.1 L761.0 439.0 L762.2 438.7 L763.4 438.7 L764.6 438.4 L765.8 438.3 L767.0 438.0 L768.2 438.2 L769.5 438.0 L770.7 437.9 L771.9 437.7 L773.1 437.3 L774.3 437.3 L775.5 437.1 L776.7 436.9 L777.9 436.4 L779.1 435.9 L780.3 435.8 L781.6 435.8 L782.8 435.7 L784.0 435.3 L785.2 434.8 L786.4 434.6 L787.6 434.6 L788.8 434.1 L790.0 434.0 L791.2 433.5 L792.5 433.2 L793.7 432.7 L794.9 432.5 L796.1 432.3 L797.3 432.4 L798.5 432.3 L799.7 431.7 L801.0 431.2 L802.2 431.2 L803.4 430.6 L804.6 430.2 L805.8 430.0 L807.0 429.5 L808.2 429.1 L809.4 428.9 L810.7 428.6 L811.9 428.7 L813.1 428.2 L814.3 427.7 L815.5 427.7 L816.7 427.3 L817.9 427.2 L819.1 426.9 L820.3 426.7 L821.6 426.1 L822.8 425.6 L824.0 425.5 L825.2 425.1 L826.4 424.8 L827.6 424.6 L828.8 424.4 L830.0 423.9 L831.2 423.5 L832.4 423.4 L833.6 423.1 L834.9 422.6 L836.1 422.4 L837.3 421.9 L838.5 421.9 L839.7 421.3 L840.9 421.3 L842.1 421.0 L843.3 420.7 L844.5 420.7 L845.7 420.2 L846.9 419.8 L848.2 419.3 L849.4 419.2 L850.6 419.2 L851.8 419.0 L853.0 418.7 L854.2 418.6 L855.4 418.1 L856.6 417.8 L857.8 417.7 L859.0 417.8 L860.3 417.5 L861.5 417.3 L862.7 417.2 L863.9 416.7 L865.1 416.7 L866.3 416.5 L867.5 416.1 L868.7 415.8 L869.9 415.8 L871.1 415.4 L872.3 415.0 L873.6 415.1 L874.8 414.9 L876.0 414.7 L877.2 414.6 L878.4 414.6 L879.6 414.1 L880.8 413.8 L882.0 413.5 L883.2 413.4 L884.4 413.3 L885.7 413.4 L886.9 413.3 L888.1 413.1 L889.3 412.8 L890.5 412.7 L891.7 412.3 L893.0 412.4 L894.2 412.4 L895.5 412.3 L896.8 411.8 L898.0 411.7 L899.3 411.6 L900.6 411.4 L901.9 411.4 L903.2 411.4 L904.4 411.2 L905.7 411.0 L906.9 410.8 L908.1 410.7 L909.4 410.2 L910.5 410.1 L911.7 410.1 L912.8 409.9 L913.9 409.6 L915.0 409.2 L916.0 409.2 L917.4 409.3 L918.8 408.9 L920.0 408.6 L921.2 408.4 L922.4 408.1 L923.5 408.2 L924.7 408.4 L926.0 408.3 L927.3 407.9 L928.7 407.8 L929.7 407.3 L930.8 407.4 L931.9 407.0 L933.0 406.5 L934.2 406.5 L935.3 406.1 L936.5 405.9 L937.8 405.5 L939.0 405.4 L940.2 405.3 L941.5 405.3 L942.8 404.8 L944.1 404.8 L945.3 404.3 L946.6 403.9 L947.9 403.8 L949.1 403.5 L950.4 403.2 L951.7 403.0 L952.9 402.6 L954.1 402.5 L955.3 402.1 L956.5 402.0 L957.7 401.9 L959.0 401.5 L960.2 400.8 L961.4 400.7 L962.6 400.1 L963.8 399.9 L965.0 399.6 L966.2 399.0 L967.4 398.9 L968.6 398.8 L969.8 398.4 L971.0 398.0 L972.3 397.7 L973.5 397.4 L974.7 396.8 L975.9 396.8 L977.1 396.7 L978.3 396.4 L979.5 396.1 L980.7 395.5 L981.8 395.4 L983.0 394.6 L984.1 394.2 L985.3 393.7 L986.4 393.4 L987.5 393.2 L988.7 393.0 L989.8 392.6 L991.0 392.1 L992.1 391.6 L993.3 391.3 L994.4 390.9 L995.6 390.5 L996.7 390.4 L997.9 390.1 L999.0 389.7 L1000.2 389.2 L1001.4 389.0 L1002.6 388.5 L1003.8 388.1 L1005.0 387.9 L1006.2 387.7 L1007.4 387.6 L1008.8 387.3 L1010.1 387.0 L1011.6 386.7 L1013.1 386.2 L1014.6 385.7 L1016.2 384.9 L1017.7 384.3 L1019.3 383.6 L1020.9 383.6 L1022.4 383.3 L1023.9 382.9 L1025.3 382.3 L1026.7 381.9 L1028.1 381.3 L1029.3 381.2 L1030.5 381.2 L1031.6 380.7 L1032.6 380.1 L1033.4 379.8 L1034.1 379.7 L1034.7 379.9 L1035.1 379.9 L1035.4 379.7 L1035.5 379.4" stroke="#008000" stroke-linecap="round"/>
<path d="M1067.1 376.7 L1067.3 376.7 L1067.7 376.8 L1068.4 376.9 L1069.4 377.1 L1070.5 377.2 L1071.8 377.5 L1073.2 377.7 L1074.8 378.0 L1076.4 378.2 L1078.0 378.5 L1079.6 378.8 L1081.2 379.1 L1082.7 379.4 L1084.1 379.7 L1085.4 380.0 L1086.6 380.3 L1087.8 380.6 L1089.0 380.9 L1090.2 381.2 L1091.4 381.5 L1092.6 381.8 L1093.8 382.1 L1095.0 382.4 L1096.2 382.8 L1097.4 383.1 L1098.6 383.5 L1099.8 383.9 L1100.9 384.3 L1102.1 384.7 L1103.2 385.1 L1104.4 385.6 L1105.5 386.0 L1106.6 386.5 L1107.8 387.0 L1108.9 387.6 L1110.0 388.1 L1111.1 388.7 L1112.2 389.2 L1113.2 389.8 L1114.3 390.4 L1115.4 390.9 L1116.4 391.5 L1117.5 392.1 L1118.5 392.7 L1119.6 393.3 L1120.7 394.0 L1121.8 394.6 L1122.9 395.3 L1123.9 395.9 L1125.0 396.6 L1126.0 397.3 L1127.1 397.9 L1128.1 398.7 L1129.1 399.4 L1130.2 400.1 L1131.2 400.9 L1132.1 401.6 L1133.1 402.4 L1134.0 403.1 L1134.9 403.9 L1135.8 404.7 L1136.7 405.5 L1137.6 406.3 L1138.5 407.1 L1139.4 408.0 L1140.3 408.8 L1141.2 409.7 L1142.1 410.5 L1143.0 411.4 L1143.9 412.3 L1144.8 413.2 L1145.6 414.1 L1146.5 415.0 L1147.4 415.9 L1148.2 416.8 L1149.1 417.8 L1150.0 418.7 L1150.8 419.7 L1151.7 420.7 L1152.5 421.6 L1153.3 422.6 L1154.2 423.5 L1155.0 424.5 L1155.8 425.4 L1156.6 426.3 L1157.4 427.3 L1158.3 428.3 L1159.1 429.3 L1159.9 430.4 L1160.7 431.4 L1161.5 432.5 L1162.3 433.5 L1163.1 434.5 L1163.9 435.4 L1164.6 436.3 L1165.4 437.1 L1166.1 437.9 L1166.8 438.5 L1168.1 439.6 L1169.4 440.6 L1170.6 441.2 L1171.9 441.5 L1173.2 441.3 L1174.5 440.8 L1175.8 440.0 L1177.0 439.0 L1177.8 438.2 L1178.6 437.3 L1179.3 436.2 L1180.0 435.1 L1180.7 433.9 L1181.3 432.7 L1182.0 431.4 L1182.5 430.4 L1183.0 429.3 L1183.5 428.1 L1183.9 426.9 L1184.3 425.7 L1184.8 424.4 L1185.2 423.2 L1185.7 422.0 L1186.1 420.8 L1186.6 419.7 L1187.1 418.6 L1187.7 417.4 L1188.3 416.2 L1188.9 415.0 L1189.5 413.9 L1190.1 412.8 L1190.8 411.8 L1191.5 410.8 L1192.2 409.8 L1193.0 408.8 L1193.9 407.8 L1194.7 406.9 L1195.7 406.0 L1196.6 405.2 L1197.6 404.5 L1198.6 403.9 L1199.8 403.4 L1201.0 402.9 L1202.2 402.6 L1203.5 402.4 L1204.8 402.2 L1206.2 402.1 L1207.3 402.0 L1208.5 402.0 L1209.7 402.0 L1210.9 402.1 L1212.2 402.2 L1213.5 402.3 L1214.8 402.5 L1216.2 402.7 L1217.6 402.9 L1218.6 403.1 L1219.7 403.3 L1220.8 403.6 L1222.0 403.8 L1223.1 404.1 L1224.3 404.4 L1225.5 404.8 L1226.7 405.1 L1227.9 405.5 L1229.2 405.8 L1230.4 406.2 L1231.7 406.6 L1232.9 407.0 L1234.2 407.4 L1235.5 407.7 L1236.7 408.1 L1238.0 408.5 L1239.1 408.8 L1240.2 409.2 L1241.3 409.5 L1242.5 409.8 L1243.6 410.2 L1244.7 410.5 L1245.9 410.9 L1247.0 411.3 L1248.2 411.6 L1249.4 412.0 L1250.5 412.4 L1251.7 412.7 L1252.9 413.1 L1254.1 413.5 L1255.2 413.9 L1256.4 414.3 L1257.6 414.7 L1258.8 415.0 L1259.9 415.4 L1261.1 415.8 L1262.2 416.2 L1263.4 416.6 L1264.6 417.0 L1265.7 417.4 L1266.9 417.8 L1268.0 418.2 L1269.2 418.6 L1270.3 419.0 L1271.5 419.4 L1272.7 419.8 L1273.8 420.2 L1275.0 420.6 L1276.1 421.1 L1277.3 421.5 L1278.4 421.9 L1279.6 422.3 L1280.7 422.7 L1281.9 423.2 L1283.0 423.6 L1284.2 424.0 L1285.3 424.5 L1286.5 424.9 L1287.6 425.4 L1288.8 425.8 L1289.9 426.2 L1291.1 426.7 L1292.2 427.1 L1293.4 427.6 L1294.5 428.0 L1295.7 428.5 L1296.9 429.0 L1298.0 429.4 L1299.2 429.9 L1300.4 430.4 L1301.6 430.8 L1302.7 431.3 L1303.9 431.8 L1305.0 432.2 L1306.1 432.7 L1307.2 433.2 L1308.3 433.7 L1309.4 434.1 L1310.4 434.6 L1311.4 435.0 L1312.4 435.5 L1313.4 436.0 L1314.3 436.4 L1315.5 437.0 L1316.7 437.6 L1317.8 438.2 L1318.9 438.8 L1320.0 439.4 L1321.0 440.0 L1322.0 440.6 L1323.0 441.2 L1324.0 441.8 L1325.0 442.4 L1326.0 443.0 L1327.0 443.6 L1328.1 444.2 L1329.1 444.9 L1330.1 445.5 L1331.1 446.1 L1332.1 446.8 L1333.1 447.4 L1334.1 448.1 L1335.1 448.8 L1336.2 449.5 L1337.3 450.2 L1338.5 450.9 L1339.7 451.7 L1340.6 452.3 L1341.5 452.8 L1342.5 453.4 L1343.5 454.0 L1344.5 454.7 L1345.5 455.3 L1346.6 455.9 L1347.6 456.6 L1348.7 457.2 L1349.8 457.9 L1350.9 458.6 L1352.1 459.3 L1353.2 460.0 L1354.3 460.6 L1355.4 461.3 L1356.6 462.0 L1357.7 462.7 L1358.8 463.4 L1359.9 464.1 L1361.0 464.8 L1362.0 465.5 L1363.1 466.2 L1364.1 466.8 L1365.1 467.5 L1366.2 468.2 L1367.3 469.0 L1368.4 469.7 L1369.4 470.4 L1370.5 471.2 L1371.6 471.9 L1372.7 472.7 L1373.7 473.4 L1374.8 474.1 L1375.8 474.9 L1376.8 475.6 L1377.9 476.4 L1378.9 477.1 L1379.9 477.8 L1380.9 478.6 L1381.8 479.3 L1382.8 480.0 L1383.7 480.8 L1384.6 481.5 L1385.5 482.2 L1386.5 483.0 L1387.5 483.9 L1388.5 484.8 L1389.5 485.6 L1390.4 486.5 L1391.4 487.4 L1392.3 488.2 L1393.2 489.1 L1394.0 489.9 L1394.9 490.7 L1395.7 491.5 L1396.6 492.3 L1397.4 493.0 L1398.2 493.7 L1399.2 494.6 L1400.2 495.5 L1401.1 496.3 L1402.1 497.2 L1403.0 497.9 L1403.9 498.7 L1404.8 499.4 L1405.8 500.0 L1407.0 500.7 L1408.2 501.3 L1409.4 501.9 L1410.7 502.4 L1412.0 502.9 L1413.4 503.3 L1414.5 503.6 L1415.6 503.8 L1416.8 503.9 L1418.0 504.1 L1419.2 504.2 L1420.5 504.3 L1421.8 504.4 L1423.2 504.4 L1424.6 504.5 L1426.1 504.6 L1427.1 504.7 L1428.1 504.7 L1429.2 504.7 L1430.3 504.8 L1431.4 504.8 L1432.5 504.8 L1433.7 504.9 L1434.9 504.9 L1436.1 504.9 L1437.3 504.9 L1438.5 504.9 L1439.8 504.9 L1441.0 505.0 L1442.3 505.0 L1443.6 505.0 L1444.9 505.0 L1446.2 505.0 L1447.5 505.0 L1448.8 505.0 L1450.2 505.0 L1451.5 505.1 L1452.8 505.1 L1454.1 505.1 L1455.2 505.1 L1456.4 505.2 L1457.6 505.2 L1458.7 505.2 L1459.9 505.2 L1461.1 505.3 L1462.3 505.3 L1463.5 505.3 L1464.7 505.4 L1466.0 505.4 L1467.2 505.5 L1468.4 505.5 L1469.7 505.5 L1470.9 505.6 L1472.2 505.6 L1473.4 505.6 L1474.7 505.7 L1475.9 505.7 L1477.2 505.7 L1478.4 505.8 L1479.7 505.8 L1481.0 505.8 L1482.2 505.9 L1483.5 505.9 L1484.7 505.9 L1486.0 506.0 L1487.2 506.0 L1488.5 506.0 L1489.7 506.1 L1491.0 506.1 L1492.2 506.1 L1493.4 506.1 L1494.7 506.1 L1495.9 506.2 L1497.2 506.2 L1498.5 506.2 L1499.7 506.2 L1501.0 506.2 L1502.3 506.3 L1503.6 506.3 L1504.9 506.3 L1506.2 506.3 L1507.5 506.3 L1508.8 506.4 L1510.0 506.4 L1511.3 506.4 L1512.6 506.4 L1513.9 506.4 L1515.1 506.4 L1516.4 506.4 L1517.6 506.4 L1518.9 506.4 L1520.1 506.4 L1521.3 506.4 L1522.5 506.5 L1523.7 506.4 L1524.8 506.4 L1526.0 506.4 L1527.1 506.4 L1528.2 506.4 L1529.3 506.4 L1530.4 506.4 L1531.8 506.4 L1533.1 506.4 L1534.5 506.3 L1535.8 506.3 L1537.2 506.3 L1538.5 506.3 L1539.7 506.2 L1541.0 506.2 L1542.2 506.2 L1543.5 506.1 L1544.7 506.1 L1545.8 506.0 L1547.0 506.0 L1548.1 505.9 L1549.2 505.9 L1550.3 505.8 L1551.3 505.7 L1552.3 505.6 L1553.8 505.4 L1555.2 505.3 L1556.5 505.1 L1557.8 504.9 L1559.0 504.7 L1560.2 504.4 L1561.4 504.2 L1562.6 503.9 L1563.8 503.6 L1565.0 503.3 L1566.2 503.0 L1567.4 502.7 L1568.5 502.3 L1569.7 501.9 L1570.8 501.4 L1571.9 500.9 L1572.9 500.2 L1573.9 499.6 L1574.9 498.9 L1575.9 498.1 L1576.9 497.4 L1578.0 496.5 L1579.0 495.7 L1579.9 494.9 L1580.8 494.2 L1581.8 493.3 L1582.7 492.5 L1583.6 491.6 L1584.5 490.7 L1585.5 489.8 L1586.4 488.9 L1587.4 487.9 L1588.3 487.0 L1589.3 486.0 L1590.1 485.2 L1590.9 484.4 L1591.7 483.5 L1592.5 482.6 L1593.4 481.8 L1594.2 480.9 L1595.0 480.0 L1595.8 479.1 L1596.6 478.1 L1597.5 477.2 L1598.3 476.3 L1599.1 475.4 L1600.0 474.5 L1600.8 473.6 L1601.6 472.7 L1602.4 471.8 L1603.2 470.9 L1604.1 470.0 L1604.9 469.1 L1605.7 468.2 L1606.6 467.3 L1607.4 466.4 L1608.2 465.5 L1609.1 464.6 L1609.9 463.7 L1610.7 462.8 L1611.5 461.9 L1612.3 461.0 L1613.1 460.2 L1613.9 459.3 L1614.8 458.3 L1615.7 457.4 L1616.6 456.4 L1617.5 455.5 L1618.4 454.6 L1619.2 453.7 L1620.1 452.7 L1620.9 451.8 L1621.8 450.9 L1622.6 449.9 L1623.4 449.0 L1624.2 448.0 L1625.0 447.0 L1625.7 446.0 L1626.4 445.0 L1627.1 444.0 L1627.8 443.0 L1628.5 441.9 L1629.1 440.9 L1629.8 439.9 L1630.5 438.8 L1631.1 437.8 L1631.8 436.7 L1632.4 435.7 L1633.1 434.6 L1633.8 433.5 L1634.5 432.4 L1635.2 431.3 L1635.8 430.1 L1636.5 429.0 L1637.2 427.9 L1637.8 426.8 L1638.4 425.7 L1639.0 424.5 L1639.6 423.4 L1640.1 422.3 L1640.6 421.2 L1641.1 420.0 L1641.6 418.9 L1642.0 417.8 L1642.5 416.6 L1642.9 415.5 L1643.3 414.4 L1643.8 413.3 L1644.2 412.2 L1644.7 411.1 L1645.3 409.9 L1645.8 408.7 L1646.4 407.4 L1647.0 406.2 L1647.5 405.0 L1648.1 403.9 L1648.7 402.8 L1649.3 401.8 L1649.9 400.8 L1650.7 399.6 L1651.5 398.5 L1652.3 397.4 L1653.1 396.5 L1654.0 395.7 L1655.3 394.7 L1656.7 393.9 L1658.1 393.6 L1659.5 393.9 L1660.9 394.6 L1662.2 395.7 L1662.9 396.6 L1663.6 397.6 L1664.1 398.8 L1664.7 400.1 L1665.2 401.5 L1665.7 402.9 L1666.1 404.0 L1666.4 405.1 L1666.8 406.3 L1667.1 407.5 L1667.5 408.8 L1667.8 410.0 L1668.1 411.3 L1668.4 412.6 L1668.7 413.9 L1669.0 415.2 L1669.3 416.4 L1669.5 417.5 L1669.8 418.7 L1670.0 420.0 L1670.2 421.2 L1670.5 422.4 L1670.7 423.6 L1670.9 424.8 L1671.2 426.1 L1671.4 427.3 L1671.6 428.4 L1671.9 429.6 L1672.2 430.9 L1672.5 432.2 L1672.8 433.4 L1673.1 434.7 L1673.4 435.9 L1673.7 437.2 L1674.1 438.4 L1674.4 439.6 L1674.7 440.8 L1675.1 441.9 L1675.5 443.1 L1675.9 444.4 L1676.3 445.6 L1676.7 446.8 L1677.1 448.0 L1677.6 449.1 L1678.1 450.1 L1678.6 451.1 L1679.3 452.2 L1680.1 453.3 L1680.9 454.3 L1681.8 455.1 L1682.7 455.8 L1683.9 456.4 L1685.2 456.9 L1686.5 457.2 L1687.9 457.3 L1689.1 457.2 L1690.3 457.0 L1691.6 456.7 L1692.8 456.3 L1694.0 455.8 L1695.1 455.3 L1696.2 454.7 L1697.3 454.1 L1698.3 453.3 L1699.3 452.6 L1700.2 451.7 L1701.0 450.7 L1701.8 449.7 L1702.4 448.6 L1703.1 447.4 L1703.7 446.2 L1704.3 445.0 L1704.8 443.9 L1705.3 442.7 L1705.8 441.5 L1706.3 440.3 L1706.8 439.0 L1707.3 437.8 L1707.8 436.7 L1708.4 435.7 L1709.1 434.5 L1709.9 433.4 L1710.7 432.4 L1711.5 431.5 L1712.5 430.6 L1713.6 429.8 L1714.8 429.2 L1716.0 428.6 L1717.4 428.1 L1718.7 427.5 L1719.8 427.0 L1720.9 426.5 L1722.1 426.0 L1723.2 425.6 L1724.4 425.1 L1725.7 424.7 L1726.9 424.4 L1728.1 424.2 L1729.4 424.0 L1730.6 423.8 L1731.9 423.7 L1733.2 423.6 L1734.5 423.5 L1735.9 423.5 L1737.2 423.4 L1738.4 423.3 L1739.6 423.2 L1740.9 423.2 L1742.2 423.1 L1743.4 423.1 L1744.7 423.0 L1746.0 423.0 L1747.2 423.0 L1748.4 423.0 L1749.5 423.0 L1751.0 423.1 L1752.4 423.1 L1753.8 423.2 L1755.1 423.4 L1756.4 423.6 L1757.7 423.8 L1759.0 424.1 L1760.3 424.5 L1761.5 424.9 L1762.7 425.4 L1763.9 425.9 L1765.2 426.6 L1766.5 427.3 L1767.7 428.2 L1768.9 428.9 L1770.0 429.6 L1771.6 430.6 L1773.1 431.2 L1774.6 430.8 L1776.2 430.2 L1777.3 430.1 L1778.5 430.1 L1779.8 430.2 L1781.1 430.3 L1782.3 430.6 L1783.6 431.0 L1784.8 431.5 L1786.1 432.2 L1787.3 432.9 L1788.5 433.7 L1789.4 434.4 L1790.4 435.2 L1791.3 436.0 L1792.2 436.9 L1793.1 437.8 L1793.9 438.8 L1794.7 439.8 L1795.4 440.8 L1796.1 441.9 L1796.8 443.1 L1797.4 444.3 L1798.0 445.5 L1798.6 446.7 L1799.2 447.9 L1799.8 449.1 L1800.4 450.2 L1800.9 451.4 L1801.4 452.6 L1801.9 453.7 L1802.4 454.9 L1802.9 456.0 L1803.4 457.2 L1803.9 458.3 L1804.5 459.6 L1805.0 460.9 L1805.6 462.2 L1806.2 463.4 L1806.8 464.7 L1807.4 465.8 L1808.0 466.9 L1808.8 468.0 L1809.5 469.1 L1810.4 470.1 L1811.2 471.0 L1812.1 471.7 L1813.4 472.4 L1814.8 472.9 L1816.2 473.1 L1817.5 473.1 L1818.8 473.0 L1820.1 472.7 L1821.4 472.3 L1822.7 471.7 L1824.0 470.9 L1825.3 470.2 L1826.5 469.6 L1828.3 469.1 L1830.0 469.0 L1831.2 469.3 L1832.4 469.9 L1833.7 470.6 L1834.7 471.3 L1835.7 472.2 L1836.7 473.1 L1837.7 474.0 L1838.8 474.7 L1840.0 475.3 L1841.2 475.9 L1842.4 476.3 L1843.6 476.4 L1844.8 476.2 L1845.9 475.6 L1847.0 475.0 L1848.1 474.3 L1849.1 473.6 L1850.2 472.9 L1851.2 472.2 L1852.2 471.7 L1853.5 471.3 L1854.9 471.0 L1856.3 471.0 L1857.7 471.2 L1859.0 471.6 L1860.4 472.3 L1861.4 472.9 L1862.4 473.6 L1863.4 474.4 L1864.5 475.3 L1865.5 476.2 L1866.6 477.2 L1867.4 478.0 L1868.2 478.8 L1869.0 479.6 L1869.8 480.5 L1870.7 481.4 L1871.5 482.3 L1872.3 483.2 L1873.2 484.2 L1874.0 485.1 L1874.8 486.0 L1875.6 486.9 L1876.5 487.9 L1877.3 488.8 L1878.1 489.8 L1879.0 490.8 L1879.8 491.7 L1880.6 492.7 L1881.4 493.6 L1882.2 494.5 L1883.0 495.3 L1883.9 496.3 L1884.8 497.2 L1885.6 498.2 L1886.5 499.1 L1887.3 499.9 L1888.2 500.7 L1889.1 501.4 L1890.3 502.2 L1891.4 502.9 L1892.7 503.5 L1893.9 504.0 L1895.3 504.5 L1896.4 504.8 L1897.5 505.1 L1898.7 505.3 L1899.9 505.5 L1901.1 505.7 L1902.4 505.9 L1903.6 505.9 L1904.8 506.0 L1906.1 506.0 L1907.4 505.9 L1908.7 505.8 L1910.0 505.7 L1911.3 505.5 L1912.5 505.3 L1913.8 505.1 L1915.0 504.9 L1916.2 504.7 L1917.4 504.4 L1918.5 504.2 L1919.7 503.9 L1920.9 503.5 L1922.0 503.1 L1923.2 502.6 L1924.4 501.9 L1925.6 501.3 L1926.8 500.5 L1928.0 499.8 L1929.1 499.1 L1930.2 498.4 L1931.3 497.7 L1932.3 496.9 L1933.4 496.2 L1934.4 495.5 L1935.4 494.8 L1936.4 494.3 L1937.9 493.7 L1939.5 493.2" stroke="#008000" stroke-linecap="round"/>
</g>
<rect x="1036" y="340" width="31" height="760" fill="#fff"/>
<g stroke="#000" shape-rendering="crispEdges">
<line x1="531.0" y1="415.2" x2="531.0" y2="1143.0" stroke-width="2.0" stroke-dasharray="9.70 7.00"/>
<line x1="726.0" y1="448.0" x2="726.0" y2="1139.0" stroke-width="2.0" stroke-dasharray="9.70 6.92"/>
<line x1="927.0" y1="414.5" x2="927.0" y2="1157.0" stroke-width="2.0" stroke-dasharray="9.70 6.95"/>
<line x1="1171.0" y1="445.3" x2="1171.0" y2="1136.0" stroke-width="2.0" stroke-dasharray="9.70 6.91"/>
<line x1="1406.0" y1="502.6" x2="1406.0" y2="1192.0" stroke-width="2.0" stroke-dasharray="9.70 7.29"/>
<line x1="1505.5" y1="977.8" x2="1505.5" y2="1202.0" stroke-width="3.4" stroke-dasharray="11.00 5.40"/>
<line x1="1552.0" y1="507.6" x2="1552.0" y2="1196.0" stroke-width="2.0" stroke-dasharray="9.70 7.27"/>
<line x1="1680.5" y1="456.0" x2="1680.5" y2="1146.0" stroke-width="3.4" stroke-dasharray="11.00 5.98"/>
<line x1="1699.0" y1="456.0" x2="1699.0" y2="1145.0" stroke-width="2.0" stroke-dasharray="9.70 7.28"/>
<line x1="1815.5" y1="476.2" x2="1815.5" y2="1165.0" stroke-width="3.4" stroke-dasharray="11.00 5.95"/>
<line x1="1843.3" y1="477.0" x2="1843.3" y2="1166.0" stroke-width="3.4" stroke-dasharray="11.00 5.95"/>
<line x1="1904.8" y1="507.0" x2="1904.8" y2="1196.0" stroke-width="2.0" stroke-dasharray="9.70 7.28"/>
</g>
<g stroke="#000" stroke-width="4" fill="none" shape-rendering="crispEdges">
<line x1="132" y1="29" x2="132" y2="1419"/>
<line x1="1971" y1="29" x2="1971" y2="1419"/>
<line x1="130" y1="31" x2="1036" y2="31"/><line x1="1068" y1="31" x2="1973" y2="31"/>
<line x1="130" y1="1417" x2="1036" y2="1417"/><line x1="1068" y1="1417" x2="1973" y2="1417"/>
<line x1="181.0" y1="1417" x2="181.0" y2="1443.6"/>
<line x1="425.0" y1="1417" x2="425.0" y2="1443.6"/>
<line x1="669.0" y1="1417" x2="669.0" y2="1443.6"/>
<line x1="913.0" y1="1417" x2="913.0" y2="1443.6"/>
<line x1="303.0" y1="1417" x2="303.0" y2="1430"/>
<line x1="547.0" y1="1417" x2="547.0" y2="1430"/>
<line x1="791.0" y1="1417" x2="791.0" y2="1430"/>
<line x1="1099.1" y1="1417" x2="1099.1" y2="1443.6"/>
<line x1="1177.0" y1="1417" x2="1177.0" y2="1430"/>
<line x1="1254.9" y1="1417" x2="1254.9" y2="1443.6"/>
<line x1="1332.7" y1="1417" x2="1332.7" y2="1430"/>
<line x1="1410.6" y1="1417" x2="1410.6" y2="1443.6"/>
<line x1="1488.5" y1="1417" x2="1488.5" y2="1430"/>
<line x1="1566.4" y1="1417" x2="1566.4" y2="1443.6"/>
<line x1="1644.3" y1="1417" x2="1644.3" y2="1430"/>
<line x1="1722.1" y1="1417" x2="1722.1" y2="1443.6"/>
<line x1="1800.0" y1="1417" x2="1800.0" y2="1430"/>
<line x1="1877.9" y1="1417" x2="1877.9" y2="1443.6"/>
<line x1="1955.8" y1="1417" x2="1955.8" y2="1430"/>
</g>
<g stroke="#000" stroke-width="5.2" fill="none">
<line x1="1020.7" y1="58.7" x2="1051.1" y2="5.2"/>
<line x1="1020.7" y1="1444.7" x2="1051.1" y2="1391.2"/>
<line x1="1052.7" y1="58.7" x2="1083.1" y2="5.2"/>
<line x1="1052.7" y1="1444.7" x2="1083.1" y2="1391.2"/>
</g>
<text transform="translate(181.0 1498.0) scale(1 1.045)" font-family="Liberation Sans, Arial, sans-serif" font-size="44.5" text-anchor="middle" fill="#000" style="font-kerning:none">4000</text>
<text transform="translate(425.0 1498.0) scale(1 1.045)" font-family="Liberation Sans, Arial, sans-serif" font-size="44.5" text-anchor="middle" fill="#000" style="font-kerning:none">3750</text>
<text transform="translate(669.0 1498.0) scale(1 1.045)" font-family="Liberation Sans, Arial, sans-serif" font-size="44.5" text-anchor="middle" fill="#000" style="font-kerning:none">3500</text>
<text transform="translate(913.0 1498.0) scale(1 1.045)" font-family="Liberation Sans, Arial, sans-serif" font-size="44.5" text-anchor="middle" fill="#000" style="font-kerning:none">3250</text>
<text transform="translate(1099.1 1498.0) scale(1 1.045)" font-family="Liberation Sans, Arial, sans-serif" font-size="44.5" text-anchor="middle" fill="#000" style="font-kerning:none">1750</text>
<text transform="translate(1254.9 1498.0) scale(1 1.045)" font-family="Liberation Sans, Arial, sans-serif" font-size="44.5" text-anchor="middle" fill="#000" style="font-kerning:none">1500</text>
<text transform="translate(1410.6 1498.0) scale(1 1.045)" font-family="Liberation Sans, Arial, sans-serif" font-size="44.5" text-anchor="middle" fill="#000" style="font-kerning:none">1250</text>
<text transform="translate(1566.4 1498.0) scale(1 1.045)" font-family="Liberation Sans, Arial, sans-serif" font-size="44.5" text-anchor="middle" fill="#000" style="font-kerning:none">1000</text>
<text transform="translate(1722.1 1498.0) scale(1 1.045)" font-family="Liberation Sans, Arial, sans-serif" font-size="44.5" text-anchor="middle" fill="#000" style="font-kerning:none">750</text>
<text transform="translate(1877.9 1498.0) scale(1 1.045)" font-family="Liberation Sans, Arial, sans-serif" font-size="44.5" text-anchor="middle" fill="#000" style="font-kerning:none">500</text>
<text transform="translate(0 1604) scale(1 1.045)" font-family="Liberation Sans, Arial, sans-serif" font-size="58" fill="#000" style="font-kerning:none"><tspan x="811" y="0" style="font-kerning:normal">Wavelength </tspan><tspan x="1131.6">(</tspan><tspan x="1148.6">cm</tspan><tspan x="1227" dy="-20.48" font-size="38.5">−</tspan><tspan x="1252.6" dy="-3.06" font-size="38.5">1</tspan><tspan x="1276.1" dy="23.54">)</tspan></text>
<text transform="translate(91.0 632.4) rotate(-90) scale(1 1.045)" font-family="Liberation Sans, Arial, sans-serif" font-size="58" text-anchor="middle" fill="#000" style="font-kerning:none">Transmitance (%)</text>
<g stroke-width="6" stroke-linecap="round" shape-rendering="crispEdges">
<line x1="1586" y1="77" x2="1686" y2="77" stroke="#008080"/>
<line x1="1586" y1="133" x2="1686" y2="133" stroke="#808000"/>
<line x1="1586" y1="189" x2="1686" y2="189" stroke="#990000"/>
<line x1="1586" y1="245" x2="1686" y2="245" stroke="#000080"/>
<line x1="1586" y1="301" x2="1686" y2="301" stroke="#008000"/>
</g>
<text transform="translate(1698.3 92.2) scale(1 1.045)" font-family="Liberation Sans, Arial, sans-serif" font-size="45" fill="#000" style="font-kerning:none">M36-Si</text>
<text transform="translate(1698.3 148.2) scale(1 1.045)" font-family="Liberation Sans, Arial, sans-serif" font-size="45" fill="#000" style="font-kerning:none">M36-SiAl</text>
<text transform="translate(1698.3 204.2) scale(1 1.045)" font-family="Liberation Sans, Arial, sans-serif" font-size="45" fill="#000" style="font-kerning:none">M36-SiAlFe</text>
<text transform="translate(1698.3 260.2) scale(1 1.045)" font-family="Liberation Sans, Arial, sans-serif" font-size="45" fill="#000" style="font-kerning:none">FeM36-Si</text>
<text transform="translate(1698.3 316.2) scale(1 1.045)" font-family="Liberation Sans, Arial, sans-serif" font-size="45" fill="#000" style="font-kerning:none">FeM36-SiAl</text>
<text transform="translate(549.2 1243.0) rotate(-90) scale(1 1.045)" font-family="Liberation Sans, Arial, sans-serif" font-size="38.5" fill="#000" style="font-kerning:none">3640</text>
<text transform="translate(743.7 1228.5) rotate(-90) scale(1 1.045)" font-family="Liberation Sans, Arial, sans-serif" font-size="38.5" fill="#000" style="font-kerning:none">3445</text>
<text transform="translate(945.3 1249.5) rotate(-90) scale(1 1.045)" font-family="Liberation Sans, Arial, sans-serif" font-size="38.5" fill="#000" style="font-kerning:none">3235</text>
<text transform="translate(1189.9 1226.5) rotate(-90) scale(1 1.045)" font-family="Liberation Sans, Arial, sans-serif" font-size="38.5" fill="#000" style="font-kerning:none">1630</text>
<text transform="translate(1423.1 1284.0) rotate(-90) scale(1 1.045)" font-family="Liberation Sans, Arial, sans-serif" font-size="38.5" fill="#000" style="font-kerning:none">1245</text>
<text transform="translate(1523.5 1299.5) rotate(-90) scale(1 1.045)" font-family="Liberation Sans, Arial, sans-serif" font-size="38.5" fill="#000" style="font-kerning:none">1090</text>
<text transform="translate(1568.0 1289.0) rotate(-90) scale(1 1.045)" font-family="Liberation Sans, Arial, sans-serif" font-size="38.5" fill="#000" style="font-kerning:none">1015</text>
<text transform="translate(1688.7 1213.5) rotate(-90) scale(1 1.045)" font-family="Liberation Sans, Arial, sans-serif" font-size="38.5" fill="#000" style="font-kerning:none">810</text>
<text transform="translate(1727.7 1214.5) rotate(-90) scale(1 1.045)" font-family="Liberation Sans, Arial, sans-serif" font-size="38.5" fill="#000" style="font-kerning:none">790</text>
<text transform="translate(1820.7 1240.5) rotate(-90) scale(1 1.045)" font-family="Liberation Sans, Arial, sans-serif" font-size="38.5" font-weight="bold" fill="#646464" style="font-kerning:none">605</text>
<text transform="translate(1859.7 1234.0) rotate(-90) scale(1 1.045)" font-family="Liberation Sans, Arial, sans-serif" font-size="38.5" font-weight="bold" fill="#646464" style="font-kerning:none">550</text>
<text transform="translate(1920.7 1266.5) rotate(-90) scale(1 1.045)" font-family="Liberation Sans, Arial, sans-serif" font-size="38.5" fill="#000" style="font-kerning:none">455</text>
<path d="M1717 1250H1868V1316H1717Z M1720 1252V1313H1865V1252Z" fill="#000" fill-rule="evenodd" shape-rendering="crispEdges"/>
<text transform="translate(1793.3 1296.9) scale(1 1.045)" font-family="Liberation Sans, Arial, sans-serif" font-size="38.5" text-anchor="middle" font-weight="bold" fill="#646464" style="font-kerning:none">MWW</text>
<line x1="1726.0" y1="466.5" x2="1764.3" y2="466.5" stroke="#000" stroke-width="3" shape-rendering="crispEdges"/>
<polygon points="1762.3,456.9 1801.0,466.3 1762.3,475.7" fill="#000"/>
<line x1="1727.0" y1="697.2" x2="1765.9" y2="697.2" stroke="#000" stroke-width="3" shape-rendering="crispEdges"/>
<polygon points="1763.9,687.6 1802.5,697.0 1763.9,706.4" fill="#000"/>
<line x1="1730.0" y1="821.6" x2="1768.3" y2="821.6" stroke="#000" stroke-width="3" shape-rendering="crispEdges"/>
<polygon points="1766.3,812.4 1803.9,821.4 1766.3,830.4" fill="#000"/>
</svg>
</body></html>
